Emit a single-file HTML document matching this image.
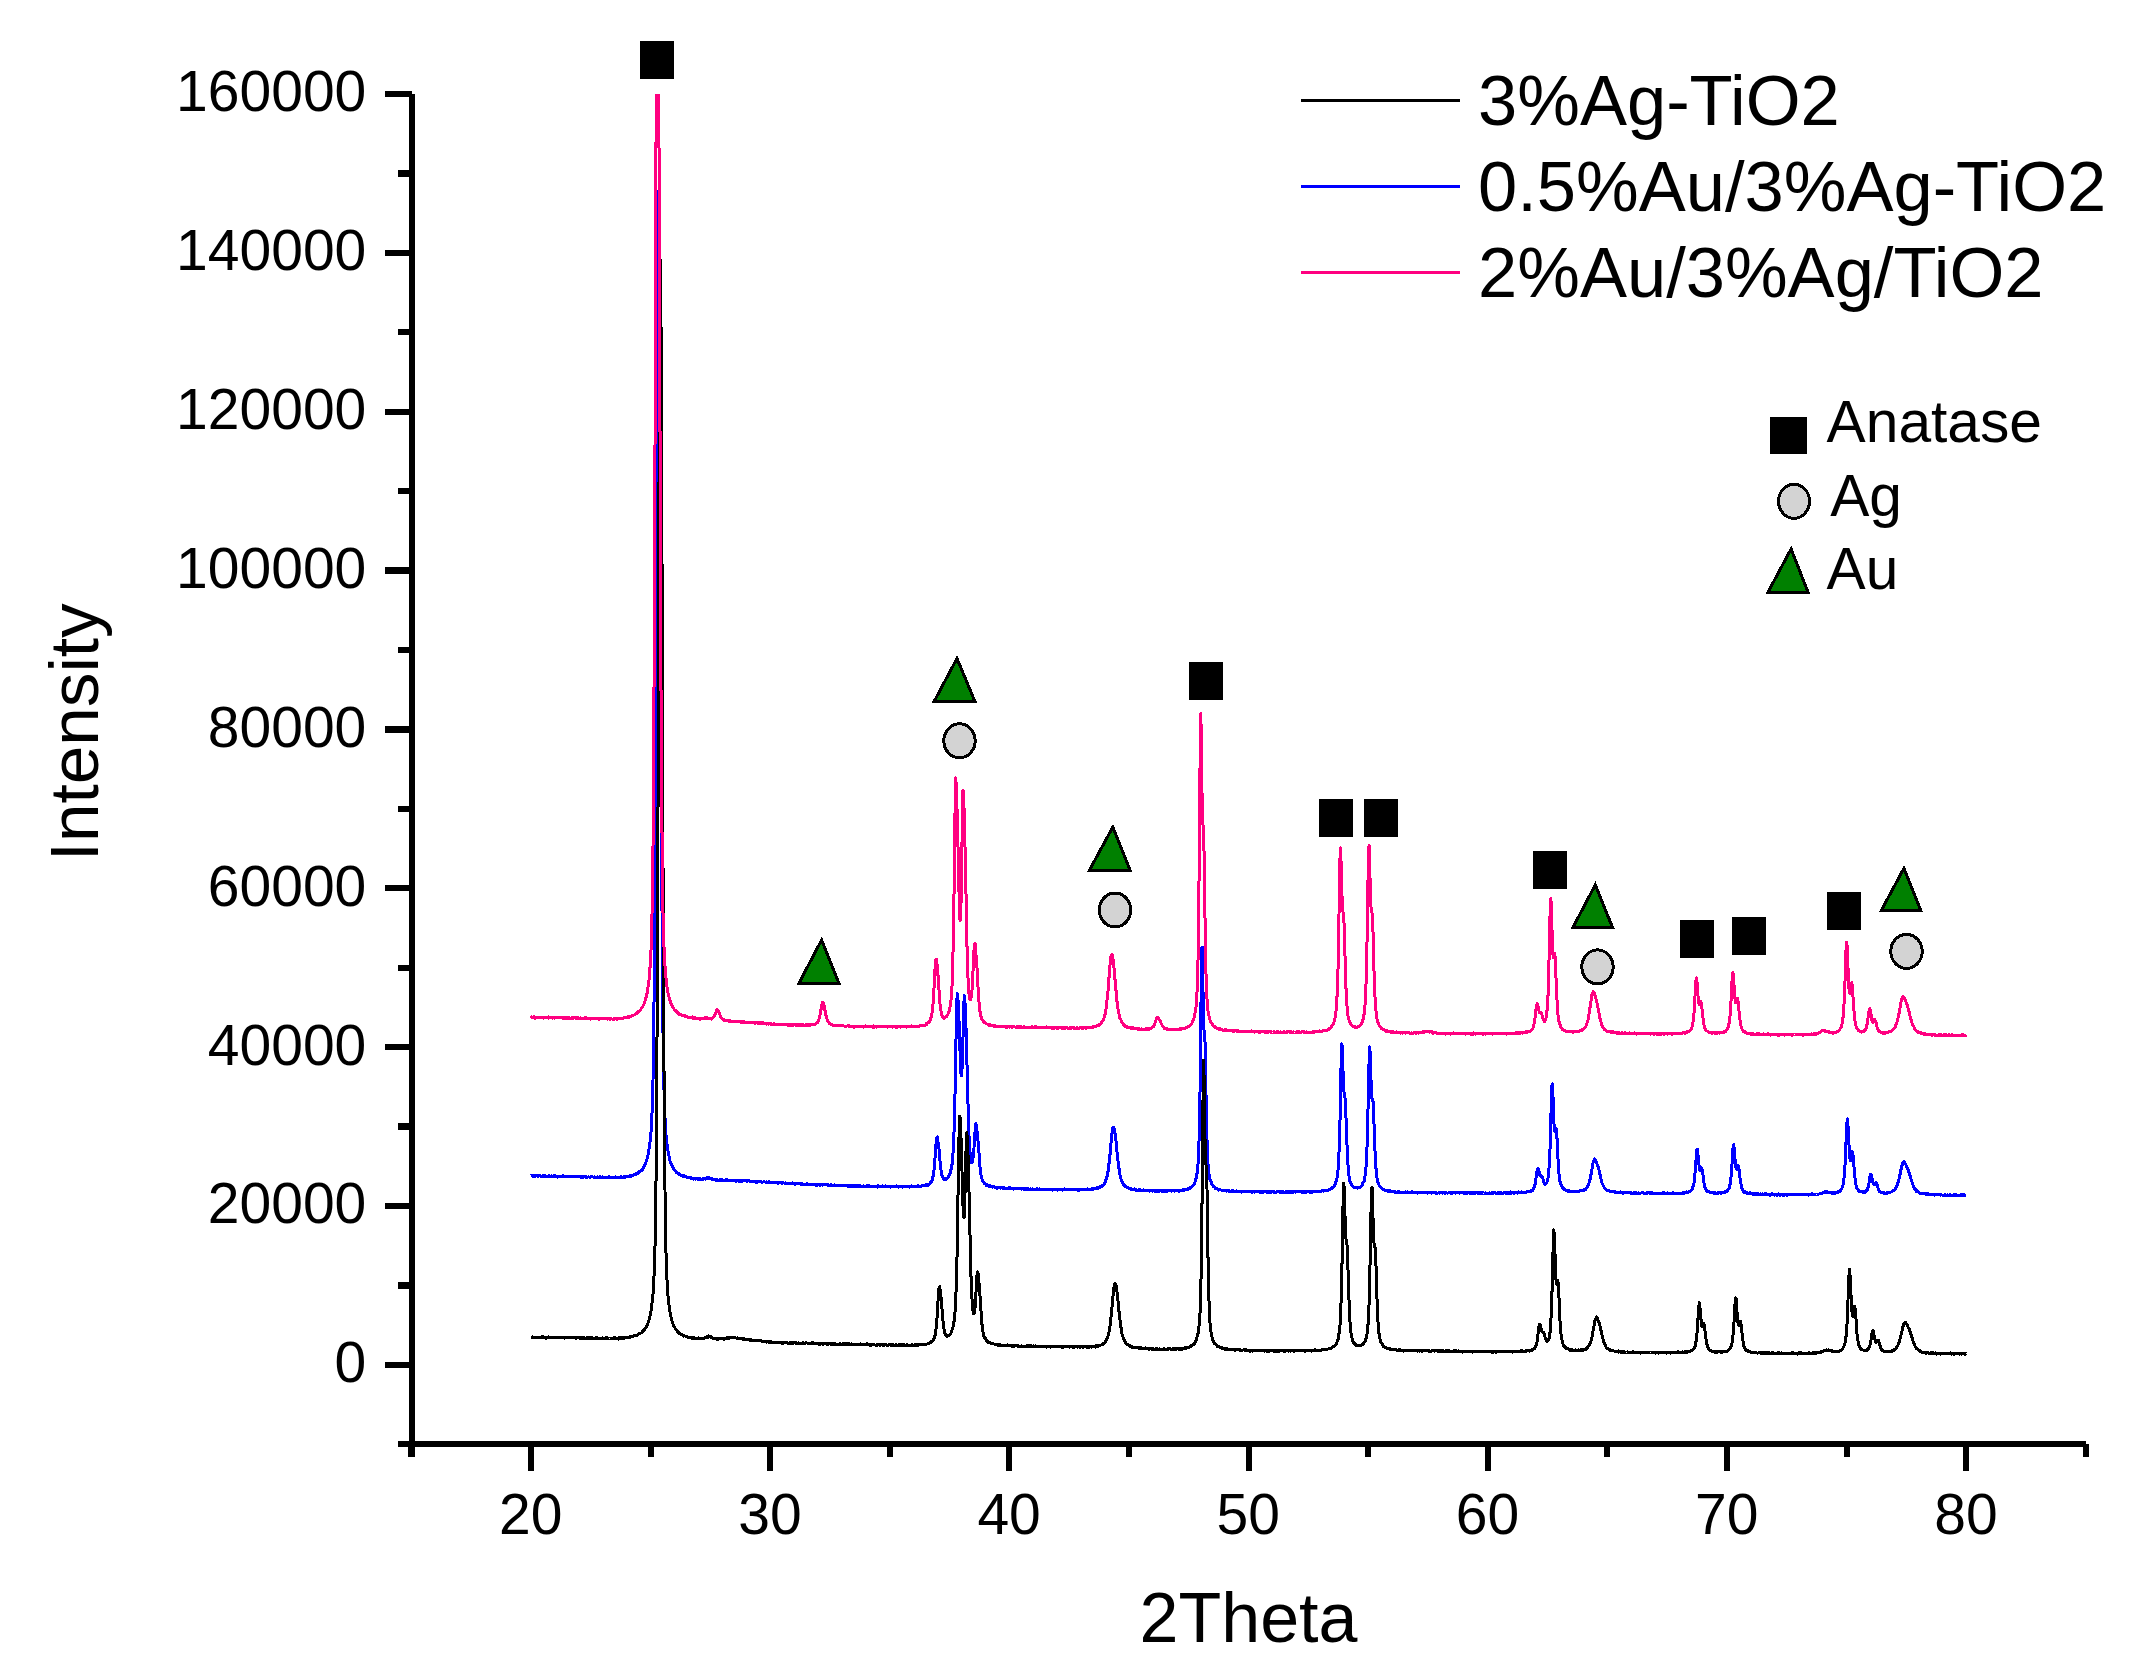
<!DOCTYPE html>
<html lang="en">
<head>
<meta charset="utf-8">
<title>XRD patterns</title>
<style>
html,body{margin:0;padding:0;background:#fff;}
body{width:2138px;height:1669px;overflow:hidden;}
svg{display:block;}
</style>
</head>
<body>
<svg width="2138" height="1669" viewBox="0 0 2138 1669">
<rect width="2138" height="1669" fill="#fff"/>
<defs><clipPath id="plotclip"><rect x="400" y="94" width="1700" height="1360"/></clipPath></defs>
<g fill="none" stroke-width="3" stroke-linejoin="round" stroke-linecap="butt" shape-rendering="crispEdges" clip-path="url(#plotclip)">
<path stroke="#0000ff" d="M531.0,1175.9 L531.5,1175.7 L532.0,1175.7 L532.4,1175.1 L532.9,1176.3 L533.4,1176.2 L533.9,1175.8 L534.3,1176.1 L534.8,1176.0 L535.3,1175.7 L535.8,1176.2 L536.3,1175.8 L536.7,1175.8 L537.2,1175.7 L537.7,1176.1 L538.2,1175.9 L538.7,1176.1 L539.1,1175.8 L539.6,1176.0 L540.1,1175.7 L540.6,1176.2 L541.0,1176.0 L541.5,1176.1 L542.0,1176.1 L542.5,1175.7 L543.0,1176.2 L543.4,1176.6 L543.9,1175.6 L544.4,1175.6 L544.9,1175.6 L545.4,1176.3 L545.8,1176.1 L546.3,1176.4 L546.8,1176.3 L547.3,1176.2 L547.7,1176.2 L548.2,1176.1 L548.7,1176.4 L549.2,1175.8 L549.7,1176.0 L550.1,1176.2 L550.6,1176.7 L551.1,1176.0 L551.6,1175.9 L552.0,1176.0 L552.5,1176.5 L553.0,1176.1 L553.5,1176.6 L554.0,1175.7 L554.4,1176.6 L554.9,1176.5 L555.4,1175.9 L555.9,1176.3 L556.4,1176.6 L556.8,1176.3 L557.3,1176.6 L557.8,1177.0 L558.3,1176.4 L558.7,1176.2 L559.2,1176.1 L559.7,1176.5 L560.2,1176.3 L560.7,1176.3 L561.1,1176.3 L561.6,1176.5 L562.1,1176.1 L562.6,1175.9 L563.1,1175.7 L563.5,1176.7 L564.0,1176.4 L564.5,1176.8 L565.0,1176.4 L565.4,1176.2 L565.9,1176.6 L566.4,1176.4 L566.9,1176.1 L567.4,1176.2 L567.8,1176.9 L568.3,1176.6 L568.8,1176.6 L569.3,1176.4 L569.8,1176.3 L570.2,1176.7 L570.7,1176.5 L571.2,1176.3 L571.7,1176.5 L572.1,1176.3 L572.6,1176.6 L573.1,1176.8 L573.6,1176.3 L574.1,1176.9 L574.5,1176.4 L575.0,1176.6 L575.5,1176.3 L576.0,1176.5 L576.4,1176.6 L576.9,1176.5 L577.4,1176.4 L577.9,1176.4 L578.4,1176.4 L578.8,1176.2 L579.3,1176.5 L579.8,1176.8 L580.3,1176.9 L580.8,1176.9 L581.2,1177.4 L581.7,1176.8 L582.2,1176.6 L582.7,1177.3 L583.1,1176.5 L583.6,1177.1 L584.1,1176.6 L584.6,1176.9 L585.1,1176.3 L585.5,1177.1 L586.0,1176.8 L586.5,1176.6 L587.0,1177.4 L587.5,1177.2 L587.9,1177.0 L588.4,1176.8 L588.9,1177.0 L589.4,1177.0 L589.8,1177.2 L590.3,1177.3 L590.8,1176.9 L591.3,1176.9 L591.8,1177.0 L592.2,1176.7 L592.7,1177.0 L593.2,1177.1 L593.7,1177.4 L594.1,1177.6 L594.6,1177.0 L595.1,1177.4 L595.6,1177.1 L596.1,1177.8 L596.5,1177.2 L597.0,1177.4 L597.5,1177.0 L598.0,1177.1 L598.5,1177.4 L598.9,1177.2 L599.4,1177.4 L599.9,1176.9 L600.4,1177.6 L600.8,1177.1 L601.3,1177.9 L601.8,1177.3 L602.3,1177.7 L602.8,1177.0 L603.2,1177.6 L603.7,1177.2 L604.2,1177.3 L604.7,1177.5 L605.2,1177.4 L605.6,1177.6 L606.1,1177.7 L606.6,1177.7 L607.1,1177.5 L607.5,1177.1 L608.0,1177.3 L608.5,1177.5 L609.0,1176.9 L609.5,1177.7 L609.9,1177.5 L610.4,1177.5 L610.9,1177.8 L611.4,1177.7 L611.8,1177.6 L612.3,1177.2 L612.8,1177.6 L613.3,1177.6 L613.8,1177.3 L614.2,1177.8 L614.7,1177.7 L615.2,1177.0 L615.7,1177.5 L616.2,1177.1 L616.6,1177.8 L617.1,1177.7 L617.6,1177.1 L618.1,1177.2 L618.5,1177.5 L619.0,1177.3 L619.5,1177.8 L620.0,1177.6 L620.5,1177.3 L620.9,1177.5 L621.4,1176.7 L621.9,1177.3 L622.4,1177.5 L622.9,1177.1 L623.3,1176.9 L623.8,1177.2 L624.3,1177.6 L624.8,1177.0 L625.2,1176.6 L625.7,1177.2 L626.2,1176.2 L626.7,1176.8 L627.2,1176.4 L627.6,1176.8 L628.1,1176.2 L628.6,1176.7 L629.1,1176.3 L629.6,1175.7 L630.0,1175.5 L630.5,1175.9 L631.0,1176.2 L631.5,1175.8 L631.9,1175.6 L632.4,1175.4 L632.9,1175.5 L633.4,1175.3 L633.9,1175.1 L634.3,1174.5 L634.8,1175.0 L635.3,1174.8 L635.8,1173.9 L636.2,1174.7 L636.7,1174.0 L637.2,1173.4 L637.7,1172.7 L638.2,1173.1 L638.6,1172.8 L639.1,1172.1 L639.6,1171.4 L640.1,1171.8 L640.6,1170.9 L641.0,1170.5 L641.5,1170.9 L642.0,1170.2 L642.5,1169.2 L642.9,1168.2 L643.4,1167.8 L643.9,1166.2 L644.4,1166.0 L644.9,1164.8 L645.3,1163.5 L645.8,1162.3 L646.3,1161.5 L646.8,1159.9 L647.3,1158.2 L647.7,1156.5 L648.2,1153.8 L648.7,1151.2 L649.2,1148.2 L649.6,1145.3 L650.1,1141.6 L650.6,1136.6 L651.1,1131.0 L651.6,1123.1 L652.0,1113.4 L652.5,1099.8 L653.0,1080.6 L653.5,1054.2 L653.9,1015.3 L654.4,961.3 L654.9,889.6 L655.4,797.8 L655.9,685.7 L656.3,559.2 L656.8,426.7 L657.3,307.9 L657.8,223.7 L658.3,191.5 L658.7,213.0 L659.2,280.6 L659.7,382.5 L660.2,503.9 L660.6,629.1 L661.1,745.1 L661.6,844.9 L662.1,925.0 L662.6,986.5 L663.0,1032.8 L663.5,1065.5 L664.0,1089.7 L664.5,1106.2 L665.0,1117.7 L665.4,1127.2 L665.9,1134.0 L666.4,1138.4 L666.9,1143.4 L667.3,1147.2 L667.8,1149.9 L668.3,1152.9 L668.8,1155.3 L669.3,1157.8 L669.7,1159.5 L670.2,1161.8 L670.7,1162.4 L671.2,1164.1 L671.6,1165.0 L672.1,1166.1 L672.6,1166.6 L673.1,1167.2 L673.6,1168.3 L674.0,1169.5 L674.5,1170.3 L675.0,1170.7 L675.5,1171.2 L676.0,1171.3 L676.4,1172.4 L676.9,1172.8 L677.4,1172.7 L677.9,1173.2 L678.3,1173.3 L678.8,1174.3 L679.3,1174.3 L679.8,1174.4 L680.3,1174.9 L680.7,1175.1 L681.2,1175.1 L681.7,1175.1 L682.2,1175.3 L682.7,1175.4 L683.1,1176.2 L683.6,1176.8 L684.1,1175.9 L684.6,1176.6 L685.0,1176.8 L685.5,1176.6 L686.0,1177.0 L686.5,1176.8 L687.0,1177.6 L687.4,1177.2 L687.9,1177.5 L688.4,1177.7 L688.9,1177.5 L689.4,1177.2 L689.8,1177.7 L690.3,1178.1 L690.8,1178.0 L691.3,1178.1 L691.7,1177.8 L692.2,1178.3 L692.7,1178.5 L693.2,1178.4 L693.7,1179.0 L694.1,1178.4 L694.6,1178.2 L695.1,1178.1 L695.6,1179.0 L696.0,1178.7 L696.5,1179.0 L697.0,1178.9 L697.5,1179.3 L698.0,1179.2 L698.4,1178.8 L698.9,1179.0 L699.4,1179.3 L699.9,1178.7 L700.4,1179.5 L700.8,1179.4 L701.3,1179.4 L701.8,1179.0 L702.3,1179.2 L702.7,1178.8 L703.2,1179.1 L703.7,1178.9 L704.2,1179.0 L704.7,1178.8 L705.1,1178.9 L705.6,1179.1 L706.1,1178.3 L706.6,1178.7 L707.1,1177.8 L707.5,1177.6 L708.0,1178.1 L708.5,1178.1 L709.0,1178.2 L709.4,1177.7 L709.9,1178.3 L710.4,1178.5 L710.9,1179.0 L711.4,1178.8 L711.8,1179.2 L712.3,1178.9 L712.8,1179.3 L713.3,1179.3 L713.7,1179.7 L714.2,1179.4 L714.7,1179.5 L715.2,1180.0 L715.7,1180.3 L716.1,1180.0 L716.6,1180.0 L717.1,1179.9 L717.6,1180.3 L718.1,1180.2 L718.5,1180.6 L719.0,1180.2 L719.5,1179.9 L720.0,1180.0 L720.4,1179.9 L720.9,1179.8 L721.4,1180.6 L721.9,1180.5 L722.4,1179.9 L722.8,1180.8 L723.3,1180.4 L723.8,1180.0 L724.3,1180.4 L724.8,1180.3 L725.2,1180.1 L725.7,1179.8 L726.2,1180.4 L726.7,1180.5 L727.1,1179.7 L727.6,1180.6 L728.1,1180.6 L728.6,1180.3 L729.1,1180.5 L729.5,1180.4 L730.0,1180.3 L730.5,1180.4 L731.0,1180.9 L731.4,1180.1 L731.9,1180.6 L732.4,1180.6 L732.9,1180.4 L733.4,1180.5 L733.8,1180.2 L734.3,1180.4 L734.8,1180.6 L735.3,1180.7 L735.8,1180.4 L736.2,1181.5 L736.7,1180.5 L737.2,1180.7 L737.7,1180.6 L738.1,1180.6 L738.6,1181.1 L739.1,1180.6 L739.6,1181.1 L740.1,1181.1 L740.5,1180.5 L741.0,1181.1 L741.5,1180.6 L742.0,1181.5 L742.5,1180.7 L742.9,1180.5 L743.4,1180.3 L743.9,1180.5 L744.4,1180.7 L744.8,1180.6 L745.3,1180.6 L745.8,1180.8 L746.3,1180.9 L746.8,1181.4 L747.2,1180.6 L747.7,1180.9 L748.2,1180.8 L748.7,1180.7 L749.2,1180.8 L749.6,1180.9 L750.1,1181.4 L750.6,1181.2 L751.1,1181.1 L751.5,1181.5 L752.0,1181.4 L752.5,1181.3 L753.0,1181.5 L753.5,1181.2 L753.9,1181.6 L754.4,1181.6 L754.9,1181.4 L755.4,1181.2 L755.8,1182.0 L756.3,1181.6 L756.8,1182.5 L757.3,1181.4 L757.8,1181.9 L758.2,1181.6 L758.7,1181.8 L759.2,1182.0 L759.7,1181.5 L760.2,1181.8 L760.6,1181.9 L761.1,1181.9 L761.6,1182.0 L762.1,1182.2 L762.5,1182.2 L763.0,1182.0 L763.5,1181.9 L764.0,1181.7 L764.5,1181.8 L764.9,1181.9 L765.4,1182.3 L765.9,1182.0 L766.4,1181.8 L766.9,1182.3 L767.3,1182.0 L767.8,1182.0 L768.3,1182.2 L768.8,1182.4 L769.2,1181.6 L769.7,1182.0 L770.2,1182.4 L770.7,1182.3 L771.2,1182.1 L771.6,1182.3 L772.1,1182.8 L772.6,1182.3 L773.1,1182.7 L773.5,1182.7 L774.0,1182.4 L774.5,1182.7 L775.0,1182.5 L775.5,1182.4 L775.9,1182.3 L776.4,1182.9 L776.9,1182.6 L777.4,1182.6 L777.9,1182.4 L778.3,1183.3 L778.8,1183.0 L779.3,1182.8 L779.8,1182.7 L780.2,1182.4 L780.7,1183.0 L781.2,1183.0 L781.7,1182.6 L782.2,1183.3 L782.6,1183.2 L783.1,1182.8 L783.6,1182.9 L784.1,1183.0 L784.6,1183.1 L785.0,1183.1 L785.5,1182.7 L786.0,1183.6 L786.5,1183.3 L786.9,1183.6 L787.4,1183.6 L787.9,1183.2 L788.4,1183.4 L788.9,1183.5 L789.3,1183.6 L789.8,1183.3 L790.3,1183.2 L790.8,1183.4 L791.2,1183.2 L791.7,1183.3 L792.2,1182.9 L792.7,1183.5 L793.2,1183.3 L793.6,1183.4 L794.1,1183.6 L794.6,1183.7 L795.1,1184.2 L795.6,1183.7 L796.0,1183.3 L796.5,1183.7 L797.0,1183.6 L797.5,1183.9 L797.9,1183.6 L798.4,1183.6 L798.9,1183.7 L799.4,1183.7 L799.9,1183.4 L800.3,1183.7 L800.8,1183.9 L801.3,1184.3 L801.8,1183.9 L802.3,1183.9 L802.7,1184.2 L803.2,1184.2 L803.7,1184.5 L804.2,1184.2 L804.6,1184.1 L805.1,1184.5 L805.6,1184.6 L806.1,1184.0 L806.6,1184.2 L807.0,1183.7 L807.5,1184.1 L808.0,1184.0 L808.5,1184.2 L809.0,1184.1 L809.4,1184.3 L809.9,1184.3 L810.4,1184.5 L810.9,1184.4 L811.3,1184.2 L811.8,1184.0 L812.3,1184.8 L812.8,1184.8 L813.3,1184.3 L813.7,1184.6 L814.2,1184.1 L814.7,1184.1 L815.2,1184.5 L815.6,1185.0 L816.1,1184.3 L816.6,1184.4 L817.1,1185.1 L817.6,1184.1 L818.0,1184.8 L818.5,1184.8 L819.0,1184.6 L819.5,1184.7 L820.0,1185.4 L820.4,1184.3 L820.9,1184.5 L821.4,1184.5 L821.9,1184.4 L822.3,1184.2 L822.8,1185.0 L823.3,1184.6 L823.8,1184.1 L824.3,1184.4 L824.7,1184.7 L825.2,1184.8 L825.7,1184.3 L826.2,1184.7 L826.7,1184.9 L827.1,1185.0 L827.6,1185.1 L828.1,1184.5 L828.6,1185.6 L829.0,1185.1 L829.5,1185.6 L830.0,1186.0 L830.5,1185.2 L831.0,1184.9 L831.4,1185.5 L831.9,1185.2 L832.4,1185.2 L832.9,1185.0 L833.3,1185.8 L833.8,1185.3 L834.3,1185.0 L834.8,1185.3 L835.3,1185.1 L835.7,1185.5 L836.2,1185.4 L836.7,1185.2 L837.2,1185.7 L837.7,1185.4 L838.1,1185.8 L838.6,1185.9 L839.1,1185.5 L839.6,1185.4 L840.0,1185.6 L840.5,1185.9 L841.0,1185.6 L841.5,1185.7 L842.0,1185.6 L842.4,1185.7 L842.9,1185.8 L843.4,1185.5 L843.9,1185.5 L844.4,1185.7 L844.8,1185.5 L845.3,1185.8 L845.8,1185.9 L846.3,1185.7 L846.7,1185.6 L847.2,1185.5 L847.7,1186.3 L848.2,1186.0 L848.7,1185.5 L849.1,1185.6 L849.6,1186.3 L850.1,1186.2 L850.6,1185.9 L851.0,1186.2 L851.5,1185.4 L852.0,1185.9 L852.5,1186.1 L853.0,1185.4 L853.4,1185.7 L853.9,1186.1 L854.4,1186.2 L854.9,1185.8 L855.4,1186.0 L855.8,1186.4 L856.3,1185.9 L856.8,1185.6 L857.3,1186.0 L857.7,1185.9 L858.2,1186.4 L858.7,1186.1 L859.2,1185.8 L859.7,1186.7 L860.1,1185.9 L860.6,1186.2 L861.1,1186.2 L861.6,1186.3 L862.1,1186.1 L862.5,1186.3 L863.0,1186.1 L863.5,1185.7 L864.0,1186.1 L864.4,1186.1 L864.9,1186.1 L865.4,1186.2 L865.9,1186.0 L866.4,1186.5 L866.8,1186.6 L867.3,1185.6 L867.8,1186.2 L868.3,1186.0 L868.8,1185.5 L869.2,1186.3 L869.7,1186.1 L870.2,1186.1 L870.7,1186.1 L871.1,1186.6 L871.6,1186.6 L872.1,1186.4 L872.6,1186.5 L873.1,1186.3 L873.5,1186.3 L874.0,1186.1 L874.5,1186.3 L875.0,1186.1 L875.4,1186.4 L875.9,1186.6 L876.4,1186.4 L876.9,1186.7 L877.4,1187.1 L877.8,1185.8 L878.3,1186.4 L878.8,1186.2 L879.3,1186.3 L879.8,1186.0 L880.2,1186.4 L880.7,1186.4 L881.2,1186.3 L881.7,1186.4 L882.1,1186.3 L882.6,1185.8 L883.1,1186.8 L883.6,1186.4 L884.1,1186.2 L884.5,1186.6 L885.0,1186.3 L885.5,1185.9 L886.0,1186.8 L886.5,1186.1 L886.9,1186.5 L887.4,1186.6 L887.9,1186.9 L888.4,1186.9 L888.8,1186.6 L889.3,1186.3 L889.8,1186.5 L890.3,1186.9 L890.8,1187.1 L891.2,1186.7 L891.7,1186.4 L892.2,1186.9 L892.7,1186.5 L893.1,1186.5 L893.6,1186.5 L894.1,1186.8 L894.6,1186.7 L895.1,1186.9 L895.5,1187.0 L896.0,1186.8 L896.5,1186.0 L897.0,1186.2 L897.5,1186.7 L897.9,1186.6 L898.4,1187.2 L898.9,1186.6 L899.4,1186.6 L899.8,1186.9 L900.3,1186.9 L900.8,1186.6 L901.3,1186.8 L901.8,1186.3 L902.2,1186.4 L902.7,1187.0 L903.2,1186.2 L903.7,1186.9 L904.2,1186.8 L904.6,1186.9 L905.1,1186.9 L905.6,1186.8 L906.1,1186.0 L906.5,1186.3 L907.0,1186.5 L907.5,1186.9 L908.0,1186.3 L908.5,1186.4 L908.9,1186.5 L909.4,1187.0 L909.9,1186.2 L910.4,1186.2 L910.8,1186.7 L911.3,1186.0 L911.8,1186.6 L912.3,1186.4 L912.8,1186.1 L913.2,1186.4 L913.7,1186.2 L914.2,1186.5 L914.7,1186.6 L915.2,1186.9 L915.6,1186.4 L916.1,1186.4 L916.6,1186.2 L917.1,1186.4 L917.5,1186.6 L918.0,1185.8 L918.5,1186.5 L919.0,1186.1 L919.5,1186.2 L919.9,1186.3 L920.4,1186.4 L920.9,1186.1 L921.4,1185.9 L921.9,1186.1 L922.3,1185.9 L922.8,1185.8 L923.3,1185.8 L923.8,1185.9 L924.2,1185.7 L924.7,1185.6 L925.2,1185.1 L925.7,1185.3 L926.2,1184.7 L926.6,1185.2 L927.1,1184.6 L927.6,1185.1 L928.1,1185.3 L928.6,1184.1 L929.0,1184.4 L929.5,1183.8 L930.0,1183.1 L930.5,1182.6 L930.9,1182.4 L931.4,1181.9 L931.9,1180.7 L932.4,1178.9 L932.9,1177.2 L933.3,1175.0 L933.8,1172.0 L934.3,1167.3 L934.8,1161.7 L935.2,1155.3 L935.7,1147.8 L936.2,1141.6 L936.7,1137.9 L937.2,1136.9 L937.6,1139.4 L938.1,1142.3 L938.6,1146.0 L939.1,1149.8 L939.6,1155.0 L940.0,1160.9 L940.5,1165.6 L941.0,1169.9 L941.5,1172.4 L941.9,1175.0 L942.4,1176.4 L942.9,1177.8 L943.4,1178.4 L943.9,1179.1 L944.3,1179.6 L944.8,1179.6 L945.3,1178.9 L945.8,1179.5 L946.3,1179.2 L946.7,1178.5 L947.2,1178.1 L947.7,1177.8 L948.2,1177.4 L948.6,1176.4 L949.1,1175.1 L949.6,1174.6 L950.1,1173.3 L950.6,1172.4 L951.0,1169.4 L951.5,1168.0 L952.0,1164.7 L952.5,1160.0 L952.9,1154.6 L953.4,1146.2 L953.9,1135.4 L954.4,1120.2 L954.9,1101.2 L955.3,1077.3 L955.8,1050.2 L956.3,1023.6 L956.8,1002.5 L957.3,993.3 L957.7,995.2 L958.2,1003.0 L958.7,1013.3 L959.2,1025.0 L959.6,1038.4 L960.1,1054.1 L960.6,1067.1 L961.1,1075.0 L961.6,1075.8 L962.0,1069.3 L962.5,1056.4 L963.0,1037.7 L963.5,1017.6 L964.0,1001.5 L964.4,995.7 L964.9,1000.2 L965.4,1011.3 L965.9,1023.9 L966.3,1038.8 L966.8,1056.3 L967.3,1076.8 L967.8,1096.2 L968.3,1113.6 L968.7,1129.0 L969.2,1139.7 L969.7,1148.4 L970.2,1154.4 L970.6,1158.4 L971.1,1161.6 L971.6,1162.7 L972.1,1162.5 L972.6,1161.4 L973.0,1158.4 L973.5,1154.2 L974.0,1147.7 L974.5,1139.9 L975.0,1131.9 L975.4,1125.7 L975.9,1123.6 L976.4,1125.1 L976.9,1129.3 L977.3,1133.8 L977.8,1139.0 L978.3,1144.2 L978.8,1149.9 L979.3,1157.4 L979.7,1163.5 L980.2,1168.7 L980.7,1173.0 L981.2,1175.7 L981.7,1177.0 L982.1,1179.3 L982.6,1180.5 L983.1,1181.5 L983.6,1182.5 L984.0,1182.4 L984.5,1183.5 L985.0,1183.2 L985.5,1184.0 L986.0,1184.5 L986.4,1185.3 L986.9,1184.7 L987.4,1184.7 L987.9,1185.5 L988.4,1185.4 L988.8,1186.2 L989.3,1185.7 L989.8,1185.8 L990.3,1186.5 L990.7,1186.3 L991.2,1186.7 L991.7,1186.1 L992.2,1187.1 L992.7,1186.6 L993.1,1187.0 L993.6,1186.6 L994.1,1186.6 L994.6,1187.0 L995.0,1187.2 L995.5,1187.6 L996.0,1187.4 L996.5,1187.5 L997.0,1187.6 L997.4,1188.3 L997.9,1187.3 L998.4,1187.9 L998.9,1187.6 L999.4,1187.7 L999.8,1187.5 L1000.3,1188.1 L1000.8,1187.4 L1001.3,1187.5 L1001.7,1187.8 L1002.2,1187.6 L1002.7,1188.1 L1003.2,1188.2 L1003.7,1187.8 L1004.1,1188.3 L1004.6,1187.9 L1005.1,1188.1 L1005.6,1188.1 L1006.1,1188.7 L1006.5,1188.2 L1007.0,1188.0 L1007.5,1188.0 L1008.0,1188.6 L1008.4,1187.8 L1008.9,1188.2 L1009.4,1188.3 L1009.9,1187.7 L1010.4,1188.3 L1010.8,1188.7 L1011.3,1188.5 L1011.8,1188.2 L1012.3,1188.7 L1012.7,1188.7 L1013.2,1189.1 L1013.7,1188.4 L1014.2,1188.5 L1014.7,1188.6 L1015.1,1188.6 L1015.6,1188.7 L1016.1,1188.6 L1016.6,1188.5 L1017.1,1188.3 L1017.5,1188.6 L1018.0,1188.3 L1018.5,1188.5 L1019.0,1188.6 L1019.4,1188.9 L1019.9,1189.0 L1020.4,1188.5 L1020.9,1188.9 L1021.4,1189.1 L1021.8,1188.9 L1022.3,1188.4 L1022.8,1188.3 L1023.3,1189.1 L1023.8,1189.2 L1024.2,1189.0 L1024.7,1188.7 L1025.2,1189.4 L1025.7,1189.3 L1026.1,1189.0 L1026.6,1188.9 L1027.1,1188.5 L1027.6,1189.2 L1028.1,1188.6 L1028.5,1189.3 L1029.0,1189.3 L1029.5,1189.1 L1030.0,1189.5 L1030.4,1189.0 L1030.9,1189.3 L1031.4,1189.4 L1031.9,1189.2 L1032.4,1189.0 L1032.8,1189.5 L1033.3,1189.3 L1033.8,1189.1 L1034.3,1189.2 L1034.8,1189.3 L1035.2,1189.9 L1035.7,1189.3 L1036.2,1189.2 L1036.7,1189.0 L1037.1,1188.9 L1037.6,1188.8 L1038.1,1189.4 L1038.6,1189.3 L1039.1,1189.0 L1039.5,1188.9 L1040.0,1189.3 L1040.5,1189.2 L1041.0,1189.0 L1041.5,1189.5 L1041.9,1189.4 L1042.4,1189.4 L1042.9,1189.6 L1043.4,1189.2 L1043.8,1189.8 L1044.3,1189.1 L1044.8,1189.6 L1045.3,1189.6 L1045.8,1189.4 L1046.2,1189.6 L1046.7,1189.1 L1047.2,1189.1 L1047.7,1189.4 L1048.2,1189.3 L1048.6,1189.7 L1049.1,1189.5 L1049.6,1189.7 L1050.1,1189.6 L1050.5,1189.6 L1051.0,1189.6 L1051.5,1189.5 L1052.0,1189.4 L1052.5,1190.2 L1052.9,1189.1 L1053.4,1189.5 L1053.9,1189.9 L1054.4,1189.7 L1054.8,1190.0 L1055.3,1189.8 L1055.8,1189.3 L1056.3,1189.6 L1056.8,1189.3 L1057.2,1189.9 L1057.7,1190.1 L1058.2,1189.5 L1058.7,1189.8 L1059.2,1189.6 L1059.6,1189.3 L1060.1,1189.6 L1060.6,1189.3 L1061.1,1189.5 L1061.5,1189.8 L1062.0,1189.9 L1062.5,1190.1 L1063.0,1189.6 L1063.5,1189.8 L1063.9,1189.8 L1064.4,1189.9 L1064.9,1188.9 L1065.4,1189.5 L1065.9,1190.0 L1066.3,1189.4 L1066.8,1189.8 L1067.3,1190.0 L1067.8,1189.2 L1068.2,1189.7 L1068.7,1189.8 L1069.2,1189.8 L1069.7,1189.3 L1070.2,1189.9 L1070.6,1189.6 L1071.1,1190.0 L1071.6,1189.9 L1072.1,1189.6 L1072.5,1189.8 L1073.0,1189.6 L1073.5,1189.6 L1074.0,1189.3 L1074.5,1189.7 L1074.9,1190.0 L1075.4,1189.8 L1075.9,1189.7 L1076.4,1189.6 L1076.9,1189.6 L1077.3,1189.9 L1077.8,1189.3 L1078.3,1190.3 L1078.8,1189.7 L1079.2,1190.3 L1079.7,1190.0 L1080.2,1189.6 L1080.7,1189.9 L1081.2,1189.7 L1081.6,1189.8 L1082.1,1189.9 L1082.6,1189.5 L1083.1,1189.4 L1083.6,1189.5 L1084.0,1189.2 L1084.5,1189.5 L1085.0,1189.6 L1085.5,1189.6 L1085.9,1189.6 L1086.4,1189.4 L1086.9,1189.7 L1087.4,1188.9 L1087.9,1189.3 L1088.3,1189.3 L1088.8,1189.6 L1089.3,1189.5 L1089.8,1189.5 L1090.2,1189.3 L1090.7,1189.5 L1091.2,1188.9 L1091.7,1189.1 L1092.2,1188.5 L1092.6,1189.5 L1093.1,1189.4 L1093.6,1188.7 L1094.1,1188.6 L1094.6,1188.2 L1095.0,1188.2 L1095.5,1188.6 L1096.0,1188.5 L1096.5,1188.0 L1096.9,1188.1 L1097.4,1188.0 L1097.9,1188.2 L1098.4,1188.1 L1098.9,1187.7 L1099.3,1187.6 L1099.8,1187.4 L1100.3,1186.6 L1100.8,1187.0 L1101.3,1186.6 L1101.7,1186.6 L1102.2,1185.5 L1102.7,1185.8 L1103.2,1185.0 L1103.6,1184.7 L1104.1,1184.3 L1104.6,1182.8 L1105.1,1182.0 L1105.6,1181.5 L1106.0,1179.6 L1106.5,1178.1 L1107.0,1176.6 L1107.5,1174.0 L1108.0,1171.6 L1108.4,1168.3 L1108.9,1164.5 L1109.4,1160.5 L1109.9,1156.2 L1110.3,1150.5 L1110.8,1145.7 L1111.3,1140.4 L1111.8,1135.3 L1112.3,1131.4 L1112.7,1128.3 L1113.2,1127.1 L1113.7,1127.4 L1114.2,1128.6 L1114.6,1131.3 L1115.1,1133.7 L1115.6,1137.8 L1116.1,1142.0 L1116.6,1146.9 L1117.0,1152.0 L1117.5,1156.1 L1118.0,1161.0 L1118.5,1164.7 L1119.0,1168.3 L1119.4,1171.8 L1119.9,1174.1 L1120.4,1176.7 L1120.9,1178.4 L1121.3,1180.0 L1121.8,1181.3 L1122.3,1182.0 L1122.8,1183.2 L1123.3,1184.3 L1123.7,1184.9 L1124.2,1185.0 L1124.7,1186.2 L1125.2,1186.5 L1125.7,1186.3 L1126.1,1186.7 L1126.6,1187.4 L1127.1,1187.1 L1127.6,1187.6 L1128.0,1188.0 L1128.5,1188.1 L1129.0,1188.3 L1129.5,1188.6 L1130.0,1188.4 L1130.4,1188.6 L1130.9,1189.5 L1131.4,1188.6 L1131.9,1189.0 L1132.3,1189.3 L1132.8,1189.1 L1133.3,1189.7 L1133.8,1189.5 L1134.3,1189.8 L1134.7,1188.9 L1135.2,1190.0 L1135.7,1190.1 L1136.2,1189.6 L1136.7,1190.2 L1137.1,1190.0 L1137.6,1190.2 L1138.1,1190.5 L1138.6,1190.1 L1139.0,1189.8 L1139.5,1190.2 L1140.0,1189.8 L1140.5,1190.0 L1141.0,1190.1 L1141.4,1190.1 L1141.9,1190.7 L1142.4,1190.6 L1142.9,1190.2 L1143.4,1190.7 L1143.8,1190.0 L1144.3,1190.3 L1144.8,1190.5 L1145.3,1190.9 L1145.7,1190.8 L1146.2,1190.7 L1146.7,1191.0 L1147.2,1190.8 L1147.7,1191.0 L1148.1,1190.4 L1148.6,1190.2 L1149.1,1190.6 L1149.6,1191.0 L1150.0,1190.8 L1150.5,1191.0 L1151.0,1191.0 L1151.5,1190.9 L1152.0,1191.0 L1152.4,1190.6 L1152.9,1191.1 L1153.4,1190.6 L1153.9,1190.8 L1154.4,1190.5 L1154.8,1191.0 L1155.3,1190.4 L1155.8,1191.3 L1156.3,1190.5 L1156.7,1191.0 L1157.2,1190.9 L1157.7,1190.7 L1158.2,1191.3 L1158.7,1190.8 L1159.1,1191.3 L1159.6,1190.6 L1160.1,1190.7 L1160.6,1190.4 L1161.1,1191.1 L1161.5,1191.2 L1162.0,1191.0 L1162.5,1190.9 L1163.0,1190.7 L1163.4,1191.6 L1163.9,1191.1 L1164.4,1190.4 L1164.9,1190.8 L1165.4,1190.2 L1165.8,1191.4 L1166.3,1191.5 L1166.8,1191.3 L1167.3,1190.9 L1167.8,1190.7 L1168.2,1190.5 L1168.7,1191.0 L1169.2,1190.7 L1169.7,1190.8 L1170.1,1190.7 L1170.6,1190.8 L1171.1,1191.1 L1171.6,1191.3 L1172.1,1190.8 L1172.5,1190.8 L1173.0,1190.5 L1173.5,1190.4 L1174.0,1190.4 L1174.4,1191.0 L1174.9,1190.8 L1175.4,1191.0 L1175.9,1190.8 L1176.4,1190.5 L1176.8,1190.3 L1177.3,1190.5 L1177.8,1190.2 L1178.3,1191.1 L1178.8,1190.6 L1179.2,1190.4 L1179.7,1191.0 L1180.2,1190.3 L1180.7,1190.5 L1181.1,1190.2 L1181.6,1190.3 L1182.1,1190.1 L1182.6,1190.3 L1183.1,1190.5 L1183.5,1189.6 L1184.0,1189.3 L1184.5,1190.2 L1185.0,1189.8 L1185.5,1189.9 L1185.9,1189.4 L1186.4,1189.8 L1186.9,1189.8 L1187.4,1188.8 L1187.8,1189.2 L1188.3,1188.6 L1188.8,1188.2 L1189.3,1188.3 L1189.8,1188.3 L1190.2,1187.5 L1190.7,1187.2 L1191.2,1187.6 L1191.7,1186.9 L1192.1,1186.6 L1192.6,1185.6 L1193.1,1185.2 L1193.6,1184.7 L1194.1,1184.0 L1194.5,1183.0 L1195.0,1182.3 L1195.5,1180.6 L1196.0,1178.4 L1196.5,1176.6 L1196.9,1174.2 L1197.4,1171.2 L1197.9,1165.9 L1198.4,1159.0 L1198.8,1148.4 L1199.3,1131.8 L1199.8,1107.1 L1200.3,1072.4 L1200.8,1028.3 L1201.2,980.8 L1201.7,947.6 L1202.2,947.1 L1202.7,972.5 L1203.2,1003.4 L1203.6,1023.5 L1204.1,1030.9 L1204.6,1032.9 L1205.1,1044.2 L1205.5,1065.5 L1206.0,1093.9 L1206.5,1119.1 L1207.0,1139.2 L1207.5,1152.6 L1207.9,1162.6 L1208.4,1168.9 L1208.9,1173.1 L1209.4,1176.5 L1209.8,1179.0 L1210.3,1180.5 L1210.8,1181.7 L1211.3,1182.3 L1211.8,1184.4 L1212.2,1184.7 L1212.7,1184.9 L1213.2,1186.1 L1213.7,1187.0 L1214.2,1187.0 L1214.6,1187.1 L1215.1,1188.4 L1215.6,1188.2 L1216.1,1188.4 L1216.5,1188.9 L1217.0,1188.2 L1217.5,1189.0 L1218.0,1189.1 L1218.5,1190.0 L1218.9,1189.3 L1219.4,1189.5 L1219.9,1189.4 L1220.4,1189.6 L1220.9,1189.9 L1221.3,1190.2 L1221.8,1190.1 L1222.3,1190.8 L1222.8,1190.5 L1223.2,1190.6 L1223.7,1190.9 L1224.2,1190.7 L1224.7,1190.4 L1225.2,1190.2 L1225.6,1190.8 L1226.1,1190.5 L1226.6,1191.2 L1227.1,1190.6 L1227.6,1190.3 L1228.0,1190.9 L1228.5,1191.3 L1229.0,1190.9 L1229.5,1191.1 L1229.9,1191.1 L1230.4,1191.6 L1230.9,1191.2 L1231.4,1191.1 L1231.9,1191.0 L1232.3,1190.7 L1232.8,1191.6 L1233.3,1191.6 L1233.8,1191.0 L1234.2,1191.5 L1234.7,1191.4 L1235.2,1191.2 L1235.7,1191.3 L1236.2,1191.6 L1236.6,1191.0 L1237.1,1191.3 L1237.6,1191.4 L1238.1,1191.4 L1238.6,1191.4 L1239.0,1191.5 L1239.5,1191.6 L1240.0,1191.2 L1240.5,1191.5 L1240.9,1191.4 L1241.4,1192.0 L1241.9,1191.1 L1242.4,1191.5 L1242.9,1191.8 L1243.3,1191.5 L1243.8,1191.5 L1244.3,1191.4 L1244.8,1191.7 L1245.3,1191.3 L1245.7,1191.6 L1246.2,1191.6 L1246.7,1191.2 L1247.2,1191.7 L1247.6,1191.5 L1248.1,1191.8 L1248.6,1191.9 L1249.1,1191.8 L1249.6,1191.4 L1250.0,1191.8 L1250.5,1191.3 L1251.0,1191.5 L1251.5,1192.2 L1251.9,1191.7 L1252.4,1192.2 L1252.9,1191.7 L1253.4,1191.8 L1253.9,1191.4 L1254.3,1192.0 L1254.8,1191.7 L1255.3,1192.0 L1255.8,1191.9 L1256.3,1192.0 L1256.7,1191.9 L1257.2,1191.8 L1257.7,1191.8 L1258.2,1191.6 L1258.6,1191.2 L1259.1,1192.0 L1259.6,1192.4 L1260.1,1192.2 L1260.6,1192.5 L1261.0,1192.0 L1261.5,1191.6 L1262.0,1191.6 L1262.5,1192.1 L1263.0,1192.0 L1263.4,1191.8 L1263.9,1192.1 L1264.4,1191.6 L1264.9,1192.0 L1265.3,1191.8 L1265.8,1192.0 L1266.3,1192.2 L1266.8,1191.9 L1267.3,1192.3 L1267.7,1192.3 L1268.2,1191.7 L1268.7,1192.6 L1269.2,1191.6 L1269.6,1191.9 L1270.1,1192.2 L1270.6,1191.3 L1271.1,1192.2 L1271.6,1192.3 L1272.0,1191.9 L1272.5,1192.0 L1273.0,1192.0 L1273.5,1191.9 L1274.0,1192.3 L1274.4,1191.9 L1274.9,1192.0 L1275.4,1192.1 L1275.9,1192.2 L1276.3,1192.3 L1276.8,1191.6 L1277.3,1191.4 L1277.8,1191.9 L1278.3,1192.0 L1278.7,1191.7 L1279.2,1192.1 L1279.7,1192.2 L1280.2,1192.1 L1280.7,1192.5 L1281.1,1191.7 L1281.6,1192.0 L1282.1,1192.6 L1282.6,1192.2 L1283.0,1191.7 L1283.5,1192.1 L1284.0,1192.3 L1284.5,1192.6 L1285.0,1192.2 L1285.4,1192.3 L1285.9,1191.7 L1286.4,1191.9 L1286.9,1192.3 L1287.4,1191.7 L1287.8,1192.0 L1288.3,1191.5 L1288.8,1192.4 L1289.3,1192.0 L1289.7,1192.2 L1290.2,1191.6 L1290.7,1191.6 L1291.2,1192.5 L1291.7,1191.9 L1292.1,1191.8 L1292.6,1192.1 L1293.1,1192.2 L1293.6,1191.4 L1294.0,1191.7 L1294.5,1192.0 L1295.0,1192.0 L1295.5,1192.1 L1296.0,1191.9 L1296.4,1191.9 L1296.9,1192.0 L1297.4,1191.8 L1297.9,1191.7 L1298.4,1191.8 L1298.8,1192.0 L1299.3,1191.9 L1299.8,1191.8 L1300.3,1191.9 L1300.7,1191.9 L1301.2,1192.0 L1301.7,1192.0 L1302.2,1191.6 L1302.7,1192.2 L1303.1,1191.5 L1303.6,1192.1 L1304.1,1191.7 L1304.6,1192.1 L1305.1,1192.2 L1305.5,1191.4 L1306.0,1192.1 L1306.5,1192.0 L1307.0,1191.7 L1307.4,1192.0 L1307.9,1191.7 L1308.4,1191.9 L1308.9,1191.5 L1309.4,1192.0 L1309.8,1192.0 L1310.3,1192.0 L1310.8,1191.6 L1311.3,1192.3 L1311.7,1192.3 L1312.2,1191.7 L1312.7,1191.6 L1313.2,1191.6 L1313.7,1191.9 L1314.1,1192.0 L1314.6,1191.5 L1315.1,1191.1 L1315.6,1191.7 L1316.1,1191.6 L1316.5,1191.6 L1317.0,1191.7 L1317.5,1191.2 L1318.0,1191.5 L1318.4,1191.4 L1318.9,1191.5 L1319.4,1191.7 L1319.9,1191.4 L1320.4,1191.1 L1320.8,1191.6 L1321.3,1191.4 L1321.8,1191.1 L1322.3,1190.6 L1322.8,1190.8 L1323.2,1191.1 L1323.7,1191.1 L1324.2,1190.7 L1324.7,1190.9 L1325.1,1190.6 L1325.6,1190.5 L1326.1,1190.7 L1326.6,1190.4 L1327.1,1190.4 L1327.5,1190.5 L1328.0,1190.4 L1328.5,1189.8 L1329.0,1189.7 L1329.4,1189.2 L1329.9,1189.0 L1330.4,1189.3 L1330.9,1188.8 L1331.4,1188.1 L1331.8,1188.5 L1332.3,1187.7 L1332.8,1187.5 L1333.3,1187.2 L1333.8,1186.6 L1334.2,1185.8 L1334.7,1184.5 L1335.2,1184.3 L1335.7,1182.8 L1336.1,1181.2 L1336.6,1179.1 L1337.1,1177.8 L1337.6,1174.2 L1338.1,1169.5 L1338.5,1162.8 L1339.0,1152.7 L1339.5,1138.5 L1340.0,1120.6 L1340.5,1097.8 L1340.9,1072.8 L1341.4,1052.3 L1341.9,1043.9 L1342.4,1049.7 L1342.8,1065.0 L1343.3,1080.4 L1343.8,1090.2 L1344.3,1094.7 L1344.8,1096.4 L1345.2,1100.0 L1345.7,1109.0 L1346.2,1122.8 L1346.7,1136.9 L1347.2,1149.7 L1347.6,1159.5 L1348.1,1166.7 L1348.6,1172.5 L1349.1,1176.3 L1349.5,1179.4 L1350.0,1181.5 L1350.5,1182.5 L1351.0,1183.7 L1351.5,1184.3 L1351.9,1184.9 L1352.4,1185.6 L1352.9,1186.1 L1353.4,1186.7 L1353.8,1186.9 L1354.3,1187.6 L1354.8,1187.3 L1355.3,1187.1 L1355.8,1187.7 L1356.2,1187.5 L1356.7,1187.8 L1357.2,1188.1 L1357.7,1187.5 L1358.2,1187.6 L1358.6,1187.7 L1359.1,1187.1 L1359.6,1187.2 L1360.1,1187.1 L1360.5,1186.8 L1361.0,1186.5 L1361.5,1185.9 L1362.0,1185.3 L1362.5,1184.1 L1362.9,1183.0 L1363.4,1182.4 L1363.9,1181.8 L1364.4,1179.8 L1364.9,1176.9 L1365.3,1174.4 L1365.8,1170.2 L1366.3,1163.2 L1366.8,1154.6 L1367.2,1141.0 L1367.7,1123.9 L1368.2,1101.6 L1368.7,1078.2 L1369.2,1056.0 L1369.6,1046.9 L1370.1,1051.9 L1370.6,1067.5 L1371.1,1082.7 L1371.5,1093.7 L1372.0,1098.5 L1372.5,1099.3 L1373.0,1101.4 L1373.5,1108.3 L1373.9,1120.7 L1374.4,1135.2 L1374.9,1148.4 L1375.4,1158.9 L1375.9,1166.8 L1376.3,1172.3 L1376.8,1176.8 L1377.3,1179.3 L1377.8,1181.7 L1378.2,1183.5 L1378.7,1184.4 L1379.2,1185.3 L1379.7,1186.1 L1380.2,1187.0 L1380.6,1187.3 L1381.1,1187.5 L1381.6,1188.2 L1382.1,1188.4 L1382.6,1189.4 L1383.0,1189.3 L1383.5,1189.1 L1384.0,1189.8 L1384.5,1190.2 L1384.9,1190.3 L1385.4,1190.2 L1385.9,1190.5 L1386.4,1190.7 L1386.9,1191.0 L1387.3,1190.9 L1387.8,1191.6 L1388.3,1191.0 L1388.8,1191.5 L1389.2,1191.2 L1389.7,1190.8 L1390.2,1191.0 L1390.7,1190.9 L1391.2,1191.0 L1391.6,1191.9 L1392.1,1191.4 L1392.6,1191.8 L1393.1,1191.4 L1393.6,1191.7 L1394.0,1191.5 L1394.5,1192.0 L1395.0,1191.8 L1395.5,1191.7 L1395.9,1191.9 L1396.4,1192.5 L1396.9,1192.1 L1397.4,1192.2 L1397.9,1191.7 L1398.3,1191.9 L1398.8,1192.2 L1399.3,1191.6 L1399.8,1192.5 L1400.3,1192.2 L1400.7,1192.2 L1401.2,1192.1 L1401.7,1192.1 L1402.2,1192.1 L1402.6,1192.6 L1403.1,1192.5 L1403.6,1192.6 L1404.1,1192.2 L1404.6,1192.1 L1405.0,1192.7 L1405.5,1192.0 L1406.0,1192.2 L1406.5,1192.6 L1407.0,1192.7 L1407.4,1192.0 L1407.9,1192.3 L1408.4,1192.4 L1408.9,1192.4 L1409.3,1192.2 L1409.8,1192.6 L1410.3,1192.3 L1410.8,1192.4 L1411.3,1191.9 L1411.7,1192.5 L1412.2,1192.0 L1412.7,1192.7 L1413.2,1192.7 L1413.6,1192.4 L1414.1,1192.6 L1414.6,1192.6 L1415.1,1192.5 L1415.6,1192.7 L1416.0,1192.5 L1416.5,1192.4 L1417.0,1192.4 L1417.5,1193.1 L1418.0,1192.7 L1418.4,1192.6 L1418.9,1192.8 L1419.4,1192.5 L1419.9,1192.5 L1420.3,1192.8 L1420.8,1192.9 L1421.3,1192.8 L1421.8,1192.2 L1422.3,1192.7 L1422.7,1192.7 L1423.2,1192.8 L1423.7,1192.4 L1424.2,1192.4 L1424.7,1192.7 L1425.1,1192.5 L1425.6,1192.4 L1426.1,1192.7 L1426.6,1193.0 L1427.0,1192.8 L1427.5,1193.0 L1428.0,1192.5 L1428.5,1192.9 L1429.0,1192.7 L1429.4,1192.5 L1429.9,1192.6 L1430.4,1192.5 L1430.9,1192.7 L1431.3,1192.6 L1431.8,1193.1 L1432.3,1192.7 L1432.8,1192.4 L1433.3,1192.7 L1433.7,1192.9 L1434.2,1192.7 L1434.7,1193.0 L1435.2,1192.5 L1435.7,1192.6 L1436.1,1193.3 L1436.6,1192.8 L1437.1,1193.0 L1437.6,1193.0 L1438.0,1193.0 L1438.5,1192.8 L1439.0,1192.8 L1439.5,1193.1 L1440.0,1192.7 L1440.4,1192.9 L1440.9,1193.0 L1441.4,1192.7 L1441.9,1192.4 L1442.4,1193.0 L1442.8,1193.1 L1443.3,1192.9 L1443.8,1192.4 L1444.3,1193.0 L1444.7,1193.4 L1445.2,1192.4 L1445.7,1192.1 L1446.2,1192.8 L1446.7,1192.9 L1447.1,1193.1 L1447.6,1193.1 L1448.1,1192.9 L1448.6,1193.0 L1449.0,1193.0 L1449.5,1192.9 L1450.0,1192.9 L1450.5,1192.9 L1451.0,1193.1 L1451.4,1193.0 L1451.9,1192.8 L1452.4,1193.2 L1452.9,1192.7 L1453.4,1192.8 L1453.8,1192.9 L1454.3,1192.4 L1454.8,1192.8 L1455.3,1193.2 L1455.7,1193.1 L1456.2,1192.6 L1456.7,1192.7 L1457.2,1192.6 L1457.7,1192.9 L1458.1,1192.9 L1458.6,1192.5 L1459.1,1193.0 L1459.6,1193.0 L1460.1,1192.9 L1460.5,1192.8 L1461.0,1192.9 L1461.5,1192.5 L1462.0,1193.0 L1462.4,1193.0 L1462.9,1192.9 L1463.4,1192.6 L1463.9,1193.3 L1464.4,1193.3 L1464.8,1192.4 L1465.3,1193.1 L1465.8,1193.0 L1466.3,1192.3 L1466.8,1193.1 L1467.2,1193.1 L1467.7,1193.2 L1468.2,1193.0 L1468.7,1192.8 L1469.1,1192.8 L1469.6,1193.1 L1470.1,1193.3 L1470.6,1192.8 L1471.1,1192.9 L1471.5,1193.2 L1472.0,1192.4 L1472.5,1193.1 L1473.0,1192.9 L1473.4,1192.4 L1473.9,1193.2 L1474.4,1192.7 L1474.9,1193.2 L1475.4,1193.4 L1475.8,1192.6 L1476.3,1192.7 L1476.8,1193.0 L1477.3,1192.5 L1477.8,1193.2 L1478.2,1193.0 L1478.7,1193.3 L1479.2,1192.5 L1479.7,1193.1 L1480.1,1193.1 L1480.6,1192.5 L1481.1,1193.2 L1481.6,1192.6 L1482.1,1193.0 L1482.5,1192.6 L1483.0,1193.2 L1483.5,1193.5 L1484.0,1193.0 L1484.5,1193.0 L1484.9,1193.4 L1485.4,1192.9 L1485.9,1193.0 L1486.4,1193.2 L1486.8,1193.1 L1487.3,1193.4 L1487.8,1193.3 L1488.3,1193.5 L1488.8,1193.0 L1489.2,1193.3 L1489.7,1192.8 L1490.2,1193.3 L1490.7,1193.5 L1491.1,1193.7 L1491.6,1192.7 L1492.1,1193.0 L1492.6,1193.2 L1493.1,1192.8 L1493.5,1193.2 L1494.0,1193.1 L1494.5,1192.9 L1495.0,1192.9 L1495.5,1192.7 L1495.9,1193.1 L1496.4,1193.3 L1496.9,1193.1 L1497.4,1193.7 L1497.8,1192.6 L1498.3,1192.8 L1498.8,1193.2 L1499.3,1192.7 L1499.8,1193.1 L1500.2,1193.2 L1500.7,1193.0 L1501.2,1192.9 L1501.7,1193.2 L1502.2,1193.1 L1502.6,1193.1 L1503.1,1193.1 L1503.6,1192.8 L1504.1,1192.6 L1504.5,1192.8 L1505.0,1193.0 L1505.5,1192.9 L1506.0,1193.2 L1506.5,1193.0 L1506.9,1193.2 L1507.4,1192.9 L1507.9,1192.7 L1508.4,1193.1 L1508.8,1193.0 L1509.3,1192.6 L1509.8,1192.7 L1510.3,1193.6 L1510.8,1191.9 L1511.2,1193.1 L1511.7,1192.8 L1512.2,1192.8 L1512.7,1192.7 L1513.2,1192.7 L1513.6,1193.4 L1514.1,1192.6 L1514.6,1192.7 L1515.1,1193.0 L1515.5,1192.8 L1516.0,1192.7 L1516.5,1192.6 L1517.0,1192.3 L1517.5,1193.0 L1517.9,1192.4 L1518.4,1192.0 L1518.9,1192.9 L1519.4,1192.8 L1519.9,1192.7 L1520.3,1192.4 L1520.8,1192.9 L1521.3,1192.2 L1521.8,1191.9 L1522.2,1192.5 L1522.7,1192.6 L1523.2,1192.5 L1523.7,1192.9 L1524.2,1192.5 L1524.6,1192.2 L1525.1,1192.2 L1525.6,1192.4 L1526.1,1192.1 L1526.6,1192.0 L1527.0,1191.5 L1527.5,1191.8 L1528.0,1191.4 L1528.5,1191.8 L1528.9,1191.6 L1529.4,1191.7 L1529.9,1191.8 L1530.4,1191.1 L1530.9,1191.4 L1531.3,1190.4 L1531.8,1190.5 L1532.3,1190.4 L1532.8,1190.3 L1533.2,1188.8 L1533.7,1188.3 L1534.2,1187.3 L1534.7,1185.7 L1535.2,1183.5 L1535.6,1180.7 L1536.1,1177.6 L1536.6,1174.4 L1537.1,1170.7 L1537.6,1169.2 L1538.0,1168.5 L1538.5,1168.9 L1539.0,1171.5 L1539.5,1174.1 L1539.9,1175.6 L1540.4,1176.3 L1540.9,1175.6 L1541.4,1175.8 L1541.9,1176.5 L1542.3,1177.0 L1542.8,1178.4 L1543.3,1180.3 L1543.8,1182.0 L1544.3,1182.9 L1544.7,1183.7 L1545.2,1184.3 L1545.7,1183.9 L1546.2,1183.4 L1546.6,1183.2 L1547.1,1181.5 L1547.6,1180.3 L1548.1,1177.5 L1548.6,1174.3 L1549.0,1168.2 L1549.5,1160.9 L1550.0,1149.6 L1550.5,1134.8 L1550.9,1117.2 L1551.4,1099.4 L1551.9,1086.2 L1552.4,1084.0 L1552.9,1093.5 L1553.3,1107.3 L1553.8,1120.4 L1554.3,1128.4 L1554.8,1131.8 L1555.3,1131.3 L1555.7,1129.5 L1556.2,1128.9 L1556.7,1132.5 L1557.2,1142.1 L1557.6,1151.8 L1558.1,1160.9 L1558.6,1168.8 L1559.1,1174.7 L1559.6,1178.6 L1560.0,1181.5 L1560.5,1183.4 L1561.0,1184.7 L1561.5,1186.1 L1562.0,1186.6 L1562.4,1187.9 L1562.9,1188.0 L1563.4,1189.1 L1563.9,1188.7 L1564.3,1189.8 L1564.8,1189.5 L1565.3,1189.7 L1565.8,1190.3 L1566.3,1190.6 L1566.7,1190.5 L1567.2,1190.6 L1567.7,1191.4 L1568.2,1191.1 L1568.6,1190.7 L1569.1,1191.0 L1569.6,1191.7 L1570.1,1191.3 L1570.6,1191.5 L1571.0,1191.9 L1571.5,1191.2 L1572.0,1191.5 L1572.5,1191.3 L1573.0,1191.5 L1573.4,1191.6 L1573.9,1191.1 L1574.4,1191.5 L1574.9,1191.5 L1575.3,1191.8 L1575.8,1191.3 L1576.3,1191.1 L1576.8,1191.6 L1577.3,1191.1 L1577.7,1191.4 L1578.2,1191.5 L1578.7,1191.1 L1579.2,1191.2 L1579.7,1190.9 L1580.1,1190.3 L1580.6,1190.6 L1581.1,1190.4 L1581.6,1190.8 L1582.0,1190.4 L1582.5,1190.5 L1583.0,1190.4 L1583.5,1190.5 L1584.0,1189.9 L1584.4,1189.7 L1584.9,1189.7 L1585.4,1189.6 L1585.9,1188.8 L1586.4,1188.4 L1586.8,1187.7 L1587.3,1186.8 L1587.8,1185.7 L1588.3,1185.1 L1588.7,1183.8 L1589.2,1182.4 L1589.7,1181.3 L1590.2,1178.7 L1590.7,1176.6 L1591.1,1173.9 L1591.6,1171.7 L1592.1,1168.4 L1592.6,1166.3 L1593.0,1163.1 L1593.5,1161.4 L1594.0,1160.0 L1594.5,1159.0 L1595.0,1159.4 L1595.4,1159.9 L1595.9,1160.6 L1596.4,1161.8 L1596.9,1163.4 L1597.4,1165.1 L1597.8,1165.9 L1598.3,1167.8 L1598.8,1169.2 L1599.3,1171.5 L1599.7,1173.2 L1600.2,1175.5 L1600.7,1177.8 L1601.2,1179.5 L1601.7,1181.3 L1602.1,1183.2 L1602.6,1184.2 L1603.1,1185.2 L1603.6,1186.1 L1604.1,1187.1 L1604.5,1188.3 L1605.0,1188.5 L1605.5,1189.0 L1606.0,1189.7 L1606.4,1190.1 L1606.9,1190.4 L1607.4,1190.3 L1607.9,1190.4 L1608.4,1190.3 L1608.8,1190.8 L1609.3,1191.0 L1609.8,1191.5 L1610.3,1191.5 L1610.7,1191.3 L1611.2,1191.8 L1611.7,1191.3 L1612.2,1191.5 L1612.7,1191.5 L1613.1,1191.6 L1613.6,1191.9 L1614.1,1191.8 L1614.6,1191.9 L1615.1,1192.5 L1615.5,1191.8 L1616.0,1192.0 L1616.5,1192.2 L1617.0,1192.5 L1617.4,1192.5 L1617.9,1192.3 L1618.4,1192.3 L1618.9,1192.4 L1619.4,1192.7 L1619.8,1192.3 L1620.3,1191.9 L1620.8,1192.6 L1621.3,1192.3 L1621.8,1192.6 L1622.2,1193.0 L1622.7,1192.7 L1623.2,1193.2 L1623.7,1192.2 L1624.1,1192.8 L1624.6,1192.8 L1625.1,1193.0 L1625.6,1192.5 L1626.1,1192.8 L1626.5,1192.8 L1627.0,1192.8 L1627.5,1192.4 L1628.0,1192.3 L1628.4,1193.0 L1628.9,1192.9 L1629.4,1192.9 L1629.9,1193.0 L1630.4,1193.2 L1630.8,1192.6 L1631.3,1193.1 L1631.8,1193.3 L1632.3,1193.2 L1632.8,1193.1 L1633.2,1193.1 L1633.7,1192.5 L1634.2,1192.8 L1634.7,1193.2 L1635.1,1193.4 L1635.6,1193.1 L1636.1,1192.8 L1636.6,1192.9 L1637.1,1193.2 L1637.5,1193.5 L1638.0,1193.2 L1638.5,1192.8 L1639.0,1193.2 L1639.5,1193.1 L1639.9,1193.7 L1640.4,1193.2 L1640.9,1193.0 L1641.4,1193.0 L1641.8,1192.7 L1642.3,1192.7 L1642.8,1192.9 L1643.3,1192.8 L1643.8,1193.1 L1644.2,1193.1 L1644.7,1193.3 L1645.2,1193.5 L1645.7,1193.1 L1646.2,1193.0 L1646.6,1192.6 L1647.1,1193.2 L1647.6,1193.3 L1648.1,1192.9 L1648.5,1193.0 L1649.0,1192.9 L1649.5,1193.4 L1650.0,1193.3 L1650.5,1193.5 L1650.9,1192.8 L1651.4,1193.9 L1651.9,1192.9 L1652.4,1192.9 L1652.8,1193.2 L1653.3,1193.0 L1653.8,1193.7 L1654.3,1193.1 L1654.8,1193.0 L1655.2,1193.5 L1655.7,1193.6 L1656.2,1193.0 L1656.7,1193.1 L1657.2,1193.1 L1657.6,1193.2 L1658.1,1193.7 L1658.6,1193.6 L1659.1,1193.6 L1659.5,1193.6 L1660.0,1193.3 L1660.5,1193.5 L1661.0,1193.2 L1661.5,1193.1 L1661.9,1193.7 L1662.4,1192.8 L1662.9,1193.3 L1663.4,1193.1 L1663.9,1192.8 L1664.3,1193.2 L1664.8,1193.3 L1665.3,1193.4 L1665.8,1193.1 L1666.2,1193.5 L1666.7,1193.4 L1667.2,1193.5 L1667.7,1192.8 L1668.2,1193.2 L1668.6,1193.1 L1669.1,1193.5 L1669.6,1193.1 L1670.1,1193.2 L1670.5,1193.0 L1671.0,1193.0 L1671.5,1193.0 L1672.0,1193.6 L1672.5,1193.0 L1672.9,1192.6 L1673.4,1193.4 L1673.9,1193.1 L1674.4,1193.4 L1674.9,1193.4 L1675.3,1193.2 L1675.8,1193.1 L1676.3,1193.1 L1676.8,1193.2 L1677.2,1193.0 L1677.7,1193.3 L1678.2,1193.6 L1678.7,1193.0 L1679.2,1193.0 L1679.6,1193.0 L1680.1,1193.3 L1680.6,1193.3 L1681.1,1193.5 L1681.6,1193.2 L1682.0,1193.1 L1682.5,1193.1 L1683.0,1192.6 L1683.5,1193.1 L1683.9,1192.9 L1684.4,1193.4 L1684.9,1193.1 L1685.4,1192.5 L1685.9,1192.5 L1686.3,1192.8 L1686.8,1191.9 L1687.3,1192.1 L1687.8,1192.3 L1688.2,1192.3 L1688.7,1192.0 L1689.2,1192.0 L1689.7,1191.4 L1690.2,1191.2 L1690.6,1190.8 L1691.1,1190.2 L1691.6,1190.0 L1692.1,1189.2 L1692.6,1188.4 L1693.0,1186.4 L1693.5,1185.4 L1694.0,1182.7 L1694.5,1179.1 L1694.9,1174.5 L1695.4,1168.3 L1695.9,1161.8 L1696.4,1155.0 L1696.9,1150.0 L1697.3,1149.3 L1697.8,1152.5 L1698.3,1157.9 L1698.8,1163.0 L1699.3,1167.4 L1699.7,1170.2 L1700.2,1170.6 L1700.7,1169.4 L1701.2,1168.2 L1701.6,1168.0 L1702.1,1169.0 L1702.6,1172.6 L1703.1,1175.8 L1703.6,1180.0 L1704.0,1183.1 L1704.5,1185.5 L1705.0,1187.4 L1705.5,1188.8 L1706.0,1189.0 L1706.4,1190.4 L1706.9,1191.1 L1707.4,1191.3 L1707.9,1191.8 L1708.3,1191.4 L1708.8,1191.9 L1709.3,1192.2 L1709.8,1192.2 L1710.3,1192.7 L1710.7,1192.6 L1711.2,1192.5 L1711.7,1192.9 L1712.2,1193.0 L1712.6,1192.7 L1713.1,1193.0 L1713.6,1193.0 L1714.1,1193.0 L1714.6,1192.6 L1715.0,1193.4 L1715.5,1193.2 L1716.0,1193.0 L1716.5,1193.1 L1717.0,1193.1 L1717.4,1193.0 L1717.9,1192.9 L1718.4,1193.1 L1718.9,1192.9 L1719.3,1192.9 L1719.8,1192.7 L1720.3,1192.9 L1720.8,1193.2 L1721.3,1192.9 L1721.7,1192.8 L1722.2,1192.7 L1722.7,1192.5 L1723.2,1192.2 L1723.7,1192.9 L1724.1,1192.1 L1724.6,1191.8 L1725.1,1192.2 L1725.6,1191.9 L1726.0,1191.5 L1726.5,1190.9 L1727.0,1190.6 L1727.5,1191.0 L1728.0,1190.0 L1728.4,1189.2 L1728.9,1188.9 L1729.4,1186.9 L1729.9,1185.0 L1730.3,1182.7 L1730.8,1178.9 L1731.3,1174.2 L1731.8,1166.9 L1732.3,1159.8 L1732.7,1151.6 L1733.2,1146.5 L1733.7,1144.7 L1734.2,1148.1 L1734.7,1154.0 L1735.1,1160.8 L1735.6,1165.9 L1736.1,1168.5 L1736.6,1169.4 L1737.0,1168.7 L1737.5,1167.3 L1738.0,1165.6 L1738.5,1167.4 L1739.0,1169.0 L1739.4,1173.6 L1739.9,1177.4 L1740.4,1180.7 L1740.9,1183.7 L1741.4,1186.3 L1741.8,1187.9 L1742.3,1189.3 L1742.8,1189.9 L1743.3,1191.5 L1743.7,1192.0 L1744.2,1191.2 L1744.7,1192.2 L1745.2,1192.6 L1745.7,1192.4 L1746.1,1192.6 L1746.6,1193.2 L1747.1,1193.1 L1747.6,1192.8 L1748.0,1193.6 L1748.5,1193.2 L1749.0,1193.9 L1749.5,1193.2 L1750.0,1192.9 L1750.4,1193.6 L1750.9,1194.0 L1751.4,1193.9 L1751.9,1193.8 L1752.4,1193.6 L1752.8,1194.1 L1753.3,1193.4 L1753.8,1194.2 L1754.3,1193.6 L1754.7,1193.8 L1755.2,1193.7 L1755.7,1193.8 L1756.2,1194.5 L1756.7,1193.8 L1757.1,1194.2 L1757.6,1193.9 L1758.1,1194.5 L1758.6,1193.8 L1759.1,1194.2 L1759.5,1194.5 L1760.0,1194.9 L1760.5,1193.9 L1761.0,1194.0 L1761.4,1194.3 L1761.9,1194.7 L1762.4,1194.0 L1762.9,1194.6 L1763.4,1194.2 L1763.8,1194.1 L1764.3,1193.9 L1764.8,1194.4 L1765.3,1194.7 L1765.8,1194.4 L1766.2,1193.8 L1766.7,1194.3 L1767.2,1194.7 L1767.7,1194.7 L1768.1,1194.5 L1768.6,1194.9 L1769.1,1194.1 L1769.6,1194.1 L1770.1,1195.2 L1770.5,1194.7 L1771.0,1194.5 L1771.5,1194.4 L1772.0,1193.8 L1772.4,1194.8 L1772.9,1194.0 L1773.4,1194.0 L1773.9,1194.5 L1774.4,1195.0 L1774.8,1194.5 L1775.3,1194.7 L1775.8,1194.5 L1776.3,1194.7 L1776.8,1194.1 L1777.2,1195.2 L1777.7,1194.3 L1778.2,1194.8 L1778.7,1194.0 L1779.1,1195.1 L1779.6,1194.7 L1780.1,1195.2 L1780.6,1194.4 L1781.1,1194.9 L1781.5,1194.6 L1782.0,1194.6 L1782.5,1195.0 L1783.0,1194.4 L1783.5,1194.8 L1783.9,1195.2 L1784.4,1195.1 L1784.9,1194.9 L1785.4,1194.7 L1785.8,1194.4 L1786.3,1195.1 L1786.8,1194.5 L1787.3,1195.0 L1787.8,1194.6 L1788.2,1194.7 L1788.7,1194.7 L1789.2,1194.8 L1789.7,1194.5 L1790.1,1194.7 L1790.6,1194.5 L1791.1,1194.8 L1791.6,1194.7 L1792.1,1194.8 L1792.5,1194.4 L1793.0,1194.7 L1793.5,1194.7 L1794.0,1194.8 L1794.5,1194.7 L1794.9,1194.4 L1795.4,1194.9 L1795.9,1194.5 L1796.4,1194.7 L1796.8,1194.1 L1797.3,1194.8 L1797.8,1194.8 L1798.3,1194.4 L1798.8,1194.8 L1799.2,1194.5 L1799.7,1195.0 L1800.2,1194.8 L1800.7,1194.3 L1801.2,1194.6 L1801.6,1194.1 L1802.1,1194.5 L1802.6,1194.8 L1803.1,1194.9 L1803.5,1194.6 L1804.0,1194.6 L1804.5,1194.7 L1805.0,1194.4 L1805.5,1194.7 L1805.9,1194.9 L1806.4,1194.7 L1806.9,1194.8 L1807.4,1194.4 L1807.8,1194.4 L1808.3,1194.7 L1808.8,1195.1 L1809.3,1194.9 L1809.8,1195.0 L1810.2,1194.6 L1810.7,1194.9 L1811.2,1194.0 L1811.7,1194.7 L1812.2,1193.9 L1812.6,1194.8 L1813.1,1194.6 L1813.6,1194.8 L1814.1,1194.6 L1814.5,1194.3 L1815.0,1194.2 L1815.5,1194.4 L1816.0,1194.8 L1816.5,1194.5 L1816.9,1194.1 L1817.4,1194.1 L1817.9,1194.0 L1818.4,1194.0 L1818.9,1194.0 L1819.3,1193.8 L1819.8,1193.8 L1820.3,1193.2 L1820.8,1193.9 L1821.2,1193.4 L1821.7,1193.6 L1822.2,1193.0 L1822.7,1192.7 L1823.2,1192.5 L1823.6,1192.4 L1824.1,1191.9 L1824.6,1191.9 L1825.1,1192.5 L1825.6,1192.2 L1826.0,1191.8 L1826.5,1192.1 L1827.0,1191.8 L1827.5,1192.5 L1827.9,1191.9 L1828.4,1192.5 L1828.9,1192.3 L1829.4,1192.3 L1829.9,1192.1 L1830.3,1192.4 L1830.8,1192.3 L1831.3,1192.4 L1831.8,1192.8 L1832.2,1193.5 L1832.7,1192.7 L1833.2,1193.2 L1833.7,1192.9 L1834.2,1192.7 L1834.6,1193.3 L1835.1,1193.0 L1835.6,1193.1 L1836.1,1192.8 L1836.6,1192.7 L1837.0,1192.3 L1837.5,1192.3 L1838.0,1192.6 L1838.5,1191.3 L1838.9,1191.8 L1839.4,1191.7 L1839.9,1191.2 L1840.4,1190.8 L1840.9,1189.9 L1841.3,1189.6 L1841.8,1188.7 L1842.3,1187.3 L1842.8,1186.3 L1843.3,1183.5 L1843.7,1179.9 L1844.2,1176.3 L1844.7,1170.3 L1845.2,1162.0 L1845.6,1151.9 L1846.1,1140.0 L1846.6,1127.9 L1847.1,1120.5 L1847.6,1118.8 L1848.0,1125.6 L1848.5,1134.8 L1849.0,1145.2 L1849.5,1152.9 L1849.9,1158.9 L1850.4,1160.5 L1850.9,1160.3 L1851.4,1157.7 L1851.9,1154.2 L1852.3,1151.5 L1852.8,1152.6 L1853.3,1157.5 L1853.8,1163.9 L1854.3,1170.3 L1854.7,1175.4 L1855.2,1179.8 L1855.7,1183.7 L1856.2,1185.4 L1856.6,1187.5 L1857.1,1188.4 L1857.6,1189.0 L1858.1,1189.7 L1858.6,1190.7 L1859.0,1191.0 L1859.5,1191.4 L1860.0,1191.4 L1860.5,1191.6 L1861.0,1192.0 L1861.4,1192.0 L1861.9,1191.7 L1862.4,1192.1 L1862.9,1192.7 L1863.3,1192.0 L1863.8,1192.3 L1864.3,1192.1 L1864.8,1192.2 L1865.3,1191.6 L1865.7,1191.2 L1866.2,1191.3 L1866.7,1190.4 L1867.2,1189.8 L1867.6,1188.5 L1868.1,1187.3 L1868.6,1185.0 L1869.1,1182.4 L1869.6,1179.1 L1870.0,1176.1 L1870.5,1174.2 L1871.0,1174.2 L1871.5,1175.5 L1872.0,1177.8 L1872.4,1180.1 L1872.9,1182.0 L1873.4,1184.1 L1873.9,1184.6 L1874.3,1184.8 L1874.8,1183.8 L1875.3,1183.2 L1875.8,1182.9 L1876.3,1183.0 L1876.7,1183.4 L1877.2,1185.3 L1877.7,1186.5 L1878.2,1188.6 L1878.7,1189.7 L1879.1,1191.1 L1879.6,1191.7 L1880.1,1191.6 L1880.6,1192.2 L1881.0,1192.3 L1881.5,1192.7 L1882.0,1193.0 L1882.5,1192.9 L1883.0,1193.0 L1883.4,1192.6 L1883.9,1193.2 L1884.4,1193.0 L1884.9,1193.2 L1885.4,1193.3 L1885.8,1193.0 L1886.3,1193.2 L1886.8,1192.8 L1887.3,1193.2 L1887.7,1192.9 L1888.2,1192.6 L1888.7,1192.6 L1889.2,1192.2 L1889.7,1192.3 L1890.1,1192.3 L1890.6,1192.2 L1891.1,1192.0 L1891.6,1191.7 L1892.0,1191.6 L1892.5,1190.8 L1893.0,1191.1 L1893.5,1190.9 L1894.0,1190.6 L1894.4,1190.2 L1894.9,1189.3 L1895.4,1188.6 L1895.9,1187.7 L1896.4,1186.8 L1896.8,1186.0 L1897.3,1185.1 L1897.8,1182.9 L1898.3,1181.6 L1898.7,1180.1 L1899.2,1177.9 L1899.7,1176.2 L1900.2,1173.5 L1900.7,1171.5 L1901.1,1168.8 L1901.6,1167.2 L1902.1,1165.0 L1902.6,1163.8 L1903.1,1162.5 L1903.5,1161.8 L1904.0,1161.9 L1904.5,1162.4 L1905.0,1163.1 L1905.4,1163.9 L1905.9,1164.9 L1906.4,1166.0 L1906.9,1167.2 L1907.4,1167.9 L1907.8,1169.2 L1908.3,1169.9 L1908.8,1171.9 L1909.3,1173.2 L1909.7,1174.6 L1910.2,1176.2 L1910.7,1177.5 L1911.2,1179.7 L1911.7,1181.2 L1912.1,1182.3 L1912.6,1183.9 L1913.1,1185.4 L1913.6,1186.4 L1914.1,1187.4 L1914.5,1188.1 L1915.0,1189.2 L1915.5,1189.6 L1916.0,1190.4 L1916.4,1191.3 L1916.9,1190.6 L1917.4,1191.4 L1917.9,1191.8 L1918.4,1191.9 L1918.8,1192.6 L1919.3,1192.5 L1919.8,1193.2 L1920.3,1193.1 L1920.8,1193.2 L1921.2,1193.2 L1921.7,1193.6 L1922.2,1193.6 L1922.7,1193.9 L1923.1,1193.8 L1923.6,1194.0 L1924.1,1193.9 L1924.6,1194.0 L1925.1,1193.5 L1925.5,1194.0 L1926.0,1194.2 L1926.5,1193.8 L1927.0,1193.8 L1927.4,1194.2 L1927.9,1194.4 L1928.4,1193.9 L1928.9,1194.5 L1929.4,1194.7 L1929.8,1194.4 L1930.3,1194.6 L1930.8,1194.6 L1931.3,1194.4 L1931.8,1194.8 L1932.2,1194.7 L1932.7,1194.3 L1933.2,1194.8 L1933.7,1194.9 L1934.1,1194.4 L1934.6,1195.0 L1935.1,1194.7 L1935.6,1194.4 L1936.1,1194.5 L1936.5,1194.6 L1937.0,1195.0 L1937.5,1194.7 L1938.0,1194.8 L1938.5,1194.5 L1938.9,1194.9 L1939.4,1194.6 L1939.9,1194.7 L1940.4,1195.1 L1940.8,1195.1 L1941.3,1194.8 L1941.8,1195.0 L1942.3,1195.1 L1942.8,1195.0 L1943.2,1195.3 L1943.7,1195.4 L1944.2,1195.0 L1944.7,1194.7 L1945.2,1195.0 L1945.6,1195.4 L1946.1,1195.4 L1946.6,1195.4 L1947.1,1195.4 L1947.5,1194.9 L1948.0,1195.1 L1948.5,1195.4 L1949.0,1195.1 L1949.5,1195.3 L1949.9,1194.8 L1950.4,1194.7 L1950.9,1195.6 L1951.4,1195.3 L1951.8,1195.3 L1952.3,1195.5 L1952.8,1195.7 L1953.3,1195.9 L1953.8,1194.4 L1954.2,1195.2 L1954.7,1195.4 L1955.2,1194.6 L1955.7,1194.6 L1956.2,1195.1 L1956.6,1195.6 L1957.1,1195.4 L1957.6,1195.7 L1958.1,1195.2 L1958.5,1195.4 L1959.0,1195.5 L1959.5,1195.2 L1960.0,1195.1 L1960.5,1195.1 L1960.9,1194.1 L1961.4,1195.2 L1961.9,1194.6 L1962.4,1194.9 L1962.9,1195.3 L1963.3,1195.2 L1963.8,1194.5 L1964.3,1195.3 L1964.8,1195.3 L1965.2,1195.2 L1965.7,1195.3 L1966.2,1195.3"/>
<path stroke="#000000" d="M531.0,1337.3 L531.5,1337.4 L532.0,1337.3 L532.4,1336.9 L532.9,1337.5 L533.4,1337.4 L533.9,1337.1 L534.3,1337.4 L534.8,1337.4 L535.3,1337.3 L535.8,1337.3 L536.3,1337.4 L536.7,1337.1 L537.2,1337.2 L537.7,1337.2 L538.2,1337.5 L538.7,1337.3 L539.1,1337.2 L539.6,1337.1 L540.1,1337.3 L540.6,1337.3 L541.0,1337.3 L541.5,1337.7 L542.0,1337.6 L542.5,1336.6 L543.0,1336.8 L543.4,1337.3 L543.9,1337.3 L544.4,1337.5 L544.9,1337.5 L545.4,1338.0 L545.8,1337.1 L546.3,1337.3 L546.8,1338.0 L547.3,1337.6 L547.7,1337.6 L548.2,1337.3 L548.7,1337.0 L549.2,1337.5 L549.7,1337.5 L550.1,1337.1 L550.6,1337.3 L551.1,1337.5 L551.6,1337.2 L552.0,1337.5 L552.5,1337.5 L553.0,1337.5 L553.5,1337.4 L554.0,1337.7 L554.4,1337.8 L554.9,1337.6 L555.4,1337.3 L555.9,1337.8 L556.4,1337.4 L556.8,1337.8 L557.3,1337.3 L557.8,1337.8 L558.3,1337.6 L558.7,1337.2 L559.2,1337.5 L559.7,1337.6 L560.2,1337.7 L560.7,1337.3 L561.1,1337.3 L561.6,1337.7 L562.1,1337.5 L562.6,1337.7 L563.1,1337.9 L563.5,1337.2 L564.0,1337.7 L564.5,1338.0 L565.0,1337.6 L565.4,1337.4 L565.9,1337.9 L566.4,1337.8 L566.9,1337.9 L567.4,1337.6 L567.8,1337.3 L568.3,1337.7 L568.8,1337.6 L569.3,1337.9 L569.8,1337.8 L570.2,1337.3 L570.7,1337.4 L571.2,1338.0 L571.7,1337.9 L572.1,1337.6 L572.6,1337.7 L573.1,1337.9 L573.6,1337.9 L574.1,1338.0 L574.5,1337.8 L575.0,1337.7 L575.5,1337.7 L576.0,1338.1 L576.4,1337.2 L576.9,1337.7 L577.4,1337.8 L577.9,1337.4 L578.4,1337.9 L578.8,1337.6 L579.3,1338.1 L579.8,1337.8 L580.3,1338.0 L580.8,1338.2 L581.2,1338.0 L581.7,1337.6 L582.2,1337.5 L582.7,1338.4 L583.1,1337.9 L583.6,1337.7 L584.1,1338.0 L584.6,1337.9 L585.1,1338.2 L585.5,1338.0 L586.0,1338.0 L586.5,1337.8 L587.0,1338.1 L587.5,1337.7 L587.9,1338.2 L588.4,1338.5 L588.9,1337.6 L589.4,1337.4 L589.8,1338.2 L590.3,1338.8 L590.8,1337.8 L591.3,1337.8 L591.8,1338.3 L592.2,1337.9 L592.7,1338.0 L593.2,1338.0 L593.7,1338.3 L594.1,1338.0 L594.6,1338.2 L595.1,1338.1 L595.6,1338.0 L596.1,1338.1 L596.5,1337.9 L597.0,1338.2 L597.5,1337.9 L598.0,1337.9 L598.5,1338.6 L598.9,1338.2 L599.4,1338.2 L599.9,1338.4 L600.4,1338.1 L600.8,1338.2 L601.3,1338.4 L601.8,1338.4 L602.3,1338.0 L602.8,1338.5 L603.2,1338.1 L603.7,1338.0 L604.2,1338.0 L604.7,1338.2 L605.2,1338.8 L605.6,1338.0 L606.1,1338.4 L606.6,1337.7 L607.1,1338.3 L607.5,1338.6 L608.0,1338.2 L608.5,1338.1 L609.0,1338.4 L609.5,1338.5 L609.9,1338.5 L610.4,1338.9 L610.9,1338.4 L611.4,1338.1 L611.8,1338.3 L612.3,1338.3 L612.8,1338.3 L613.3,1338.3 L613.8,1338.3 L614.2,1337.8 L614.7,1338.5 L615.2,1338.1 L615.7,1337.9 L616.2,1338.4 L616.6,1338.6 L617.1,1338.3 L617.6,1338.2 L618.1,1337.9 L618.5,1339.0 L619.0,1338.4 L619.5,1337.8 L620.0,1337.9 L620.5,1338.1 L620.9,1337.6 L621.4,1338.1 L621.9,1337.9 L622.4,1338.3 L622.9,1338.2 L623.3,1337.1 L623.8,1337.8 L624.3,1337.3 L624.8,1338.0 L625.2,1337.7 L625.7,1337.8 L626.2,1337.3 L626.7,1338.0 L627.2,1338.0 L627.6,1337.1 L628.1,1337.4 L628.6,1337.1 L629.1,1337.2 L629.6,1336.7 L630.0,1337.5 L630.5,1336.7 L631.0,1336.8 L631.5,1336.9 L631.9,1336.5 L632.4,1336.5 L632.9,1336.3 L633.4,1336.3 L633.9,1335.8 L634.3,1335.9 L634.8,1335.8 L635.3,1335.7 L635.8,1335.6 L636.2,1335.3 L636.7,1335.5 L637.2,1335.0 L637.7,1334.8 L638.2,1334.4 L638.6,1334.3 L639.1,1333.8 L639.6,1334.0 L640.1,1333.3 L640.6,1333.1 L641.0,1333.1 L641.5,1332.7 L642.0,1332.1 L642.5,1331.3 L642.9,1331.5 L643.4,1331.0 L643.9,1330.0 L644.4,1330.0 L644.9,1329.0 L645.3,1328.1 L645.8,1327.7 L646.3,1326.8 L646.8,1326.0 L647.3,1324.5 L647.7,1324.3 L648.2,1322.3 L648.7,1320.6 L649.2,1319.6 L649.6,1317.5 L650.1,1315.7 L650.6,1313.1 L651.1,1310.4 L651.6,1307.4 L652.0,1303.4 L652.5,1299.4 L653.0,1293.8 L653.5,1287.1 L653.9,1278.9 L654.4,1267.7 L654.9,1251.6 L655.4,1228.4 L655.9,1195.3 L656.3,1146.1 L656.8,1078.1 L657.3,986.7 L657.8,869.2 L658.3,729.7 L658.7,576.4 L659.2,428.9 L659.7,314.3 L660.2,259.4 L660.6,271.3 L661.1,339.1 L661.6,452.1 L662.1,588.9 L662.6,733.4 L663.0,868.0 L663.5,981.6 L664.0,1071.5 L664.5,1140.4 L665.0,1190.0 L665.4,1224.5 L665.9,1248.8 L666.4,1265.9 L666.9,1277.6 L667.3,1286.9 L667.8,1293.6 L668.3,1298.9 L668.8,1303.2 L669.3,1307.3 L669.7,1310.3 L670.2,1313.6 L670.7,1315.8 L671.2,1318.0 L671.6,1319.7 L672.1,1321.4 L672.6,1322.5 L673.1,1324.2 L673.6,1325.7 L674.0,1326.2 L674.5,1327.0 L675.0,1328.0 L675.5,1328.7 L676.0,1329.3 L676.4,1330.2 L676.9,1330.7 L677.4,1331.7 L677.9,1331.8 L678.3,1332.4 L678.8,1333.0 L679.3,1333.0 L679.8,1333.9 L680.3,1333.6 L680.7,1333.9 L681.2,1334.3 L681.7,1334.7 L682.2,1334.6 L682.7,1335.2 L683.1,1335.0 L683.6,1336.0 L684.1,1335.8 L684.6,1335.9 L685.0,1336.0 L685.5,1336.3 L686.0,1336.5 L686.5,1336.4 L687.0,1336.6 L687.4,1336.9 L687.9,1336.9 L688.4,1337.4 L688.9,1337.6 L689.4,1337.4 L689.8,1337.6 L690.3,1337.2 L690.8,1337.8 L691.3,1337.7 L691.7,1337.9 L692.2,1338.3 L692.7,1337.3 L693.2,1338.1 L693.7,1337.7 L694.1,1338.3 L694.6,1337.8 L695.1,1338.0 L695.6,1338.3 L696.0,1338.4 L696.5,1338.3 L697.0,1338.1 L697.5,1338.2 L698.0,1338.7 L698.4,1338.4 L698.9,1338.0 L699.4,1338.7 L699.9,1338.6 L700.4,1338.7 L700.8,1338.4 L701.3,1338.7 L701.8,1338.2 L702.3,1338.6 L702.7,1338.3 L703.2,1338.5 L703.7,1338.5 L704.2,1337.9 L704.7,1338.0 L705.1,1337.9 L705.6,1338.0 L706.1,1337.6 L706.6,1336.8 L707.1,1337.0 L707.5,1336.9 L708.0,1337.1 L708.5,1335.9 L709.0,1336.2 L709.4,1336.9 L709.9,1336.3 L710.4,1336.5 L710.9,1337.3 L711.4,1337.7 L711.8,1337.5 L712.3,1338.0 L712.8,1338.1 L713.3,1338.7 L713.7,1338.4 L714.2,1338.8 L714.7,1338.4 L715.2,1338.6 L715.7,1338.7 L716.1,1339.1 L716.6,1339.0 L717.1,1338.6 L717.6,1339.1 L718.1,1339.1 L718.5,1338.8 L719.0,1338.8 L719.5,1338.8 L720.0,1338.4 L720.4,1338.9 L720.9,1338.9 L721.4,1338.6 L721.9,1339.0 L722.4,1338.4 L722.8,1338.6 L723.3,1338.5 L723.8,1339.2 L724.3,1338.1 L724.8,1338.7 L725.2,1338.7 L725.7,1338.5 L726.2,1338.7 L726.7,1338.0 L727.1,1337.6 L727.6,1338.4 L728.1,1337.7 L728.6,1337.9 L729.1,1337.6 L729.5,1338.2 L730.0,1338.0 L730.5,1337.5 L731.0,1337.9 L731.4,1337.7 L731.9,1337.6 L732.4,1337.6 L732.9,1337.5 L733.4,1337.8 L733.8,1337.7 L734.3,1337.6 L734.8,1338.0 L735.3,1337.6 L735.8,1337.9 L736.2,1338.0 L736.7,1338.4 L737.2,1337.9 L737.7,1338.6 L738.1,1338.2 L738.6,1338.2 L739.1,1338.1 L739.6,1338.5 L740.1,1338.4 L740.5,1338.2 L741.0,1338.2 L741.5,1338.4 L742.0,1338.5 L742.5,1339.0 L742.9,1339.1 L743.4,1339.0 L743.9,1338.9 L744.4,1338.8 L744.8,1339.0 L745.3,1339.3 L745.8,1339.8 L746.3,1339.5 L746.8,1339.2 L747.2,1339.4 L747.7,1339.3 L748.2,1339.3 L748.7,1339.6 L749.2,1339.7 L749.6,1340.3 L750.1,1339.8 L750.6,1340.3 L751.1,1340.4 L751.5,1340.0 L752.0,1340.5 L752.5,1340.3 L753.0,1340.1 L753.5,1340.3 L753.9,1340.3 L754.4,1340.3 L754.9,1340.4 L755.4,1340.5 L755.8,1340.6 L756.3,1340.3 L756.8,1340.6 L757.3,1340.2 L757.8,1340.7 L758.2,1340.9 L758.7,1340.8 L759.2,1340.8 L759.7,1340.9 L760.2,1340.6 L760.6,1340.7 L761.1,1341.0 L761.6,1341.2 L762.1,1341.1 L762.5,1341.7 L763.0,1341.1 L763.5,1341.5 L764.0,1341.7 L764.5,1341.4 L764.9,1341.3 L765.4,1341.3 L765.9,1341.7 L766.4,1342.1 L766.9,1341.9 L767.3,1342.0 L767.8,1341.9 L768.3,1342.2 L768.8,1341.5 L769.2,1342.2 L769.7,1342.2 L770.2,1341.9 L770.7,1342.9 L771.2,1341.9 L771.6,1342.1 L772.1,1342.0 L772.6,1342.7 L773.1,1342.2 L773.5,1342.6 L774.0,1342.6 L774.5,1342.5 L775.0,1342.1 L775.5,1342.3 L775.9,1343.0 L776.4,1342.1 L776.9,1342.3 L777.4,1342.5 L777.9,1342.8 L778.3,1342.6 L778.8,1342.8 L779.3,1342.3 L779.8,1342.9 L780.2,1342.8 L780.7,1342.2 L781.2,1343.1 L781.7,1343.3 L782.2,1342.5 L782.6,1342.7 L783.1,1343.1 L783.6,1342.3 L784.1,1342.2 L784.6,1342.4 L785.0,1342.6 L785.5,1342.6 L786.0,1342.9 L786.5,1342.9 L786.9,1342.5 L787.4,1343.0 L787.9,1343.4 L788.4,1343.2 L788.9,1343.1 L789.3,1342.9 L789.8,1343.2 L790.3,1342.6 L790.8,1343.1 L791.2,1342.9 L791.7,1343.2 L792.2,1343.1 L792.7,1342.7 L793.2,1343.0 L793.6,1343.3 L794.1,1342.7 L794.6,1342.9 L795.1,1342.8 L795.6,1342.6 L796.0,1343.3 L796.5,1343.4 L797.0,1343.3 L797.5,1343.2 L797.9,1343.1 L798.4,1343.2 L798.9,1342.9 L799.4,1343.4 L799.9,1343.4 L800.3,1343.4 L800.8,1343.0 L801.3,1343.2 L801.8,1343.1 L802.3,1343.7 L802.7,1343.3 L803.2,1342.7 L803.7,1343.4 L804.2,1343.8 L804.6,1343.5 L805.1,1343.5 L805.6,1343.3 L806.1,1342.8 L806.6,1342.8 L807.0,1343.0 L807.5,1343.3 L808.0,1343.4 L808.5,1343.6 L809.0,1343.3 L809.4,1343.7 L809.9,1343.3 L810.4,1343.2 L810.9,1343.7 L811.3,1343.2 L811.8,1342.7 L812.3,1343.2 L812.8,1343.5 L813.3,1342.6 L813.7,1343.4 L814.2,1343.4 L814.7,1343.1 L815.2,1343.1 L815.6,1343.4 L816.1,1343.4 L816.6,1343.9 L817.1,1343.7 L817.6,1343.1 L818.0,1343.4 L818.5,1343.8 L819.0,1344.2 L819.5,1343.7 L820.0,1343.7 L820.4,1344.2 L820.9,1343.7 L821.4,1343.6 L821.9,1343.3 L822.3,1343.6 L822.8,1344.3 L823.3,1343.3 L823.8,1343.7 L824.3,1343.4 L824.7,1343.8 L825.2,1344.0 L825.7,1343.7 L826.2,1344.0 L826.7,1344.0 L827.1,1343.9 L827.6,1344.3 L828.1,1344.1 L828.6,1343.8 L829.0,1343.7 L829.5,1343.6 L830.0,1344.0 L830.5,1343.8 L831.0,1344.7 L831.4,1344.4 L831.9,1343.9 L832.4,1343.8 L832.9,1344.4 L833.3,1343.4 L833.8,1343.8 L834.3,1344.2 L834.8,1343.7 L835.3,1343.9 L835.7,1343.9 L836.2,1344.2 L836.7,1344.1 L837.2,1344.2 L837.7,1344.2 L838.1,1344.1 L838.6,1344.4 L839.1,1343.9 L839.6,1343.7 L840.0,1343.6 L840.5,1343.7 L841.0,1344.0 L841.5,1344.4 L842.0,1344.2 L842.4,1344.0 L842.9,1343.9 L843.4,1344.0 L843.9,1344.1 L844.4,1344.1 L844.8,1343.8 L845.3,1344.1 L845.8,1344.5 L846.3,1343.6 L846.7,1344.2 L847.2,1343.7 L847.7,1344.3 L848.2,1344.1 L848.7,1343.7 L849.1,1344.3 L849.6,1344.8 L850.1,1344.4 L850.6,1344.7 L851.0,1344.3 L851.5,1343.8 L852.0,1344.5 L852.5,1344.3 L853.0,1344.0 L853.4,1344.6 L853.9,1344.5 L854.4,1344.3 L854.9,1344.7 L855.4,1344.2 L855.8,1344.6 L856.3,1344.2 L856.8,1344.6 L857.3,1344.2 L857.7,1344.9 L858.2,1344.6 L858.7,1344.9 L859.2,1344.3 L859.7,1344.4 L860.1,1344.8 L860.6,1343.8 L861.1,1344.3 L861.6,1344.9 L862.1,1344.7 L862.5,1344.9 L863.0,1344.5 L863.5,1344.8 L864.0,1344.4 L864.4,1344.3 L864.9,1344.2 L865.4,1344.5 L865.9,1344.5 L866.4,1344.5 L866.8,1343.7 L867.3,1344.1 L867.8,1344.6 L868.3,1344.8 L868.8,1344.6 L869.2,1344.5 L869.7,1344.1 L870.2,1345.3 L870.7,1344.4 L871.1,1345.2 L871.6,1345.2 L872.1,1344.9 L872.6,1344.6 L873.1,1344.8 L873.5,1344.5 L874.0,1344.9 L874.5,1344.8 L875.0,1345.0 L875.4,1345.1 L875.9,1345.3 L876.4,1344.8 L876.9,1345.2 L877.4,1344.7 L877.8,1344.6 L878.3,1344.7 L878.8,1344.6 L879.3,1345.2 L879.8,1345.2 L880.2,1345.3 L880.7,1344.9 L881.2,1345.0 L881.7,1344.8 L882.1,1344.6 L882.6,1345.1 L883.1,1345.0 L883.6,1344.7 L884.1,1345.2 L884.5,1344.5 L885.0,1345.0 L885.5,1344.8 L886.0,1344.9 L886.5,1344.7 L886.9,1345.3 L887.4,1345.2 L887.9,1345.4 L888.4,1345.1 L888.8,1344.7 L889.3,1345.0 L889.8,1344.7 L890.3,1345.2 L890.8,1345.4 L891.2,1345.2 L891.7,1344.9 L892.2,1345.0 L892.7,1345.2 L893.1,1344.7 L893.6,1345.2 L894.1,1345.2 L894.6,1345.0 L895.1,1345.0 L895.5,1345.2 L896.0,1344.9 L896.5,1345.0 L897.0,1345.4 L897.5,1345.3 L897.9,1345.7 L898.4,1344.9 L898.9,1344.7 L899.4,1345.5 L899.8,1345.5 L900.3,1345.0 L900.8,1344.8 L901.3,1345.2 L901.8,1344.8 L902.2,1345.2 L902.7,1344.7 L903.2,1345.2 L903.7,1344.7 L904.2,1345.2 L904.6,1345.7 L905.1,1345.2 L905.6,1345.5 L906.1,1345.1 L906.5,1345.1 L907.0,1344.9 L907.5,1345.6 L908.0,1345.3 L908.5,1345.8 L908.9,1345.0 L909.4,1345.3 L909.9,1345.3 L910.4,1345.7 L910.8,1345.8 L911.3,1345.1 L911.8,1345.0 L912.3,1344.8 L912.8,1345.7 L913.2,1345.3 L913.7,1345.1 L914.2,1345.3 L914.7,1344.5 L915.2,1344.7 L915.6,1345.5 L916.1,1345.3 L916.6,1345.2 L917.1,1344.8 L917.5,1345.2 L918.0,1345.6 L918.5,1344.7 L919.0,1345.0 L919.5,1344.8 L919.9,1345.0 L920.4,1344.9 L920.9,1344.8 L921.4,1344.5 L921.9,1344.7 L922.3,1344.5 L922.8,1344.6 L923.3,1344.5 L923.8,1344.7 L924.2,1344.3 L924.7,1344.3 L925.2,1344.6 L925.7,1344.1 L926.2,1344.0 L926.6,1344.2 L927.1,1343.9 L927.6,1343.7 L928.1,1343.6 L928.6,1343.1 L929.0,1343.4 L929.5,1343.4 L930.0,1343.0 L930.5,1342.1 L930.9,1342.4 L931.4,1341.7 L931.9,1341.5 L932.4,1341.1 L932.9,1340.2 L933.3,1340.3 L933.8,1339.0 L934.3,1338.1 L934.8,1336.5 L935.2,1334.6 L935.7,1331.6 L936.2,1326.9 L936.7,1322.1 L937.2,1314.8 L937.6,1307.4 L938.1,1299.3 L938.6,1292.0 L939.1,1287.6 L939.6,1286.5 L940.0,1288.9 L940.5,1292.3 L941.0,1296.8 L941.5,1302.0 L941.9,1307.5 L942.4,1315.0 L942.9,1319.7 L943.4,1324.4 L943.9,1328.4 L944.3,1331.3 L944.8,1333.2 L945.3,1334.2 L945.8,1335.7 L946.3,1335.9 L946.7,1336.6 L947.2,1336.7 L947.7,1336.0 L948.2,1335.9 L948.6,1335.7 L949.1,1335.6 L949.6,1335.1 L950.1,1334.6 L950.6,1333.6 L951.0,1333.0 L951.5,1332.3 L952.0,1330.2 L952.5,1329.0 L952.9,1327.3 L953.4,1325.0 L953.9,1322.1 L954.4,1318.9 L954.9,1313.8 L955.3,1306.9 L955.8,1297.0 L956.3,1284.8 L956.8,1266.9 L957.3,1244.0 L957.7,1216.2 L958.2,1184.3 L958.7,1153.2 L959.2,1127.8 L959.6,1116.3 L960.1,1117.8 L960.6,1128.4 L961.1,1140.1 L961.6,1154.0 L962.0,1171.2 L962.5,1189.1 L963.0,1205.6 L963.5,1216.0 L964.0,1217.7 L964.4,1212.2 L964.9,1197.8 L965.4,1178.1 L965.9,1156.2 L966.3,1138.1 L966.8,1132.6 L967.3,1137.4 L967.8,1149.2 L968.3,1163.9 L968.7,1180.2 L969.2,1198.7 L969.7,1221.1 L970.2,1242.8 L970.6,1263.2 L971.1,1279.0 L971.6,1291.2 L972.1,1300.8 L972.6,1306.5 L973.0,1310.9 L973.5,1313.6 L974.0,1313.3 L974.5,1312.0 L975.0,1308.0 L975.4,1302.0 L975.9,1294.3 L976.4,1285.4 L976.9,1276.9 L977.3,1271.8 L977.8,1271.8 L978.3,1275.3 L978.8,1280.7 L979.3,1286.0 L979.7,1291.9 L980.2,1298.3 L980.7,1306.9 L981.2,1314.2 L981.7,1320.2 L982.1,1325.8 L982.6,1329.9 L983.1,1332.7 L983.6,1334.9 L984.0,1336.6 L984.5,1337.8 L985.0,1338.4 L985.5,1338.6 L986.0,1339.6 L986.4,1340.5 L986.9,1340.7 L987.4,1341.5 L987.9,1341.9 L988.4,1342.0 L988.8,1342.8 L989.3,1342.2 L989.8,1343.0 L990.3,1342.8 L990.7,1342.9 L991.2,1343.5 L991.7,1343.3 L992.2,1343.8 L992.7,1343.4 L993.1,1343.9 L993.6,1343.8 L994.1,1344.0 L994.6,1344.1 L995.0,1344.0 L995.5,1344.6 L996.0,1344.1 L996.5,1344.3 L997.0,1344.9 L997.4,1345.0 L997.9,1345.0 L998.4,1344.9 L998.9,1345.5 L999.4,1344.6 L999.8,1344.8 L1000.3,1344.8 L1000.8,1345.4 L1001.3,1345.2 L1001.7,1345.5 L1002.2,1345.5 L1002.7,1345.2 L1003.2,1345.1 L1003.7,1345.1 L1004.1,1346.0 L1004.6,1345.7 L1005.1,1345.6 L1005.6,1345.4 L1006.1,1345.5 L1006.5,1345.5 L1007.0,1345.5 L1007.5,1345.0 L1008.0,1345.6 L1008.4,1345.6 L1008.9,1345.8 L1009.4,1345.8 L1009.9,1346.0 L1010.4,1345.8 L1010.8,1346.0 L1011.3,1345.1 L1011.8,1345.5 L1012.3,1346.4 L1012.7,1345.5 L1013.2,1345.8 L1013.7,1346.1 L1014.2,1345.7 L1014.7,1346.2 L1015.1,1345.6 L1015.6,1345.5 L1016.1,1345.6 L1016.6,1345.6 L1017.1,1346.0 L1017.5,1346.0 L1018.0,1346.2 L1018.5,1345.8 L1019.0,1346.8 L1019.4,1346.1 L1019.9,1346.1 L1020.4,1346.3 L1020.9,1346.1 L1021.4,1346.0 L1021.8,1346.2 L1022.3,1346.4 L1022.8,1346.4 L1023.3,1346.5 L1023.8,1346.1 L1024.2,1346.0 L1024.7,1346.8 L1025.2,1346.2 L1025.7,1346.4 L1026.1,1346.5 L1026.6,1346.7 L1027.1,1345.9 L1027.6,1346.2 L1028.1,1346.2 L1028.5,1346.2 L1029.0,1345.6 L1029.5,1346.3 L1030.0,1345.5 L1030.4,1346.4 L1030.9,1346.5 L1031.4,1346.5 L1031.9,1346.0 L1032.4,1346.6 L1032.8,1346.1 L1033.3,1346.0 L1033.8,1346.1 L1034.3,1346.2 L1034.8,1346.5 L1035.2,1346.6 L1035.7,1345.8 L1036.2,1346.3 L1036.7,1346.7 L1037.1,1346.5 L1037.6,1346.6 L1038.1,1346.0 L1038.6,1346.7 L1039.1,1346.0 L1039.5,1346.5 L1040.0,1346.9 L1040.5,1347.0 L1041.0,1346.6 L1041.5,1346.7 L1041.9,1346.3 L1042.4,1346.4 L1042.9,1346.8 L1043.4,1346.5 L1043.8,1346.5 L1044.3,1346.1 L1044.8,1346.6 L1045.3,1346.7 L1045.8,1346.3 L1046.2,1346.4 L1046.7,1347.0 L1047.2,1346.6 L1047.7,1346.5 L1048.2,1346.2 L1048.6,1346.4 L1049.1,1346.5 L1049.6,1346.9 L1050.1,1346.4 L1050.5,1347.1 L1051.0,1346.3 L1051.5,1346.5 L1052.0,1346.8 L1052.5,1346.5 L1052.9,1346.3 L1053.4,1346.5 L1053.9,1346.7 L1054.4,1346.1 L1054.8,1346.5 L1055.3,1346.6 L1055.8,1346.5 L1056.3,1346.8 L1056.8,1346.4 L1057.2,1346.5 L1057.7,1346.6 L1058.2,1346.8 L1058.7,1346.5 L1059.2,1347.0 L1059.6,1346.3 L1060.1,1347.0 L1060.6,1346.4 L1061.1,1346.6 L1061.5,1346.7 L1062.0,1347.2 L1062.5,1346.9 L1063.0,1346.6 L1063.5,1347.1 L1063.9,1346.6 L1064.4,1346.5 L1064.9,1346.8 L1065.4,1346.8 L1065.9,1347.0 L1066.3,1346.6 L1066.8,1346.9 L1067.3,1346.9 L1067.8,1346.9 L1068.2,1346.8 L1068.7,1346.6 L1069.2,1347.1 L1069.7,1346.9 L1070.2,1347.0 L1070.6,1346.7 L1071.1,1346.8 L1071.6,1346.6 L1072.1,1346.9 L1072.5,1347.1 L1073.0,1346.9 L1073.5,1347.1 L1074.0,1347.0 L1074.5,1347.3 L1074.9,1346.8 L1075.4,1346.4 L1075.9,1347.0 L1076.4,1346.9 L1076.9,1346.6 L1077.3,1347.1 L1077.8,1347.0 L1078.3,1347.0 L1078.8,1346.8 L1079.2,1347.0 L1079.7,1347.0 L1080.2,1347.4 L1080.7,1346.7 L1081.2,1346.9 L1081.6,1347.0 L1082.1,1346.4 L1082.6,1346.5 L1083.1,1347.5 L1083.6,1346.4 L1084.0,1347.1 L1084.5,1346.7 L1085.0,1346.7 L1085.5,1346.3 L1085.9,1346.6 L1086.4,1347.1 L1086.9,1346.5 L1087.4,1347.0 L1087.9,1346.9 L1088.3,1347.4 L1088.8,1346.6 L1089.3,1347.1 L1089.8,1347.0 L1090.2,1346.6 L1090.7,1346.2 L1091.2,1347.1 L1091.7,1346.2 L1092.2,1346.5 L1092.6,1346.8 L1093.1,1346.8 L1093.6,1346.2 L1094.1,1346.4 L1094.6,1346.3 L1095.0,1346.7 L1095.5,1347.0 L1096.0,1345.7 L1096.5,1346.4 L1096.9,1345.2 L1097.4,1346.0 L1097.9,1345.6 L1098.4,1346.3 L1098.9,1345.7 L1099.3,1345.3 L1099.8,1345.2 L1100.3,1345.1 L1100.8,1345.1 L1101.3,1344.8 L1101.7,1344.9 L1102.2,1344.9 L1102.7,1344.4 L1103.2,1343.6 L1103.6,1343.1 L1104.1,1343.0 L1104.6,1343.1 L1105.1,1342.2 L1105.6,1341.5 L1106.0,1341.0 L1106.5,1339.8 L1107.0,1338.8 L1107.5,1338.1 L1108.0,1336.4 L1108.4,1334.5 L1108.9,1332.6 L1109.4,1329.8 L1109.9,1326.7 L1110.3,1323.2 L1110.8,1319.4 L1111.3,1314.7 L1111.8,1309.4 L1112.3,1304.3 L1112.7,1299.1 L1113.2,1294.3 L1113.7,1288.9 L1114.2,1285.8 L1114.6,1283.6 L1115.1,1283.2 L1115.6,1283.8 L1116.1,1286.0 L1116.6,1288.5 L1117.0,1291.8 L1117.5,1296.0 L1118.0,1301.0 L1118.5,1305.9 L1119.0,1311.4 L1119.4,1315.9 L1119.9,1319.4 L1120.4,1323.8 L1120.9,1326.8 L1121.3,1329.7 L1121.8,1332.9 L1122.3,1335.0 L1122.8,1336.4 L1123.3,1338.7 L1123.7,1339.2 L1124.2,1340.2 L1124.7,1341.6 L1125.2,1342.2 L1125.7,1342.8 L1126.1,1343.3 L1126.6,1343.9 L1127.1,1344.2 L1127.6,1344.5 L1128.0,1344.4 L1128.5,1344.8 L1129.0,1345.6 L1129.5,1345.5 L1130.0,1346.0 L1130.4,1346.4 L1130.9,1346.1 L1131.4,1346.5 L1131.9,1347.1 L1132.3,1346.9 L1132.8,1347.3 L1133.3,1347.4 L1133.8,1347.3 L1134.3,1347.1 L1134.7,1347.0 L1135.2,1347.0 L1135.7,1347.6 L1136.2,1347.6 L1136.7,1347.5 L1137.1,1347.9 L1137.6,1347.6 L1138.1,1348.1 L1138.6,1347.9 L1139.0,1347.9 L1139.5,1348.0 L1140.0,1348.0 L1140.5,1348.8 L1141.0,1347.7 L1141.4,1348.2 L1141.9,1348.6 L1142.4,1348.5 L1142.9,1348.2 L1143.4,1348.8 L1143.8,1348.1 L1144.3,1348.0 L1144.8,1348.6 L1145.3,1348.1 L1145.7,1347.8 L1146.2,1348.8 L1146.7,1348.8 L1147.2,1348.8 L1147.7,1348.5 L1148.1,1348.7 L1148.6,1348.4 L1149.1,1349.2 L1149.6,1349.0 L1150.0,1349.0 L1150.5,1348.2 L1151.0,1349.0 L1151.5,1349.3 L1152.0,1349.2 L1152.4,1349.1 L1152.9,1348.9 L1153.4,1348.8 L1153.9,1349.1 L1154.4,1349.1 L1154.8,1349.0 L1155.3,1348.9 L1155.8,1349.5 L1156.3,1348.7 L1156.7,1349.0 L1157.2,1348.9 L1157.7,1349.3 L1158.2,1349.5 L1158.7,1349.4 L1159.1,1349.3 L1159.6,1348.7 L1160.1,1349.7 L1160.6,1349.2 L1161.1,1349.1 L1161.5,1349.1 L1162.0,1349.0 L1162.5,1349.2 L1163.0,1349.2 L1163.4,1349.0 L1163.9,1348.4 L1164.4,1349.1 L1164.9,1349.2 L1165.4,1349.3 L1165.8,1349.1 L1166.3,1349.2 L1166.8,1349.4 L1167.3,1349.0 L1167.8,1349.5 L1168.2,1348.5 L1168.7,1348.7 L1169.2,1348.8 L1169.7,1348.4 L1170.1,1348.8 L1170.6,1349.4 L1171.1,1349.4 L1171.6,1349.1 L1172.1,1349.5 L1172.5,1349.1 L1173.0,1348.9 L1173.5,1349.1 L1174.0,1349.0 L1174.4,1349.2 L1174.9,1348.5 L1175.4,1349.2 L1175.9,1348.8 L1176.4,1349.1 L1176.8,1348.5 L1177.3,1348.7 L1177.8,1348.9 L1178.3,1349.1 L1178.8,1348.4 L1179.2,1349.2 L1179.7,1348.9 L1180.2,1348.5 L1180.7,1349.0 L1181.1,1348.6 L1181.6,1348.9 L1182.1,1349.2 L1182.6,1348.7 L1183.1,1348.3 L1183.5,1348.2 L1184.0,1348.4 L1184.5,1348.3 L1185.0,1347.9 L1185.5,1347.9 L1185.9,1348.1 L1186.4,1348.5 L1186.9,1347.0 L1187.4,1347.8 L1187.8,1347.4 L1188.3,1347.6 L1188.8,1347.4 L1189.3,1347.1 L1189.8,1346.6 L1190.2,1346.2 L1190.7,1345.9 L1191.2,1346.5 L1191.7,1345.8 L1192.1,1345.4 L1192.6,1345.1 L1193.1,1344.4 L1193.6,1344.4 L1194.1,1344.1 L1194.5,1343.4 L1195.0,1342.0 L1195.5,1341.9 L1196.0,1340.4 L1196.5,1338.9 L1196.9,1337.6 L1197.4,1336.0 L1197.9,1334.1 L1198.4,1331.2 L1198.8,1327.6 L1199.3,1323.3 L1199.8,1317.3 L1200.3,1306.6 L1200.8,1291.5 L1201.2,1267.9 L1201.7,1234.2 L1202.2,1186.5 L1202.7,1132.3 L1203.2,1081.6 L1203.6,1060.5 L1204.1,1078.0 L1204.6,1114.7 L1205.1,1144.2 L1205.5,1159.7 L1206.0,1164.8 L1206.5,1169.7 L1207.0,1189.2 L1207.5,1220.0 L1207.9,1251.7 L1208.4,1277.9 L1208.9,1297.6 L1209.4,1311.2 L1209.8,1320.5 L1210.3,1326.3 L1210.8,1330.4 L1211.3,1333.4 L1211.8,1336.2 L1212.2,1337.9 L1212.7,1339.6 L1213.2,1340.8 L1213.7,1342.2 L1214.2,1342.6 L1214.6,1343.6 L1215.1,1343.7 L1215.6,1344.3 L1216.1,1345.0 L1216.5,1345.1 L1217.0,1346.1 L1217.5,1345.8 L1218.0,1346.5 L1218.5,1346.1 L1218.9,1346.7 L1219.4,1347.1 L1219.9,1347.4 L1220.4,1347.1 L1220.9,1347.8 L1221.3,1348.2 L1221.8,1348.3 L1222.3,1348.0 L1222.8,1348.2 L1223.2,1348.1 L1223.7,1348.7 L1224.2,1349.1 L1224.7,1348.6 L1225.2,1348.4 L1225.6,1349.0 L1226.1,1349.2 L1226.6,1348.3 L1227.1,1349.2 L1227.6,1349.8 L1228.0,1349.5 L1228.5,1349.4 L1229.0,1349.5 L1229.5,1349.7 L1229.9,1349.2 L1230.4,1349.2 L1230.9,1349.6 L1231.4,1349.4 L1231.9,1349.7 L1232.3,1349.1 L1232.8,1349.9 L1233.3,1350.0 L1233.8,1349.8 L1234.2,1349.8 L1234.7,1350.3 L1235.2,1349.5 L1235.7,1349.6 L1236.2,1349.6 L1236.6,1349.8 L1237.1,1349.7 L1237.6,1350.0 L1238.1,1349.8 L1238.6,1349.6 L1239.0,1349.6 L1239.5,1350.4 L1240.0,1350.1 L1240.5,1350.0 L1240.9,1350.1 L1241.4,1350.1 L1241.9,1350.4 L1242.4,1350.3 L1242.9,1350.0 L1243.3,1350.0 L1243.8,1349.9 L1244.3,1349.9 L1244.8,1350.6 L1245.3,1350.0 L1245.7,1349.7 L1246.2,1350.1 L1246.7,1350.1 L1247.2,1350.4 L1247.6,1350.1 L1248.1,1350.5 L1248.6,1350.5 L1249.1,1350.7 L1249.6,1351.0 L1250.0,1351.2 L1250.5,1350.8 L1251.0,1350.1 L1251.5,1350.3 L1251.9,1350.5 L1252.4,1351.0 L1252.9,1350.7 L1253.4,1350.8 L1253.9,1350.4 L1254.3,1350.7 L1254.8,1350.7 L1255.3,1350.4 L1255.8,1350.7 L1256.3,1350.8 L1256.7,1350.5 L1257.2,1350.8 L1257.7,1351.0 L1258.2,1350.6 L1258.6,1350.6 L1259.1,1350.5 L1259.6,1350.4 L1260.1,1350.7 L1260.6,1350.5 L1261.0,1350.5 L1261.5,1350.4 L1262.0,1350.2 L1262.5,1350.4 L1263.0,1350.7 L1263.4,1350.3 L1263.9,1350.5 L1264.4,1351.1 L1264.9,1351.0 L1265.3,1350.5 L1265.8,1350.9 L1266.3,1350.5 L1266.8,1351.2 L1267.3,1350.6 L1267.7,1350.8 L1268.2,1351.1 L1268.7,1350.5 L1269.2,1351.1 L1269.6,1350.5 L1270.1,1350.8 L1270.6,1350.7 L1271.1,1350.8 L1271.6,1350.8 L1272.0,1350.8 L1272.5,1350.5 L1273.0,1351.0 L1273.5,1351.0 L1274.0,1351.2 L1274.4,1351.2 L1274.9,1350.4 L1275.4,1351.2 L1275.9,1351.2 L1276.3,1350.7 L1276.8,1351.1 L1277.3,1351.3 L1277.8,1350.7 L1278.3,1350.5 L1278.7,1350.8 L1279.2,1351.7 L1279.7,1350.9 L1280.2,1350.5 L1280.7,1350.8 L1281.1,1350.6 L1281.6,1350.8 L1282.1,1350.9 L1282.6,1350.2 L1283.0,1351.0 L1283.5,1351.3 L1284.0,1350.8 L1284.5,1350.8 L1285.0,1351.2 L1285.4,1350.5 L1285.9,1350.5 L1286.4,1350.5 L1286.9,1350.8 L1287.4,1351.0 L1287.8,1350.9 L1288.3,1351.0 L1288.8,1351.1 L1289.3,1351.0 L1289.7,1350.6 L1290.2,1350.8 L1290.7,1351.2 L1291.2,1350.6 L1291.7,1350.8 L1292.1,1350.7 L1292.6,1350.8 L1293.1,1350.5 L1293.6,1350.5 L1294.0,1351.6 L1294.5,1351.1 L1295.0,1350.6 L1295.5,1350.8 L1296.0,1351.0 L1296.4,1350.7 L1296.9,1351.0 L1297.4,1350.6 L1297.9,1350.7 L1298.4,1350.8 L1298.8,1350.7 L1299.3,1350.1 L1299.8,1350.8 L1300.3,1350.8 L1300.7,1350.9 L1301.2,1350.5 L1301.7,1350.8 L1302.2,1350.8 L1302.7,1350.2 L1303.1,1350.1 L1303.6,1350.9 L1304.1,1350.4 L1304.6,1351.0 L1305.1,1351.3 L1305.5,1350.5 L1306.0,1350.5 L1306.5,1350.7 L1307.0,1350.8 L1307.4,1350.3 L1307.9,1351.0 L1308.4,1350.9 L1308.9,1350.8 L1309.4,1350.4 L1309.8,1350.8 L1310.3,1350.8 L1310.8,1350.2 L1311.3,1351.1 L1311.7,1350.4 L1312.2,1350.6 L1312.7,1350.3 L1313.2,1350.6 L1313.7,1350.8 L1314.1,1350.2 L1314.6,1350.0 L1315.1,1350.3 L1315.6,1350.0 L1316.1,1350.1 L1316.5,1350.3 L1317.0,1350.3 L1317.5,1350.6 L1318.0,1350.0 L1318.4,1350.3 L1318.9,1350.0 L1319.4,1350.5 L1319.9,1350.8 L1320.4,1350.2 L1320.8,1350.5 L1321.3,1349.9 L1321.8,1349.5 L1322.3,1349.6 L1322.8,1349.4 L1323.2,1349.5 L1323.7,1349.7 L1324.2,1350.0 L1324.7,1349.8 L1325.1,1349.7 L1325.6,1349.4 L1326.1,1349.2 L1326.6,1349.3 L1327.1,1349.3 L1327.5,1349.2 L1328.0,1349.1 L1328.5,1348.9 L1329.0,1348.3 L1329.4,1348.3 L1329.9,1348.3 L1330.4,1348.8 L1330.9,1348.0 L1331.4,1348.1 L1331.8,1348.1 L1332.3,1347.5 L1332.8,1347.1 L1333.3,1346.8 L1333.8,1346.2 L1334.2,1346.2 L1334.7,1345.9 L1335.2,1345.2 L1335.7,1344.6 L1336.1,1343.9 L1336.6,1343.3 L1337.1,1341.5 L1337.6,1340.5 L1338.1,1339.0 L1338.5,1337.2 L1339.0,1333.5 L1339.5,1330.3 L1340.0,1325.1 L1340.5,1317.2 L1340.9,1306.6 L1341.4,1290.8 L1341.9,1269.8 L1342.4,1243.7 L1342.8,1215.8 L1343.3,1192.3 L1343.8,1183.0 L1344.3,1189.9 L1344.8,1206.7 L1345.2,1223.9 L1345.7,1235.6 L1346.2,1241.3 L1346.7,1243.2 L1347.2,1246.3 L1347.6,1257.0 L1348.1,1272.5 L1348.6,1288.7 L1349.1,1302.6 L1349.5,1313.6 L1350.0,1322.4 L1350.5,1328.1 L1351.0,1333.0 L1351.5,1336.2 L1351.9,1337.6 L1352.4,1339.7 L1352.9,1341.1 L1353.4,1342.3 L1353.8,1343.2 L1354.3,1343.7 L1354.8,1343.8 L1355.3,1344.3 L1355.8,1345.1 L1356.2,1344.9 L1356.7,1345.3 L1357.2,1345.9 L1357.7,1345.6 L1358.2,1345.3 L1358.6,1345.7 L1359.1,1345.9 L1359.6,1345.7 L1360.1,1346.0 L1360.5,1345.9 L1361.0,1345.2 L1361.5,1345.0 L1362.0,1344.9 L1362.5,1344.3 L1362.9,1344.3 L1363.4,1343.7 L1363.9,1343.4 L1364.4,1342.3 L1364.9,1341.3 L1365.3,1341.0 L1365.8,1339.0 L1366.3,1337.4 L1366.8,1335.2 L1367.2,1332.4 L1367.7,1328.1 L1368.2,1322.4 L1368.7,1313.5 L1369.2,1301.0 L1369.6,1283.8 L1370.1,1261.4 L1370.6,1234.6 L1371.1,1207.6 L1371.5,1189.4 L1372.0,1187.0 L1372.5,1199.7 L1373.0,1217.6 L1373.5,1233.7 L1373.9,1242.4 L1374.4,1246.0 L1374.9,1246.6 L1375.4,1250.6 L1375.9,1261.8 L1376.3,1277.9 L1376.8,1293.0 L1377.3,1306.9 L1377.8,1317.2 L1378.2,1325.7 L1378.7,1330.7 L1379.2,1335.1 L1379.7,1337.9 L1380.2,1339.4 L1380.6,1341.0 L1381.1,1342.7 L1381.6,1343.3 L1382.1,1343.9 L1382.6,1345.2 L1383.0,1346.1 L1383.5,1345.9 L1384.0,1346.8 L1384.5,1346.7 L1384.9,1347.5 L1385.4,1347.3 L1385.9,1348.0 L1386.4,1348.1 L1386.9,1348.1 L1387.3,1348.4 L1387.8,1348.3 L1388.3,1348.3 L1388.8,1348.5 L1389.2,1348.9 L1389.7,1348.7 L1390.2,1349.3 L1390.7,1349.4 L1391.2,1349.5 L1391.6,1349.3 L1392.1,1349.5 L1392.6,1349.6 L1393.1,1350.0 L1393.6,1349.5 L1394.0,1349.7 L1394.5,1349.8 L1395.0,1349.8 L1395.5,1349.7 L1395.9,1349.8 L1396.4,1350.3 L1396.9,1349.9 L1397.4,1350.3 L1397.9,1350.7 L1398.3,1350.5 L1398.8,1349.7 L1399.3,1350.4 L1399.8,1350.4 L1400.3,1350.4 L1400.7,1349.9 L1401.2,1350.5 L1401.7,1350.1 L1402.2,1350.7 L1402.6,1350.7 L1403.1,1351.1 L1403.6,1350.3 L1404.1,1350.0 L1404.6,1350.8 L1405.0,1350.7 L1405.5,1350.4 L1406.0,1350.9 L1406.5,1350.7 L1407.0,1350.2 L1407.4,1350.5 L1407.9,1350.5 L1408.4,1350.6 L1408.9,1350.7 L1409.3,1350.4 L1409.8,1350.6 L1410.3,1350.8 L1410.8,1350.6 L1411.3,1350.6 L1411.7,1350.6 L1412.2,1350.7 L1412.7,1350.2 L1413.2,1350.8 L1413.6,1350.4 L1414.1,1350.8 L1414.6,1350.3 L1415.1,1351.0 L1415.6,1350.8 L1416.0,1350.4 L1416.5,1350.8 L1417.0,1350.6 L1417.5,1351.3 L1418.0,1350.9 L1418.4,1350.6 L1418.9,1350.9 L1419.4,1350.8 L1419.9,1351.1 L1420.3,1350.9 L1420.8,1351.0 L1421.3,1350.5 L1421.8,1351.0 L1422.3,1351.4 L1422.7,1351.0 L1423.2,1350.8 L1423.7,1350.9 L1424.2,1350.6 L1424.7,1350.9 L1425.1,1350.5 L1425.6,1350.9 L1426.1,1350.8 L1426.6,1350.6 L1427.0,1351.0 L1427.5,1350.5 L1428.0,1350.9 L1428.5,1350.5 L1429.0,1351.4 L1429.4,1351.4 L1429.9,1351.1 L1430.4,1351.4 L1430.9,1351.1 L1431.3,1351.1 L1431.8,1350.8 L1432.3,1350.7 L1432.8,1350.9 L1433.3,1350.8 L1433.7,1350.8 L1434.2,1351.1 L1434.7,1350.9 L1435.2,1350.5 L1435.7,1350.9 L1436.1,1350.7 L1436.6,1350.9 L1437.1,1350.6 L1437.6,1351.3 L1438.0,1351.5 L1438.5,1350.7 L1439.0,1351.2 L1439.5,1351.2 L1440.0,1350.7 L1440.4,1351.0 L1440.9,1351.4 L1441.4,1351.3 L1441.9,1351.5 L1442.4,1350.7 L1442.8,1350.8 L1443.3,1351.1 L1443.8,1351.2 L1444.3,1351.1 L1444.7,1351.0 L1445.2,1351.0 L1445.7,1350.9 L1446.2,1351.2 L1446.7,1350.3 L1447.1,1351.6 L1447.6,1351.0 L1448.1,1350.7 L1448.6,1351.3 L1449.0,1350.7 L1449.5,1351.3 L1450.0,1351.0 L1450.5,1351.3 L1451.0,1351.4 L1451.4,1351.5 L1451.9,1351.0 L1452.4,1351.1 L1452.9,1351.2 L1453.4,1350.8 L1453.8,1351.4 L1454.3,1351.2 L1454.8,1350.8 L1455.3,1351.6 L1455.7,1351.6 L1456.2,1350.9 L1456.7,1351.4 L1457.2,1351.6 L1457.7,1351.5 L1458.1,1351.0 L1458.6,1350.9 L1459.1,1351.2 L1459.6,1351.1 L1460.1,1351.3 L1460.5,1351.3 L1461.0,1351.4 L1461.5,1351.2 L1462.0,1351.3 L1462.4,1352.2 L1462.9,1351.3 L1463.4,1351.5 L1463.9,1351.4 L1464.4,1351.4 L1464.8,1351.1 L1465.3,1351.5 L1465.8,1351.3 L1466.3,1351.6 L1466.8,1351.9 L1467.2,1351.4 L1467.7,1351.6 L1468.2,1351.1 L1468.7,1351.4 L1469.1,1351.8 L1469.6,1351.4 L1470.1,1351.2 L1470.6,1351.5 L1471.1,1351.4 L1471.5,1351.4 L1472.0,1351.3 L1472.5,1352.0 L1473.0,1351.2 L1473.4,1351.3 L1473.9,1351.3 L1474.4,1351.8 L1474.9,1351.4 L1475.4,1351.8 L1475.8,1351.5 L1476.3,1351.5 L1476.8,1351.1 L1477.3,1351.8 L1477.8,1351.7 L1478.2,1351.6 L1478.7,1351.5 L1479.2,1351.4 L1479.7,1351.2 L1480.1,1351.8 L1480.6,1351.6 L1481.1,1351.4 L1481.6,1351.4 L1482.1,1351.6 L1482.5,1351.5 L1483.0,1352.0 L1483.5,1351.8 L1484.0,1351.4 L1484.5,1351.3 L1484.9,1351.5 L1485.4,1351.3 L1485.9,1351.6 L1486.4,1351.7 L1486.8,1351.8 L1487.3,1351.7 L1487.8,1351.6 L1488.3,1351.8 L1488.8,1351.4 L1489.2,1351.6 L1489.7,1351.8 L1490.2,1351.7 L1490.7,1351.3 L1491.1,1351.3 L1491.6,1351.2 L1492.1,1352.1 L1492.6,1351.2 L1493.1,1351.6 L1493.5,1352.1 L1494.0,1351.9 L1494.5,1352.0 L1495.0,1351.5 L1495.5,1351.8 L1495.9,1352.5 L1496.4,1351.6 L1496.9,1351.7 L1497.4,1351.5 L1497.8,1351.6 L1498.3,1351.7 L1498.8,1352.0 L1499.3,1351.4 L1499.8,1351.2 L1500.2,1351.6 L1500.7,1351.7 L1501.2,1352.0 L1501.7,1351.8 L1502.2,1351.4 L1502.6,1351.8 L1503.1,1351.9 L1503.6,1351.7 L1504.1,1351.5 L1504.5,1351.8 L1505.0,1351.5 L1505.5,1351.1 L1506.0,1352.0 L1506.5,1351.2 L1506.9,1351.5 L1507.4,1351.5 L1507.9,1351.5 L1508.4,1351.5 L1508.8,1351.2 L1509.3,1351.7 L1509.8,1351.6 L1510.3,1351.6 L1510.8,1351.9 L1511.2,1351.9 L1511.7,1351.9 L1512.2,1352.1 L1512.7,1351.7 L1513.2,1351.1 L1513.6,1351.6 L1514.1,1351.5 L1514.6,1351.5 L1515.1,1351.3 L1515.5,1351.2 L1516.0,1351.7 L1516.5,1351.7 L1517.0,1351.1 L1517.5,1351.6 L1517.9,1351.4 L1518.4,1351.3 L1518.9,1351.6 L1519.4,1351.4 L1519.9,1351.2 L1520.3,1351.4 L1520.8,1350.8 L1521.3,1351.2 L1521.8,1351.2 L1522.2,1350.9 L1522.7,1351.3 L1523.2,1351.3 L1523.7,1351.0 L1524.2,1351.1 L1524.6,1351.3 L1525.1,1351.4 L1525.6,1350.8 L1526.1,1351.1 L1526.6,1351.3 L1527.0,1350.9 L1527.5,1350.6 L1528.0,1350.6 L1528.5,1350.6 L1528.9,1350.4 L1529.4,1351.1 L1529.9,1350.3 L1530.4,1350.5 L1530.9,1350.3 L1531.3,1350.3 L1531.8,1349.8 L1532.3,1349.4 L1532.8,1350.0 L1533.2,1349.3 L1533.7,1349.0 L1534.2,1348.7 L1534.7,1348.5 L1535.2,1347.7 L1535.6,1346.9 L1536.1,1345.5 L1536.6,1343.6 L1537.1,1341.4 L1537.6,1338.1 L1538.0,1334.2 L1538.5,1330.7 L1539.0,1326.6 L1539.5,1324.9 L1539.9,1324.0 L1540.4,1325.4 L1540.9,1327.3 L1541.4,1330.5 L1541.9,1331.2 L1542.3,1332.1 L1542.8,1332.3 L1543.3,1332.1 L1543.8,1332.6 L1544.3,1333.6 L1544.7,1335.8 L1545.2,1337.5 L1545.7,1339.2 L1546.2,1340.3 L1546.6,1341.0 L1547.1,1341.2 L1547.6,1341.0 L1548.1,1340.7 L1548.6,1339.9 L1549.0,1338.7 L1549.5,1335.8 L1550.0,1332.6 L1550.5,1328.0 L1550.9,1320.3 L1551.4,1310.2 L1551.9,1295.7 L1552.4,1277.5 L1552.9,1257.1 L1553.3,1239.2 L1553.8,1229.9 L1554.3,1234.1 L1554.8,1247.9 L1555.3,1263.8 L1555.7,1276.1 L1556.2,1282.5 L1556.7,1284.5 L1557.2,1282.5 L1557.6,1280.3 L1558.1,1282.1 L1558.6,1289.4 L1559.1,1300.0 L1559.6,1311.1 L1560.0,1321.1 L1560.5,1328.1 L1561.0,1334.1 L1561.5,1338.1 L1562.0,1340.2 L1562.4,1342.6 L1562.9,1343.8 L1563.4,1345.5 L1563.9,1346.0 L1564.3,1346.3 L1564.8,1347.2 L1565.3,1347.3 L1565.8,1347.9 L1566.3,1348.3 L1566.7,1348.6 L1567.2,1348.9 L1567.7,1348.8 L1568.2,1348.7 L1568.6,1349.3 L1569.1,1349.3 L1569.6,1349.5 L1570.1,1350.4 L1570.6,1350.3 L1571.0,1350.0 L1571.5,1349.7 L1572.0,1349.8 L1572.5,1350.4 L1573.0,1350.6 L1573.4,1350.3 L1573.9,1350.4 L1574.4,1350.5 L1574.9,1350.8 L1575.3,1349.9 L1575.8,1350.5 L1576.3,1350.6 L1576.8,1350.8 L1577.3,1350.6 L1577.7,1350.2 L1578.2,1350.3 L1578.7,1350.0 L1579.2,1350.5 L1579.7,1350.5 L1580.1,1350.5 L1580.6,1350.0 L1581.1,1349.9 L1581.6,1350.6 L1582.0,1350.2 L1582.5,1350.5 L1583.0,1350.1 L1583.5,1349.4 L1584.0,1349.9 L1584.4,1349.9 L1584.9,1349.3 L1585.4,1348.7 L1585.9,1349.2 L1586.4,1348.7 L1586.8,1348.5 L1587.3,1347.3 L1587.8,1347.7 L1588.3,1346.3 L1588.7,1346.1 L1589.2,1345.8 L1589.7,1344.1 L1590.2,1342.9 L1590.7,1342.0 L1591.1,1340.9 L1591.6,1339.0 L1592.1,1336.2 L1592.6,1334.3 L1593.0,1331.5 L1593.5,1328.6 L1594.0,1325.7 L1594.5,1322.6 L1595.0,1320.7 L1595.4,1318.9 L1595.9,1318.3 L1596.4,1317.6 L1596.9,1317.0 L1597.4,1318.2 L1597.8,1319.8 L1598.3,1321.0 L1598.8,1321.8 L1599.3,1323.7 L1599.7,1325.2 L1600.2,1327.0 L1600.7,1329.0 L1601.2,1331.4 L1601.7,1333.8 L1602.1,1335.7 L1602.6,1337.2 L1603.1,1339.2 L1603.6,1340.9 L1604.1,1342.6 L1604.5,1343.8 L1605.0,1344.9 L1605.5,1345.7 L1606.0,1347.0 L1606.4,1347.6 L1606.9,1348.2 L1607.4,1348.4 L1607.9,1349.0 L1608.4,1348.9 L1608.8,1349.2 L1609.3,1349.6 L1609.8,1350.1 L1610.3,1350.1 L1610.7,1350.0 L1611.2,1350.5 L1611.7,1350.7 L1612.2,1350.8 L1612.7,1350.6 L1613.1,1350.9 L1613.6,1350.9 L1614.1,1351.0 L1614.6,1351.2 L1615.1,1351.5 L1615.5,1351.8 L1616.0,1351.8 L1616.5,1351.6 L1617.0,1351.4 L1617.4,1351.5 L1617.9,1351.5 L1618.4,1352.0 L1618.9,1350.9 L1619.4,1351.8 L1619.8,1351.2 L1620.3,1351.8 L1620.8,1352.2 L1621.3,1351.6 L1621.8,1351.2 L1622.2,1352.3 L1622.7,1352.4 L1623.2,1352.1 L1623.7,1352.3 L1624.1,1351.8 L1624.6,1352.4 L1625.1,1352.5 L1625.6,1352.3 L1626.1,1352.2 L1626.5,1352.5 L1627.0,1352.5 L1627.5,1351.9 L1628.0,1352.6 L1628.4,1352.4 L1628.9,1352.2 L1629.4,1352.6 L1629.9,1352.5 L1630.4,1352.5 L1630.8,1352.1 L1631.3,1352.5 L1631.8,1352.0 L1632.3,1352.3 L1632.8,1351.8 L1633.2,1351.8 L1633.7,1352.5 L1634.2,1352.3 L1634.7,1352.4 L1635.1,1352.5 L1635.6,1352.5 L1636.1,1352.1 L1636.6,1352.4 L1637.1,1352.4 L1637.5,1352.3 L1638.0,1352.4 L1638.5,1352.3 L1639.0,1352.3 L1639.5,1352.3 L1639.9,1352.5 L1640.4,1353.0 L1640.9,1352.2 L1641.4,1352.6 L1641.8,1352.1 L1642.3,1352.9 L1642.8,1352.4 L1643.3,1352.5 L1643.8,1352.9 L1644.2,1352.8 L1644.7,1352.1 L1645.2,1352.7 L1645.7,1352.5 L1646.2,1352.7 L1646.6,1352.6 L1647.1,1352.7 L1647.6,1352.6 L1648.1,1352.5 L1648.5,1352.9 L1649.0,1352.1 L1649.5,1352.4 L1650.0,1352.3 L1650.5,1352.5 L1650.9,1352.5 L1651.4,1352.5 L1651.9,1352.5 L1652.4,1352.5 L1652.8,1352.1 L1653.3,1352.6 L1653.8,1352.7 L1654.3,1352.4 L1654.8,1352.4 L1655.2,1352.4 L1655.7,1353.1 L1656.2,1352.7 L1656.7,1352.7 L1657.2,1352.5 L1657.6,1352.5 L1658.1,1352.4 L1658.6,1353.1 L1659.1,1352.2 L1659.5,1352.7 L1660.0,1352.6 L1660.5,1352.6 L1661.0,1352.2 L1661.5,1352.3 L1661.9,1352.9 L1662.4,1352.5 L1662.9,1352.9 L1663.4,1352.8 L1663.9,1352.8 L1664.3,1352.9 L1664.8,1352.3 L1665.3,1352.5 L1665.8,1352.8 L1666.2,1352.3 L1666.7,1353.1 L1667.2,1352.5 L1667.7,1352.6 L1668.2,1352.4 L1668.6,1352.7 L1669.1,1352.4 L1669.6,1352.6 L1670.1,1352.3 L1670.5,1353.0 L1671.0,1352.2 L1671.5,1352.8 L1672.0,1352.7 L1672.5,1352.7 L1672.9,1352.3 L1673.4,1352.9 L1673.9,1352.9 L1674.4,1352.6 L1674.9,1352.7 L1675.3,1352.5 L1675.8,1352.8 L1676.3,1352.3 L1676.8,1352.7 L1677.2,1352.7 L1677.7,1352.1 L1678.2,1351.8 L1678.7,1352.5 L1679.2,1352.5 L1679.6,1352.8 L1680.1,1352.5 L1680.6,1352.3 L1681.1,1352.0 L1681.6,1352.4 L1682.0,1352.2 L1682.5,1352.0 L1683.0,1352.3 L1683.5,1352.6 L1683.9,1352.3 L1684.4,1351.9 L1684.9,1352.3 L1685.4,1351.8 L1685.9,1351.6 L1686.3,1352.2 L1686.8,1351.8 L1687.3,1352.2 L1687.8,1351.9 L1688.2,1351.5 L1688.7,1351.7 L1689.2,1351.9 L1689.7,1351.3 L1690.2,1350.9 L1690.6,1350.9 L1691.1,1350.6 L1691.6,1350.3 L1692.1,1350.0 L1692.6,1350.1 L1693.0,1349.9 L1693.5,1349.0 L1694.0,1348.6 L1694.5,1347.8 L1694.9,1346.9 L1695.4,1344.7 L1695.9,1342.3 L1696.4,1339.1 L1696.9,1334.4 L1697.3,1328.5 L1697.8,1321.4 L1698.3,1313.0 L1698.8,1306.3 L1699.3,1302.6 L1699.7,1304.4 L1700.2,1309.6 L1700.7,1315.9 L1701.2,1321.6 L1701.6,1325.2 L1702.1,1327.0 L1702.6,1326.8 L1703.1,1324.8 L1703.6,1324.3 L1704.0,1323.7 L1704.5,1326.9 L1705.0,1331.1 L1705.5,1335.0 L1706.0,1339.0 L1706.4,1342.0 L1706.9,1344.9 L1707.4,1345.5 L1707.9,1347.4 L1708.3,1348.1 L1708.8,1349.3 L1709.3,1350.1 L1709.8,1350.5 L1710.3,1350.6 L1710.7,1350.8 L1711.2,1350.7 L1711.7,1351.4 L1712.2,1351.4 L1712.6,1351.1 L1713.1,1351.1 L1713.6,1351.4 L1714.1,1351.9 L1714.6,1352.1 L1715.0,1352.2 L1715.5,1351.6 L1716.0,1351.8 L1716.5,1352.3 L1717.0,1352.0 L1717.4,1352.1 L1717.9,1351.6 L1718.4,1351.9 L1718.9,1352.0 L1719.3,1351.9 L1719.8,1351.8 L1720.3,1351.5 L1720.8,1352.4 L1721.3,1351.9 L1721.7,1351.5 L1722.2,1352.1 L1722.7,1351.8 L1723.2,1351.9 L1723.7,1351.6 L1724.1,1351.4 L1724.6,1351.3 L1725.1,1351.5 L1725.6,1351.5 L1726.0,1351.3 L1726.5,1351.2 L1727.0,1351.2 L1727.5,1350.7 L1728.0,1350.7 L1728.4,1350.4 L1728.9,1349.8 L1729.4,1349.3 L1729.9,1348.7 L1730.3,1347.8 L1730.8,1346.8 L1731.3,1346.3 L1731.8,1344.2 L1732.3,1341.5 L1732.7,1338.5 L1733.2,1333.4 L1733.7,1326.6 L1734.2,1318.9 L1734.7,1309.8 L1735.1,1302.0 L1735.6,1298.0 L1736.1,1299.0 L1736.6,1304.2 L1737.0,1311.8 L1737.5,1318.4 L1738.0,1322.6 L1738.5,1324.8 L1739.0,1325.6 L1739.4,1323.5 L1739.9,1321.4 L1740.4,1321.1 L1740.9,1323.5 L1741.4,1327.0 L1741.8,1331.8 L1742.3,1335.5 L1742.8,1339.8 L1743.3,1343.4 L1743.7,1345.2 L1744.2,1347.3 L1744.7,1348.2 L1745.2,1349.1 L1745.7,1350.1 L1746.1,1349.9 L1746.6,1350.3 L1747.1,1350.8 L1747.6,1351.1 L1748.0,1350.8 L1748.5,1351.8 L1749.0,1351.7 L1749.5,1351.7 L1750.0,1352.0 L1750.4,1351.9 L1750.9,1352.4 L1751.4,1352.2 L1751.9,1352.4 L1752.4,1352.1 L1752.8,1352.3 L1753.3,1352.5 L1753.8,1352.2 L1754.3,1352.4 L1754.7,1352.6 L1755.2,1352.9 L1755.7,1352.9 L1756.2,1353.0 L1756.7,1352.8 L1757.1,1353.0 L1757.6,1353.2 L1758.1,1352.9 L1758.6,1353.0 L1759.1,1353.0 L1759.5,1352.3 L1760.0,1352.9 L1760.5,1353.0 L1761.0,1353.2 L1761.4,1352.9 L1761.9,1353.3 L1762.4,1352.8 L1762.9,1353.0 L1763.4,1353.5 L1763.8,1352.7 L1764.3,1353.0 L1764.8,1353.0 L1765.3,1353.0 L1765.8,1352.9 L1766.2,1353.3 L1766.7,1352.8 L1767.2,1352.7 L1767.7,1353.3 L1768.1,1352.8 L1768.6,1353.2 L1769.1,1353.1 L1769.6,1353.0 L1770.1,1353.1 L1770.5,1353.1 L1771.0,1353.3 L1771.5,1353.0 L1772.0,1353.1 L1772.4,1352.8 L1772.9,1353.1 L1773.4,1352.7 L1773.9,1353.2 L1774.4,1353.1 L1774.8,1353.8 L1775.3,1353.6 L1775.8,1353.2 L1776.3,1353.5 L1776.8,1353.3 L1777.2,1352.9 L1777.7,1352.6 L1778.2,1353.6 L1778.7,1353.4 L1779.1,1352.7 L1779.6,1353.4 L1780.1,1353.5 L1780.6,1353.1 L1781.1,1353.5 L1781.5,1352.8 L1782.0,1353.2 L1782.5,1353.3 L1783.0,1353.5 L1783.5,1353.4 L1783.9,1353.3 L1784.4,1353.4 L1784.9,1353.1 L1785.4,1353.7 L1785.8,1353.2 L1786.3,1353.5 L1786.8,1353.3 L1787.3,1353.2 L1787.8,1353.5 L1788.2,1353.4 L1788.7,1353.7 L1789.2,1353.6 L1789.7,1353.1 L1790.1,1353.4 L1790.6,1353.3 L1791.1,1353.1 L1791.6,1353.0 L1792.1,1353.4 L1792.5,1353.2 L1793.0,1352.9 L1793.5,1353.3 L1794.0,1353.4 L1794.5,1353.3 L1794.9,1353.0 L1795.4,1353.1 L1795.9,1353.7 L1796.4,1353.1 L1796.8,1353.2 L1797.3,1354.0 L1797.8,1353.4 L1798.3,1353.2 L1798.8,1352.8 L1799.2,1353.4 L1799.7,1352.9 L1800.2,1353.3 L1800.7,1353.1 L1801.2,1352.8 L1801.6,1353.8 L1802.1,1353.3 L1802.6,1353.5 L1803.1,1353.5 L1803.5,1353.1 L1804.0,1353.3 L1804.5,1353.2 L1805.0,1353.5 L1805.5,1353.4 L1805.9,1353.2 L1806.4,1353.7 L1806.9,1353.4 L1807.4,1353.4 L1807.8,1353.0 L1808.3,1353.3 L1808.8,1352.8 L1809.3,1353.3 L1809.8,1352.9 L1810.2,1353.2 L1810.7,1353.1 L1811.2,1353.2 L1811.7,1353.3 L1812.2,1353.1 L1812.6,1353.1 L1813.1,1352.7 L1813.6,1352.6 L1814.1,1353.4 L1814.5,1353.2 L1815.0,1352.6 L1815.5,1353.5 L1816.0,1352.8 L1816.5,1353.1 L1816.9,1353.0 L1817.4,1352.9 L1817.9,1353.0 L1818.4,1352.4 L1818.9,1352.7 L1819.3,1352.5 L1819.8,1352.5 L1820.3,1352.3 L1820.8,1352.0 L1821.2,1351.8 L1821.7,1352.1 L1822.2,1351.4 L1822.7,1351.5 L1823.2,1351.2 L1823.6,1350.8 L1824.1,1350.7 L1824.6,1350.5 L1825.1,1350.0 L1825.6,1350.1 L1826.0,1350.5 L1826.5,1349.7 L1827.0,1350.0 L1827.5,1350.0 L1827.9,1350.8 L1828.4,1350.0 L1828.9,1350.4 L1829.4,1350.7 L1829.9,1350.3 L1830.3,1350.6 L1830.8,1350.5 L1831.3,1350.4 L1831.8,1350.9 L1832.2,1351.2 L1832.7,1351.1 L1833.2,1351.3 L1833.7,1351.6 L1834.2,1351.8 L1834.6,1351.2 L1835.1,1351.7 L1835.6,1351.4 L1836.1,1351.0 L1836.6,1351.3 L1837.0,1351.6 L1837.5,1351.5 L1838.0,1351.0 L1838.5,1351.6 L1838.9,1351.1 L1839.4,1350.8 L1839.9,1350.5 L1840.4,1350.5 L1840.9,1350.0 L1841.3,1350.1 L1841.8,1349.5 L1842.3,1349.1 L1842.8,1348.3 L1843.3,1347.3 L1843.7,1347.1 L1844.2,1345.6 L1844.7,1344.4 L1845.2,1342.5 L1845.6,1339.5 L1846.1,1335.9 L1846.6,1329.7 L1847.1,1322.8 L1847.6,1312.1 L1848.0,1300.2 L1848.5,1287.0 L1849.0,1274.7 L1849.5,1269.1 L1849.9,1272.4 L1850.4,1281.6 L1850.9,1293.1 L1851.4,1303.0 L1851.9,1310.6 L1852.3,1315.3 L1852.8,1316.4 L1853.3,1313.9 L1853.8,1310.2 L1854.3,1307.0 L1854.7,1306.2 L1855.2,1309.3 L1855.7,1315.1 L1856.2,1321.8 L1856.6,1329.4 L1857.1,1334.4 L1857.6,1339.2 L1858.1,1341.4 L1858.6,1344.3 L1859.0,1345.7 L1859.5,1346.7 L1860.0,1348.1 L1860.5,1348.8 L1861.0,1348.8 L1861.4,1349.5 L1861.9,1349.4 L1862.4,1349.7 L1862.9,1350.0 L1863.3,1350.2 L1863.8,1350.6 L1864.3,1350.1 L1864.8,1350.8 L1865.3,1350.8 L1865.7,1350.4 L1866.2,1350.1 L1866.7,1349.6 L1867.2,1350.1 L1867.6,1349.6 L1868.1,1349.4 L1868.6,1348.5 L1869.1,1347.8 L1869.6,1346.5 L1870.0,1344.8 L1870.5,1342.5 L1871.0,1339.7 L1871.5,1336.6 L1872.0,1332.9 L1872.4,1331.0 L1872.9,1330.3 L1873.4,1331.6 L1873.9,1334.0 L1874.3,1337.6 L1874.8,1339.6 L1875.3,1341.1 L1875.8,1342.1 L1876.3,1342.1 L1876.7,1341.4 L1877.2,1340.4 L1877.7,1340.1 L1878.2,1340.1 L1878.7,1341.0 L1879.1,1343.0 L1879.6,1344.2 L1880.1,1345.9 L1880.6,1347.6 L1881.0,1348.9 L1881.5,1349.7 L1882.0,1350.3 L1882.5,1349.9 L1883.0,1351.0 L1883.4,1351.2 L1883.9,1351.4 L1884.4,1351.1 L1884.9,1351.6 L1885.4,1351.8 L1885.8,1352.0 L1886.3,1351.6 L1886.8,1351.2 L1887.3,1351.6 L1887.7,1351.7 L1888.2,1351.7 L1888.7,1352.0 L1889.2,1351.4 L1889.7,1351.1 L1890.1,1351.1 L1890.6,1351.4 L1891.1,1350.9 L1891.6,1350.7 L1892.0,1350.6 L1892.5,1351.0 L1893.0,1350.6 L1893.5,1350.2 L1894.0,1350.3 L1894.4,1349.9 L1894.9,1349.1 L1895.4,1349.2 L1895.9,1348.5 L1896.4,1347.3 L1896.8,1346.9 L1897.3,1346.5 L1897.8,1345.6 L1898.3,1344.4 L1898.7,1342.9 L1899.2,1341.9 L1899.7,1339.8 L1900.2,1338.7 L1900.7,1336.6 L1901.1,1334.6 L1901.6,1332.3 L1902.1,1330.6 L1902.6,1327.6 L1903.1,1326.0 L1903.5,1324.8 L1904.0,1323.2 L1904.5,1323.0 L1905.0,1322.4 L1905.4,1322.3 L1905.9,1323.3 L1906.4,1323.8 L1906.9,1324.9 L1907.4,1325.5 L1907.8,1326.5 L1908.3,1327.8 L1908.8,1328.6 L1909.3,1329.4 L1909.7,1330.6 L1910.2,1332.3 L1910.7,1334.1 L1911.2,1334.9 L1911.7,1336.9 L1912.1,1337.5 L1912.6,1339.5 L1913.1,1341.5 L1913.6,1343.1 L1914.1,1343.9 L1914.5,1345.1 L1915.0,1346.0 L1915.5,1347.1 L1916.0,1347.3 L1916.4,1348.4 L1916.9,1348.7 L1917.4,1349.2 L1917.9,1349.8 L1918.4,1350.1 L1918.8,1350.3 L1919.3,1350.7 L1919.8,1350.7 L1920.3,1351.6 L1920.8,1351.6 L1921.2,1351.5 L1921.7,1352.2 L1922.2,1352.2 L1922.7,1352.1 L1923.1,1352.0 L1923.6,1352.3 L1924.1,1352.5 L1924.6,1352.8 L1925.1,1352.4 L1925.5,1352.4 L1926.0,1353.2 L1926.5,1353.1 L1927.0,1352.8 L1927.4,1352.5 L1927.9,1353.0 L1928.4,1353.2 L1928.9,1353.2 L1929.4,1353.2 L1929.8,1353.0 L1930.3,1353.4 L1930.8,1352.9 L1931.3,1353.0 L1931.8,1353.0 L1932.2,1353.0 L1932.7,1353.8 L1933.2,1352.8 L1933.7,1353.4 L1934.1,1353.0 L1934.6,1353.0 L1935.1,1353.4 L1935.6,1352.9 L1936.1,1353.4 L1936.5,1354.1 L1937.0,1353.4 L1937.5,1353.6 L1938.0,1353.2 L1938.5,1353.6 L1938.9,1353.1 L1939.4,1353.6 L1939.9,1353.5 L1940.4,1354.2 L1940.8,1353.5 L1941.3,1353.5 L1941.8,1353.4 L1942.3,1353.3 L1942.8,1353.8 L1943.2,1354.0 L1943.7,1353.5 L1944.2,1353.8 L1944.7,1353.5 L1945.2,1353.7 L1945.6,1353.8 L1946.1,1353.2 L1946.6,1353.4 L1947.1,1353.9 L1947.5,1353.1 L1948.0,1353.6 L1948.5,1353.6 L1949.0,1353.4 L1949.5,1353.7 L1949.9,1353.7 L1950.4,1353.8 L1950.9,1352.9 L1951.4,1354.1 L1951.8,1353.5 L1952.3,1353.9 L1952.8,1353.6 L1953.3,1353.5 L1953.8,1353.6 L1954.2,1354.5 L1954.7,1354.1 L1955.2,1353.6 L1955.7,1353.7 L1956.2,1354.0 L1956.6,1353.8 L1957.1,1353.7 L1957.6,1353.6 L1958.1,1353.3 L1958.5,1353.8 L1959.0,1353.9 L1959.5,1354.3 L1960.0,1353.5 L1960.5,1353.8 L1960.9,1353.6 L1961.4,1354.0 L1961.9,1353.6 L1962.4,1353.4 L1962.9,1353.1 L1963.3,1353.8 L1963.8,1353.7 L1964.3,1353.9 L1964.8,1353.5 L1965.2,1354.3 L1965.7,1353.4 L1966.2,1353.7"/>
<path stroke="#ff0080" d="M531.0,1018.0 L531.5,1016.7 L532.0,1017.5 L532.4,1017.3 L532.9,1017.3 L533.4,1017.4 L533.9,1016.9 L534.3,1017.4 L534.8,1017.2 L535.3,1018.4 L535.8,1017.5 L536.3,1017.4 L536.7,1017.4 L537.2,1017.3 L537.7,1017.2 L538.2,1017.4 L538.7,1017.7 L539.1,1017.5 L539.6,1017.8 L540.1,1017.5 L540.6,1017.6 L541.0,1018.0 L541.5,1017.7 L542.0,1017.4 L542.5,1017.5 L543.0,1017.7 L543.4,1018.1 L543.9,1017.5 L544.4,1017.5 L544.9,1017.9 L545.4,1017.4 L545.8,1017.5 L546.3,1017.9 L546.8,1017.8 L547.3,1017.7 L547.7,1017.8 L548.2,1016.9 L548.7,1018.0 L549.2,1017.4 L549.7,1017.2 L550.1,1017.8 L550.6,1017.9 L551.1,1017.6 L551.6,1017.4 L552.0,1017.7 L552.5,1017.7 L553.0,1018.1 L553.5,1017.9 L554.0,1017.8 L554.4,1018.1 L554.9,1017.7 L555.4,1017.5 L555.9,1017.9 L556.4,1017.9 L556.8,1017.7 L557.3,1017.6 L557.8,1017.9 L558.3,1017.1 L558.7,1018.0 L559.2,1017.9 L559.7,1017.4 L560.2,1017.8 L560.7,1017.6 L561.1,1018.0 L561.6,1017.3 L562.1,1017.6 L562.6,1018.0 L563.1,1018.2 L563.5,1017.3 L564.0,1017.7 L564.5,1018.0 L565.0,1017.7 L565.4,1018.3 L565.9,1017.6 L566.4,1018.0 L566.9,1017.6 L567.4,1018.3 L567.8,1017.9 L568.3,1017.8 L568.8,1017.4 L569.3,1018.4 L569.8,1018.1 L570.2,1018.1 L570.7,1018.3 L571.2,1018.0 L571.7,1017.8 L572.1,1017.7 L572.6,1017.7 L573.1,1018.3 L573.6,1017.6 L574.1,1017.8 L574.5,1017.9 L575.0,1018.0 L575.5,1018.1 L576.0,1017.6 L576.4,1017.5 L576.9,1018.0 L577.4,1018.3 L577.9,1018.2 L578.4,1018.1 L578.8,1017.9 L579.3,1018.1 L579.8,1018.0 L580.3,1018.3 L580.8,1017.9 L581.2,1018.1 L581.7,1018.1 L582.2,1018.3 L582.7,1018.2 L583.1,1018.9 L583.6,1018.6 L584.1,1018.6 L584.6,1017.7 L585.1,1018.2 L585.5,1018.1 L586.0,1018.4 L586.5,1017.7 L587.0,1018.7 L587.5,1018.6 L587.9,1018.0 L588.4,1018.1 L588.9,1018.2 L589.4,1018.4 L589.8,1018.6 L590.3,1019.0 L590.8,1018.4 L591.3,1018.7 L591.8,1018.5 L592.2,1019.0 L592.7,1018.7 L593.2,1018.9 L593.7,1018.3 L594.1,1018.5 L594.6,1018.4 L595.1,1019.0 L595.6,1018.8 L596.1,1018.5 L596.5,1018.5 L597.0,1018.8 L597.5,1018.5 L598.0,1018.4 L598.5,1018.8 L598.9,1019.4 L599.4,1018.7 L599.9,1018.6 L600.4,1018.4 L600.8,1018.4 L601.3,1018.9 L601.8,1019.0 L602.3,1018.8 L602.8,1018.9 L603.2,1018.8 L603.7,1018.8 L604.2,1018.4 L604.7,1018.7 L605.2,1018.9 L605.6,1018.6 L606.1,1018.7 L606.6,1018.6 L607.1,1018.8 L607.5,1019.1 L608.0,1018.7 L608.5,1018.8 L609.0,1019.1 L609.5,1019.0 L609.9,1019.3 L610.4,1018.3 L610.9,1019.1 L611.4,1018.7 L611.8,1018.9 L612.3,1019.1 L612.8,1019.1 L613.3,1019.1 L613.8,1018.9 L614.2,1019.3 L614.7,1018.7 L615.2,1018.7 L615.7,1019.0 L616.2,1018.6 L616.6,1019.3 L617.1,1019.0 L617.6,1019.3 L618.1,1018.7 L618.5,1018.5 L619.0,1018.7 L619.5,1018.8 L620.0,1018.4 L620.5,1018.6 L620.9,1018.4 L621.4,1018.8 L621.9,1018.1 L622.4,1018.5 L622.9,1018.0 L623.3,1017.8 L623.8,1017.8 L624.3,1017.6 L624.8,1017.9 L625.2,1018.0 L625.7,1017.7 L626.2,1017.7 L626.7,1017.9 L627.2,1017.4 L627.6,1017.3 L628.1,1017.0 L628.6,1016.5 L629.1,1017.1 L629.6,1016.2 L630.0,1016.8 L630.5,1016.4 L631.0,1016.6 L631.5,1016.1 L631.9,1015.7 L632.4,1015.9 L632.9,1015.4 L633.4,1015.3 L633.9,1015.1 L634.3,1014.9 L634.8,1014.6 L635.3,1014.2 L635.8,1014.1 L636.2,1013.2 L636.7,1013.4 L637.2,1012.8 L637.7,1013.1 L638.2,1012.7 L638.6,1011.4 L639.1,1011.5 L639.6,1011.0 L640.1,1010.2 L640.6,1010.0 L641.0,1009.1 L641.5,1008.1 L642.0,1007.8 L642.5,1007.0 L642.9,1006.2 L643.4,1004.8 L643.9,1004.2 L644.4,1003.1 L644.9,1001.2 L645.3,999.8 L645.8,998.3 L646.3,996.3 L646.8,994.8 L647.3,991.9 L647.7,988.8 L648.2,985.7 L648.7,982.2 L649.2,978.5 L649.6,972.7 L650.1,966.5 L650.6,958.8 L651.1,948.4 L651.6,935.3 L652.0,915.0 L652.5,887.5 L653.0,847.2 L653.5,790.6 L653.9,712.1 L654.4,610.3 L654.9,481.6 L655.4,331.3 L655.9,169.2 L656.3,80.0 L656.8,80.0 L657.3,80.0 L657.8,80.0 L658.3,80.0 L658.7,80.0 L659.2,187.0 L659.7,340.5 L660.2,484.5 L660.6,608.5 L661.1,709.0 L661.6,786.3 L662.1,842.9 L662.6,883.6 L663.0,912.7 L663.5,933.3 L664.0,947.2 L664.5,957.9 L665.0,965.9 L665.4,972.7 L665.9,977.1 L666.4,982.1 L666.9,986.1 L667.3,988.7 L667.8,992.1 L668.3,994.3 L668.8,996.1 L669.3,998.2 L669.7,999.4 L670.2,1001.2 L670.7,1003.2 L671.2,1003.6 L671.6,1005.5 L672.1,1005.9 L672.6,1007.1 L673.1,1007.7 L673.6,1007.8 L674.0,1008.9 L674.5,1009.8 L675.0,1010.0 L675.5,1010.4 L676.0,1011.4 L676.4,1011.6 L676.9,1011.7 L677.4,1012.4 L677.9,1013.2 L678.3,1013.1 L678.8,1013.8 L679.3,1014.3 L679.8,1014.2 L680.3,1014.1 L680.7,1014.3 L681.2,1014.9 L681.7,1015.3 L682.2,1015.4 L682.7,1015.6 L683.1,1015.5 L683.6,1015.9 L684.1,1015.9 L684.6,1016.1 L685.0,1015.9 L685.5,1016.0 L686.0,1016.4 L686.5,1016.4 L687.0,1016.5 L687.4,1017.1 L687.9,1017.0 L688.4,1017.9 L688.9,1017.5 L689.4,1017.1 L689.8,1017.6 L690.3,1017.5 L690.8,1017.3 L691.3,1017.9 L691.7,1017.5 L692.2,1016.9 L692.7,1018.1 L693.2,1017.8 L693.7,1018.4 L694.1,1017.9 L694.6,1017.8 L695.1,1018.7 L695.6,1018.0 L696.0,1018.4 L696.5,1018.8 L697.0,1018.5 L697.5,1018.5 L698.0,1018.6 L698.4,1018.8 L698.9,1018.4 L699.4,1018.9 L699.9,1018.9 L700.4,1019.4 L700.8,1018.6 L701.3,1018.5 L701.8,1018.9 L702.3,1018.6 L702.7,1018.7 L703.2,1018.6 L703.7,1018.8 L704.2,1018.2 L704.7,1018.3 L705.1,1017.5 L705.6,1017.9 L706.1,1018.5 L706.6,1017.9 L707.1,1018.0 L707.5,1017.9 L708.0,1018.5 L708.5,1018.5 L709.0,1018.2 L709.4,1018.8 L709.9,1018.8 L710.4,1018.9 L710.9,1018.5 L711.4,1019.1 L711.8,1018.6 L712.3,1018.3 L712.8,1017.9 L713.3,1017.5 L713.7,1017.2 L714.2,1016.1 L714.7,1015.5 L715.2,1014.3 L715.7,1013.2 L716.1,1011.8 L716.6,1010.6 L717.1,1009.6 L717.6,1010.2 L718.1,1010.8 L718.5,1011.5 L719.0,1012.7 L719.5,1013.6 L720.0,1014.9 L720.4,1015.8 L720.9,1017.4 L721.4,1017.9 L721.9,1018.3 L722.4,1018.6 L722.8,1019.3 L723.3,1020.0 L723.8,1020.0 L724.3,1019.8 L724.8,1020.6 L725.2,1020.7 L725.7,1020.7 L726.2,1020.7 L726.7,1020.9 L727.1,1020.8 L727.6,1021.0 L728.1,1020.6 L728.6,1021.3 L729.1,1021.0 L729.5,1021.6 L730.0,1020.5 L730.5,1021.3 L731.0,1021.4 L731.4,1021.1 L731.9,1021.3 L732.4,1021.5 L732.9,1021.4 L733.4,1021.2 L733.8,1021.3 L734.3,1021.7 L734.8,1021.8 L735.3,1021.5 L735.8,1021.5 L736.2,1021.6 L736.7,1021.8 L737.2,1021.3 L737.7,1021.2 L738.1,1021.7 L738.6,1021.4 L739.1,1021.5 L739.6,1021.8 L740.1,1021.9 L740.5,1021.5 L741.0,1022.1 L741.5,1021.4 L742.0,1022.1 L742.5,1021.5 L742.9,1021.6 L743.4,1022.2 L743.9,1021.9 L744.4,1021.9 L744.8,1022.0 L745.3,1022.3 L745.8,1022.2 L746.3,1022.2 L746.8,1022.6 L747.2,1022.1 L747.7,1022.2 L748.2,1022.2 L748.7,1022.7 L749.2,1022.7 L749.6,1022.8 L750.1,1022.5 L750.6,1022.5 L751.1,1022.8 L751.5,1022.5 L752.0,1022.9 L752.5,1022.9 L753.0,1022.5 L753.5,1022.7 L753.9,1022.7 L754.4,1023.3 L754.9,1023.5 L755.4,1022.8 L755.8,1022.9 L756.3,1022.3 L756.8,1023.0 L757.3,1023.0 L757.8,1022.7 L758.2,1023.3 L758.7,1022.6 L759.2,1023.0 L759.7,1023.2 L760.2,1022.8 L760.6,1023.4 L761.1,1023.5 L761.6,1022.9 L762.1,1022.9 L762.5,1023.5 L763.0,1023.3 L763.5,1023.0 L764.0,1023.3 L764.5,1023.4 L764.9,1023.4 L765.4,1023.7 L765.9,1023.6 L766.4,1024.1 L766.9,1024.0 L767.3,1023.8 L767.8,1024.0 L768.3,1024.1 L768.8,1023.9 L769.2,1023.4 L769.7,1024.0 L770.2,1023.8 L770.7,1024.3 L771.2,1023.9 L771.6,1024.0 L772.1,1024.0 L772.6,1024.4 L773.1,1024.0 L773.5,1023.9 L774.0,1024.1 L774.5,1023.9 L775.0,1024.1 L775.5,1024.1 L775.9,1024.2 L776.4,1024.7 L776.9,1024.1 L777.4,1024.3 L777.9,1024.2 L778.3,1024.5 L778.8,1024.0 L779.3,1024.2 L779.8,1024.4 L780.2,1024.6 L780.7,1024.4 L781.2,1024.3 L781.7,1024.3 L782.2,1024.7 L782.6,1025.0 L783.1,1024.7 L783.6,1024.7 L784.1,1024.8 L784.6,1024.4 L785.0,1024.6 L785.5,1024.6 L786.0,1024.8 L786.5,1024.8 L786.9,1024.5 L787.4,1025.1 L787.9,1025.3 L788.4,1024.8 L788.9,1025.0 L789.3,1024.9 L789.8,1025.1 L790.3,1024.5 L790.8,1025.3 L791.2,1024.8 L791.7,1025.3 L792.2,1024.9 L792.7,1024.8 L793.2,1024.9 L793.6,1025.2 L794.1,1024.7 L794.6,1024.8 L795.1,1024.8 L795.6,1024.5 L796.0,1025.3 L796.5,1025.1 L797.0,1025.0 L797.5,1025.3 L797.9,1024.7 L798.4,1025.0 L798.9,1025.5 L799.4,1025.3 L799.9,1024.4 L800.3,1024.1 L800.8,1024.7 L801.3,1025.3 L801.8,1024.9 L802.3,1025.0 L802.7,1025.2 L803.2,1024.8 L803.7,1025.1 L804.2,1025.2 L804.6,1025.2 L805.1,1025.1 L805.6,1024.8 L806.1,1025.1 L806.6,1024.9 L807.0,1025.4 L807.5,1025.7 L808.0,1024.7 L808.5,1024.3 L809.0,1024.8 L809.4,1025.0 L809.9,1025.2 L810.4,1025.1 L810.9,1024.6 L811.3,1024.5 L811.8,1025.0 L812.3,1024.3 L812.8,1024.9 L813.3,1024.4 L813.7,1024.6 L814.2,1024.5 L814.7,1024.3 L815.2,1024.2 L815.6,1023.5 L816.1,1023.6 L816.6,1023.2 L817.1,1022.8 L817.6,1022.5 L818.0,1021.3 L818.5,1020.2 L819.0,1018.9 L819.5,1017.3 L820.0,1015.5 L820.4,1012.6 L820.9,1010.3 L821.4,1007.2 L821.9,1004.5 L822.3,1002.5 L822.8,1002.5 L823.3,1003.1 L823.8,1003.7 L824.3,1006.5 L824.7,1008.9 L825.2,1011.2 L825.7,1013.8 L826.2,1016.6 L826.7,1018.2 L827.1,1019.2 L827.6,1020.8 L828.1,1021.7 L828.6,1022.5 L829.0,1022.4 L829.5,1023.7 L830.0,1023.7 L830.5,1024.2 L831.0,1024.3 L831.4,1024.8 L831.9,1024.6 L832.4,1024.6 L832.9,1025.1 L833.3,1025.5 L833.8,1025.1 L834.3,1025.6 L834.8,1025.4 L835.3,1025.2 L835.7,1025.9 L836.2,1025.3 L836.7,1025.8 L837.2,1025.5 L837.7,1025.8 L838.1,1025.3 L838.6,1025.5 L839.1,1026.0 L839.6,1025.8 L840.0,1025.8 L840.5,1025.7 L841.0,1026.0 L841.5,1025.5 L842.0,1025.6 L842.4,1025.9 L842.9,1025.7 L843.4,1025.8 L843.9,1026.0 L844.4,1026.0 L844.8,1026.0 L845.3,1026.5 L845.8,1026.4 L846.3,1026.5 L846.7,1026.1 L847.2,1026.0 L847.7,1025.8 L848.2,1026.1 L848.7,1025.6 L849.1,1026.1 L849.6,1026.5 L850.1,1026.7 L850.6,1026.5 L851.0,1026.0 L851.5,1026.4 L852.0,1026.1 L852.5,1026.6 L853.0,1026.3 L853.4,1026.6 L853.9,1027.1 L854.4,1026.6 L854.9,1027.1 L855.4,1026.5 L855.8,1026.3 L856.3,1026.8 L856.8,1026.9 L857.3,1026.3 L857.7,1026.5 L858.2,1026.1 L858.7,1026.4 L859.2,1026.8 L859.7,1026.5 L860.1,1026.4 L860.6,1026.1 L861.1,1026.6 L861.6,1026.8 L862.1,1026.7 L862.5,1026.6 L863.0,1026.2 L863.5,1027.0 L864.0,1026.5 L864.4,1026.5 L864.9,1026.8 L865.4,1026.0 L865.9,1026.5 L866.4,1026.5 L866.8,1026.7 L867.3,1027.0 L867.8,1026.7 L868.3,1026.1 L868.8,1026.5 L869.2,1026.6 L869.7,1026.6 L870.2,1026.2 L870.7,1026.1 L871.1,1026.8 L871.6,1026.7 L872.1,1026.6 L872.6,1026.1 L873.1,1027.1 L873.5,1025.8 L874.0,1026.5 L874.5,1027.2 L875.0,1026.6 L875.4,1026.7 L875.9,1026.3 L876.4,1027.0 L876.9,1026.3 L877.4,1026.7 L877.8,1026.7 L878.3,1026.3 L878.8,1026.9 L879.3,1026.2 L879.8,1026.4 L880.2,1026.6 L880.7,1026.5 L881.2,1026.8 L881.7,1026.9 L882.1,1026.6 L882.6,1026.5 L883.1,1026.5 L883.6,1026.5 L884.1,1026.9 L884.5,1026.6 L885.0,1026.8 L885.5,1026.6 L886.0,1026.4 L886.5,1026.9 L886.9,1026.4 L887.4,1026.6 L887.9,1027.1 L888.4,1026.3 L888.8,1026.6 L889.3,1026.2 L889.8,1026.5 L890.3,1026.2 L890.8,1026.5 L891.2,1026.5 L891.7,1026.7 L892.2,1027.1 L892.7,1026.7 L893.1,1026.8 L893.6,1026.6 L894.1,1026.6 L894.6,1026.4 L895.1,1026.1 L895.5,1026.6 L896.0,1027.1 L896.5,1026.7 L897.0,1026.5 L897.5,1027.1 L897.9,1026.5 L898.4,1026.5 L898.9,1026.3 L899.4,1026.4 L899.8,1026.6 L900.3,1027.2 L900.8,1026.6 L901.3,1026.4 L901.8,1026.5 L902.2,1026.6 L902.7,1026.2 L903.2,1026.8 L903.7,1026.9 L904.2,1026.8 L904.6,1026.9 L905.1,1026.4 L905.6,1026.3 L906.1,1027.1 L906.5,1027.1 L907.0,1026.3 L907.5,1026.8 L908.0,1026.8 L908.5,1026.9 L908.9,1026.8 L909.4,1026.6 L909.9,1026.8 L910.4,1026.8 L910.8,1026.7 L911.3,1026.2 L911.8,1025.9 L912.3,1026.5 L912.8,1026.3 L913.2,1026.8 L913.7,1026.9 L914.2,1026.7 L914.7,1026.5 L915.2,1026.6 L915.6,1026.9 L916.1,1026.3 L916.6,1026.7 L917.1,1026.6 L917.5,1026.4 L918.0,1026.7 L918.5,1026.1 L919.0,1026.5 L919.5,1025.9 L919.9,1025.9 L920.4,1025.7 L920.9,1026.0 L921.4,1025.6 L921.9,1025.8 L922.3,1025.3 L922.8,1025.8 L923.3,1025.9 L923.8,1025.3 L924.2,1025.6 L924.7,1025.1 L925.2,1025.4 L925.7,1024.6 L926.2,1023.9 L926.6,1024.6 L927.1,1023.8 L927.6,1023.2 L928.1,1023.0 L928.6,1022.2 L929.0,1022.1 L929.5,1021.2 L930.0,1021.2 L930.5,1019.9 L930.9,1018.0 L931.4,1016.2 L931.9,1014.0 L932.4,1010.3 L932.9,1006.1 L933.3,1000.0 L933.8,992.1 L934.3,983.0 L934.8,973.5 L935.2,965.2 L935.7,960.1 L936.2,959.0 L936.7,961.9 L937.2,965.5 L937.6,970.8 L938.1,976.4 L938.6,984.0 L939.1,990.9 L939.6,997.7 L940.0,1003.6 L940.5,1008.1 L941.0,1010.8 L941.5,1013.4 L941.9,1015.2 L942.4,1016.3 L942.9,1016.8 L943.4,1017.5 L943.9,1017.6 L944.3,1018.2 L944.8,1017.9 L945.3,1017.2 L945.8,1016.6 L946.3,1016.9 L946.7,1016.6 L947.2,1015.7 L947.7,1015.0 L948.2,1013.6 L948.6,1012.1 L949.1,1011.2 L949.6,1009.1 L950.1,1006.9 L950.6,1003.3 L951.0,999.8 L951.5,994.0 L952.0,986.5 L952.5,974.6 L952.9,957.7 L953.4,934.0 L953.9,902.9 L954.4,863.7 L954.9,822.2 L955.3,789.6 L955.8,777.8 L956.3,786.9 L956.8,802.1 L957.3,817.8 L957.7,833.8 L958.2,854.2 L958.7,878.1 L959.2,900.4 L959.6,915.5 L960.1,921.1 L960.6,916.0 L961.1,900.7 L961.6,874.4 L962.0,841.6 L962.5,808.6 L963.0,790.4 L963.5,791.8 L964.0,807.4 L964.4,825.9 L964.9,842.0 L965.4,861.4 L965.9,885.6 L966.3,913.6 L966.8,937.9 L967.3,957.6 L967.8,973.0 L968.3,983.8 L968.7,990.5 L969.2,995.5 L969.7,998.7 L970.2,999.7 L970.6,999.4 L971.1,997.6 L971.6,994.6 L972.1,988.7 L972.6,980.5 L973.0,971.4 L973.5,960.0 L974.0,950.5 L974.5,943.8 L975.0,943.1 L975.4,947.2 L975.9,953.3 L976.4,958.8 L976.9,965.5 L977.3,974.0 L977.8,983.2 L978.3,991.9 L978.8,999.3 L979.3,1005.5 L979.7,1010.1 L980.2,1012.4 L980.7,1016.0 L981.2,1017.1 L981.7,1018.8 L982.1,1019.3 L982.6,1020.4 L983.1,1021.1 L983.6,1021.6 L984.0,1022.3 L984.5,1022.7 L985.0,1022.6 L985.5,1023.2 L986.0,1023.7 L986.4,1023.9 L986.9,1023.9 L987.4,1024.1 L987.9,1024.3 L988.4,1024.2 L988.8,1024.3 L989.3,1025.3 L989.8,1024.9 L990.3,1025.1 L990.7,1025.0 L991.2,1025.7 L991.7,1025.9 L992.2,1025.4 L992.7,1025.7 L993.1,1025.5 L993.6,1026.2 L994.1,1026.1 L994.6,1025.6 L995.0,1026.3 L995.5,1026.1 L996.0,1026.2 L996.5,1026.2 L997.0,1026.0 L997.4,1026.1 L997.9,1026.4 L998.4,1026.3 L998.9,1026.1 L999.4,1026.9 L999.8,1026.3 L1000.3,1026.3 L1000.8,1026.3 L1001.3,1026.7 L1001.7,1026.8 L1002.2,1026.6 L1002.7,1026.8 L1003.2,1026.2 L1003.7,1026.5 L1004.1,1026.5 L1004.6,1026.7 L1005.1,1026.8 L1005.6,1026.2 L1006.1,1027.6 L1006.5,1026.5 L1007.0,1026.9 L1007.5,1027.0 L1008.0,1027.1 L1008.4,1026.9 L1008.9,1026.0 L1009.4,1026.6 L1009.9,1027.1 L1010.4,1026.6 L1010.8,1026.6 L1011.3,1026.3 L1011.8,1027.3 L1012.3,1027.1 L1012.7,1026.7 L1013.2,1026.9 L1013.7,1026.9 L1014.2,1026.7 L1014.7,1026.9 L1015.1,1027.1 L1015.6,1027.2 L1016.1,1027.4 L1016.6,1027.0 L1017.1,1026.9 L1017.5,1027.2 L1018.0,1026.9 L1018.5,1026.7 L1019.0,1027.4 L1019.4,1027.0 L1019.9,1027.1 L1020.4,1027.3 L1020.9,1026.8 L1021.4,1027.3 L1021.8,1027.2 L1022.3,1027.1 L1022.8,1027.2 L1023.3,1026.9 L1023.8,1026.5 L1024.2,1027.1 L1024.7,1026.9 L1025.2,1027.4 L1025.7,1027.2 L1026.1,1027.0 L1026.6,1027.2 L1027.1,1027.5 L1027.6,1027.5 L1028.1,1027.3 L1028.5,1027.3 L1029.0,1027.1 L1029.5,1027.1 L1030.0,1027.4 L1030.4,1027.2 L1030.9,1027.3 L1031.4,1026.9 L1031.9,1026.7 L1032.4,1026.7 L1032.8,1027.1 L1033.3,1027.6 L1033.8,1027.6 L1034.3,1027.0 L1034.8,1026.8 L1035.2,1027.5 L1035.7,1027.4 L1036.2,1026.9 L1036.7,1027.6 L1037.1,1027.4 L1037.6,1027.7 L1038.1,1027.5 L1038.6,1027.6 L1039.1,1027.5 L1039.5,1027.1 L1040.0,1027.3 L1040.5,1027.2 L1041.0,1027.7 L1041.5,1027.2 L1041.9,1027.0 L1042.4,1027.7 L1042.9,1027.8 L1043.4,1027.9 L1043.8,1027.8 L1044.3,1027.1 L1044.8,1027.4 L1045.3,1027.4 L1045.8,1027.6 L1046.2,1027.0 L1046.7,1027.6 L1047.2,1027.7 L1047.7,1027.4 L1048.2,1027.7 L1048.6,1028.0 L1049.1,1027.7 L1049.6,1028.0 L1050.1,1028.0 L1050.5,1027.8 L1051.0,1027.8 L1051.5,1027.6 L1052.0,1028.1 L1052.5,1027.6 L1052.9,1027.6 L1053.4,1028.0 L1053.9,1027.6 L1054.4,1027.9 L1054.8,1028.1 L1055.3,1027.8 L1055.8,1027.8 L1056.3,1028.1 L1056.8,1028.0 L1057.2,1027.4 L1057.7,1027.5 L1058.2,1028.2 L1058.7,1028.0 L1059.2,1027.3 L1059.6,1027.5 L1060.1,1027.9 L1060.6,1027.6 L1061.1,1028.1 L1061.5,1028.0 L1062.0,1028.1 L1062.5,1027.6 L1063.0,1028.1 L1063.5,1028.5 L1063.9,1027.8 L1064.4,1028.3 L1064.9,1028.3 L1065.4,1028.2 L1065.9,1028.0 L1066.3,1027.7 L1066.8,1027.8 L1067.3,1028.2 L1067.8,1028.3 L1068.2,1028.4 L1068.7,1028.3 L1069.2,1028.3 L1069.7,1027.9 L1070.2,1027.7 L1070.6,1028.1 L1071.1,1028.2 L1071.6,1028.1 L1072.1,1027.6 L1072.5,1027.9 L1073.0,1027.7 L1073.5,1028.1 L1074.0,1027.8 L1074.5,1028.0 L1074.9,1028.2 L1075.4,1028.1 L1075.9,1028.4 L1076.4,1027.8 L1076.9,1027.4 L1077.3,1028.3 L1077.8,1028.4 L1078.3,1028.4 L1078.8,1028.1 L1079.2,1028.2 L1079.7,1028.1 L1080.2,1027.7 L1080.7,1027.9 L1081.2,1028.1 L1081.6,1027.8 L1082.1,1028.5 L1082.6,1027.5 L1083.1,1027.8 L1083.6,1028.2 L1084.0,1027.7 L1084.5,1027.6 L1085.0,1027.5 L1085.5,1027.6 L1085.9,1028.2 L1086.4,1027.9 L1086.9,1027.9 L1087.4,1027.6 L1087.9,1027.9 L1088.3,1027.7 L1088.8,1027.4 L1089.3,1027.4 L1089.8,1027.6 L1090.2,1027.8 L1090.7,1027.4 L1091.2,1027.5 L1091.7,1027.8 L1092.2,1027.0 L1092.6,1026.8 L1093.1,1027.3 L1093.6,1027.1 L1094.1,1026.8 L1094.6,1026.8 L1095.0,1026.5 L1095.5,1026.6 L1096.0,1026.2 L1096.5,1026.4 L1096.9,1025.7 L1097.4,1025.6 L1097.9,1025.6 L1098.4,1025.2 L1098.9,1025.3 L1099.3,1024.8 L1099.8,1024.3 L1100.3,1024.1 L1100.8,1023.5 L1101.3,1022.7 L1101.7,1022.3 L1102.2,1021.7 L1102.7,1020.9 L1103.2,1020.1 L1103.6,1019.2 L1104.1,1017.7 L1104.6,1016.3 L1105.1,1014.1 L1105.6,1011.2 L1106.0,1008.7 L1106.5,1005.1 L1107.0,1000.5 L1107.5,996.1 L1108.0,991.0 L1108.4,985.0 L1108.9,979.0 L1109.4,972.6 L1109.9,966.7 L1110.3,961.2 L1110.8,957.4 L1111.3,954.8 L1111.8,954.4 L1112.3,954.6 L1112.7,957.3 L1113.2,960.8 L1113.7,964.8 L1114.2,969.5 L1114.6,975.1 L1115.1,980.3 L1115.6,986.0 L1116.1,991.5 L1116.6,996.6 L1117.0,1001.4 L1117.5,1004.9 L1118.0,1008.8 L1118.5,1011.0 L1119.0,1013.7 L1119.4,1016.0 L1119.9,1018.1 L1120.4,1019.1 L1120.9,1019.8 L1121.3,1021.6 L1121.8,1022.3 L1122.3,1022.7 L1122.8,1023.4 L1123.3,1024.0 L1123.7,1024.7 L1124.2,1025.2 L1124.7,1025.0 L1125.2,1026.4 L1125.7,1026.0 L1126.1,1026.2 L1126.6,1026.7 L1127.1,1026.7 L1127.6,1027.6 L1128.0,1027.4 L1128.5,1027.2 L1129.0,1027.3 L1129.5,1027.4 L1130.0,1027.6 L1130.4,1028.0 L1130.9,1027.7 L1131.4,1028.5 L1131.9,1028.1 L1132.3,1028.2 L1132.8,1028.6 L1133.3,1027.8 L1133.8,1028.2 L1134.3,1028.7 L1134.7,1028.6 L1135.2,1028.7 L1135.7,1028.8 L1136.2,1028.6 L1136.7,1028.8 L1137.1,1028.5 L1137.6,1028.4 L1138.1,1029.3 L1138.6,1028.8 L1139.0,1028.8 L1139.5,1029.5 L1140.0,1029.4 L1140.5,1029.0 L1141.0,1029.0 L1141.4,1029.1 L1141.9,1028.9 L1142.4,1029.3 L1142.9,1029.2 L1143.4,1029.2 L1143.8,1029.4 L1144.3,1029.4 L1144.8,1029.7 L1145.3,1029.6 L1145.7,1028.7 L1146.2,1029.4 L1146.7,1028.8 L1147.2,1028.7 L1147.7,1029.3 L1148.1,1028.8 L1148.6,1028.9 L1149.1,1029.2 L1149.6,1028.6 L1150.0,1028.4 L1150.5,1028.7 L1151.0,1028.7 L1151.5,1028.3 L1152.0,1027.4 L1152.4,1027.3 L1152.9,1026.9 L1153.4,1026.8 L1153.9,1025.7 L1154.4,1024.7 L1154.8,1023.6 L1155.3,1021.8 L1155.8,1020.7 L1156.3,1019.4 L1156.7,1017.9 L1157.2,1017.7 L1157.7,1017.8 L1158.2,1017.6 L1158.7,1018.7 L1159.1,1019.4 L1159.6,1020.2 L1160.1,1020.6 L1160.6,1021.9 L1161.1,1023.4 L1161.5,1024.3 L1162.0,1024.8 L1162.5,1026.0 L1163.0,1027.0 L1163.4,1027.2 L1163.9,1027.8 L1164.4,1028.8 L1164.9,1028.4 L1165.4,1028.6 L1165.8,1028.5 L1166.3,1028.7 L1166.8,1029.4 L1167.3,1029.1 L1167.8,1028.9 L1168.2,1029.0 L1168.7,1029.3 L1169.2,1029.6 L1169.7,1029.2 L1170.1,1029.6 L1170.6,1029.3 L1171.1,1029.6 L1171.6,1029.6 L1172.1,1029.7 L1172.5,1029.4 L1173.0,1029.4 L1173.5,1029.6 L1174.0,1029.1 L1174.4,1029.5 L1174.9,1029.6 L1175.4,1029.7 L1175.9,1029.4 L1176.4,1029.3 L1176.8,1029.4 L1177.3,1029.1 L1177.8,1029.3 L1178.3,1029.4 L1178.8,1029.3 L1179.2,1028.9 L1179.7,1029.0 L1180.2,1028.5 L1180.7,1029.2 L1181.1,1028.8 L1181.6,1029.0 L1182.1,1028.5 L1182.6,1028.7 L1183.1,1028.7 L1183.5,1028.8 L1184.0,1028.0 L1184.5,1028.5 L1185.0,1028.1 L1185.5,1027.8 L1185.9,1028.0 L1186.4,1027.6 L1186.9,1027.4 L1187.4,1027.0 L1187.8,1027.0 L1188.3,1026.7 L1188.8,1026.3 L1189.3,1025.8 L1189.8,1025.5 L1190.2,1025.3 L1190.7,1025.0 L1191.2,1024.1 L1191.7,1023.8 L1192.1,1022.6 L1192.6,1021.4 L1193.1,1020.8 L1193.6,1019.0 L1194.1,1017.9 L1194.5,1016.2 L1195.0,1013.4 L1195.5,1010.6 L1196.0,1007.5 L1196.5,1001.8 L1196.9,994.5 L1197.4,983.7 L1197.9,966.5 L1198.4,940.6 L1198.8,902.9 L1199.3,851.1 L1199.8,791.8 L1200.3,736.5 L1200.8,713.6 L1201.2,733.3 L1201.7,772.3 L1202.2,805.3 L1202.7,822.8 L1203.2,827.0 L1203.6,833.6 L1204.1,855.0 L1204.6,889.2 L1205.1,924.1 L1205.5,952.7 L1206.0,974.0 L1206.5,988.9 L1207.0,998.6 L1207.5,1005.0 L1207.9,1009.8 L1208.4,1013.6 L1208.9,1015.7 L1209.4,1017.9 L1209.8,1019.4 L1210.3,1020.8 L1210.8,1022.0 L1211.3,1022.9 L1211.8,1023.7 L1212.2,1024.2 L1212.7,1024.8 L1213.2,1025.7 L1213.7,1026.2 L1214.2,1026.7 L1214.6,1026.8 L1215.1,1026.9 L1215.6,1027.6 L1216.1,1027.9 L1216.5,1027.6 L1217.0,1028.4 L1217.5,1028.6 L1218.0,1029.0 L1218.5,1028.4 L1218.9,1028.5 L1219.4,1029.3 L1219.9,1028.7 L1220.4,1029.1 L1220.9,1029.1 L1221.3,1029.2 L1221.8,1029.1 L1222.3,1029.6 L1222.8,1030.1 L1223.2,1030.0 L1223.7,1030.1 L1224.2,1029.9 L1224.7,1030.5 L1225.2,1030.3 L1225.6,1030.5 L1226.1,1029.9 L1226.6,1030.4 L1227.1,1030.1 L1227.6,1030.5 L1228.0,1030.5 L1228.5,1030.2 L1229.0,1030.6 L1229.5,1030.9 L1229.9,1030.8 L1230.4,1030.9 L1230.9,1030.5 L1231.4,1030.6 L1231.9,1030.5 L1232.3,1030.9 L1232.8,1031.2 L1233.3,1031.0 L1233.8,1030.9 L1234.2,1030.6 L1234.7,1031.1 L1235.2,1030.9 L1235.7,1030.5 L1236.2,1030.6 L1236.6,1031.0 L1237.1,1030.8 L1237.6,1031.6 L1238.1,1031.2 L1238.6,1030.9 L1239.0,1031.0 L1239.5,1031.6 L1240.0,1031.0 L1240.5,1031.5 L1240.9,1031.4 L1241.4,1031.7 L1241.9,1031.4 L1242.4,1031.2 L1242.9,1031.5 L1243.3,1031.4 L1243.8,1031.6 L1244.3,1031.4 L1244.8,1031.9 L1245.3,1031.4 L1245.7,1031.5 L1246.2,1031.3 L1246.7,1031.5 L1247.2,1031.5 L1247.6,1031.5 L1248.1,1031.7 L1248.6,1031.4 L1249.1,1031.3 L1249.6,1031.8 L1250.0,1031.5 L1250.5,1031.4 L1251.0,1031.9 L1251.5,1031.8 L1251.9,1030.9 L1252.4,1031.5 L1252.9,1031.8 L1253.4,1031.9 L1253.9,1031.5 L1254.3,1032.1 L1254.8,1031.4 L1255.3,1031.6 L1255.8,1031.7 L1256.3,1031.7 L1256.7,1031.9 L1257.2,1032.0 L1257.7,1031.7 L1258.2,1032.1 L1258.6,1031.6 L1259.1,1031.7 L1259.6,1032.2 L1260.1,1031.8 L1260.6,1032.1 L1261.0,1031.7 L1261.5,1031.7 L1262.0,1031.8 L1262.5,1031.9 L1263.0,1031.7 L1263.4,1031.8 L1263.9,1032.0 L1264.4,1032.2 L1264.9,1031.9 L1265.3,1032.1 L1265.8,1032.1 L1266.3,1031.6 L1266.8,1031.5 L1267.3,1032.4 L1267.7,1032.3 L1268.2,1031.9 L1268.7,1032.0 L1269.2,1031.7 L1269.6,1031.6 L1270.1,1032.0 L1270.6,1031.5 L1271.1,1032.2 L1271.6,1031.8 L1272.0,1032.1 L1272.5,1032.5 L1273.0,1032.5 L1273.5,1031.9 L1274.0,1032.3 L1274.4,1031.7 L1274.9,1031.9 L1275.4,1032.1 L1275.9,1032.4 L1276.3,1031.9 L1276.8,1032.2 L1277.3,1032.1 L1277.8,1031.7 L1278.3,1032.0 L1278.7,1032.5 L1279.2,1032.1 L1279.7,1032.2 L1280.2,1032.3 L1280.7,1031.9 L1281.1,1032.4 L1281.6,1032.5 L1282.1,1032.6 L1282.6,1032.5 L1283.0,1032.0 L1283.5,1032.0 L1284.0,1031.9 L1284.5,1031.9 L1285.0,1031.9 L1285.4,1032.4 L1285.9,1032.6 L1286.4,1032.0 L1286.9,1032.4 L1287.4,1031.8 L1287.8,1032.1 L1288.3,1031.9 L1288.8,1031.7 L1289.3,1032.2 L1289.7,1032.2 L1290.2,1032.1 L1290.7,1032.0 L1291.2,1031.9 L1291.7,1032.2 L1292.1,1032.0 L1292.6,1032.3 L1293.1,1031.9 L1293.6,1032.3 L1294.0,1032.3 L1294.5,1032.5 L1295.0,1032.5 L1295.5,1032.3 L1296.0,1032.0 L1296.4,1031.7 L1296.9,1032.2 L1297.4,1032.6 L1297.9,1032.7 L1298.4,1031.5 L1298.8,1032.0 L1299.3,1032.1 L1299.8,1031.9 L1300.3,1032.2 L1300.7,1032.2 L1301.2,1032.0 L1301.7,1032.1 L1302.2,1031.7 L1302.7,1031.9 L1303.1,1031.9 L1303.6,1032.4 L1304.1,1031.7 L1304.6,1032.1 L1305.1,1032.3 L1305.5,1032.1 L1306.0,1032.3 L1306.5,1031.9 L1307.0,1032.2 L1307.4,1032.3 L1307.9,1032.7 L1308.4,1032.2 L1308.9,1032.4 L1309.4,1032.0 L1309.8,1032.0 L1310.3,1032.4 L1310.8,1032.1 L1311.3,1032.3 L1311.7,1032.1 L1312.2,1032.5 L1312.7,1032.6 L1313.2,1031.6 L1313.7,1032.4 L1314.1,1031.9 L1314.6,1031.9 L1315.1,1031.7 L1315.6,1031.9 L1316.1,1031.4 L1316.5,1031.5 L1317.0,1031.4 L1317.5,1031.7 L1318.0,1031.8 L1318.4,1031.7 L1318.9,1031.6 L1319.4,1031.2 L1319.9,1030.9 L1320.4,1031.4 L1320.8,1031.3 L1321.3,1031.3 L1321.8,1031.5 L1322.3,1031.0 L1322.8,1030.9 L1323.2,1030.2 L1323.7,1030.9 L1324.2,1030.6 L1324.7,1030.3 L1325.1,1030.5 L1325.6,1030.0 L1326.1,1030.0 L1326.6,1030.5 L1327.1,1030.0 L1327.5,1029.8 L1328.0,1029.6 L1328.5,1029.3 L1329.0,1028.9 L1329.4,1029.2 L1329.9,1028.2 L1330.4,1028.0 L1330.9,1027.3 L1331.4,1026.7 L1331.8,1025.5 L1332.3,1025.0 L1332.8,1025.1 L1333.3,1024.1 L1333.8,1022.4 L1334.2,1021.1 L1334.7,1019.5 L1335.2,1016.9 L1335.7,1014.7 L1336.1,1009.8 L1336.6,1004.1 L1337.1,995.0 L1337.6,983.9 L1338.1,966.2 L1338.5,943.6 L1339.0,914.5 L1339.5,884.0 L1340.0,858.1 L1340.5,847.7 L1340.9,856.4 L1341.4,875.3 L1341.9,893.7 L1342.4,905.6 L1342.8,911.5 L1343.3,913.5 L1343.8,918.0 L1344.3,929.6 L1344.8,946.7 L1345.2,964.1 L1345.7,980.1 L1346.2,992.9 L1346.7,1001.5 L1347.2,1008.5 L1347.6,1013.4 L1348.1,1016.1 L1348.6,1018.8 L1349.1,1020.1 L1349.5,1021.8 L1350.0,1022.7 L1350.5,1023.7 L1351.0,1024.5 L1351.5,1025.2 L1351.9,1025.7 L1352.4,1025.5 L1352.9,1026.9 L1353.4,1026.7 L1353.8,1026.6 L1354.3,1026.9 L1354.8,1027.3 L1355.3,1027.0 L1355.8,1027.2 L1356.2,1027.2 L1356.7,1027.4 L1357.2,1026.9 L1357.7,1027.1 L1358.2,1026.9 L1358.6,1026.5 L1359.1,1026.6 L1359.6,1025.9 L1360.1,1025.1 L1360.5,1024.9 L1361.0,1024.2 L1361.5,1023.3 L1362.0,1022.4 L1362.5,1021.8 L1362.9,1019.7 L1363.4,1017.9 L1363.9,1015.2 L1364.4,1012.3 L1364.9,1007.2 L1365.3,1000.1 L1365.8,990.0 L1366.3,976.1 L1366.8,956.2 L1367.2,929.7 L1367.7,899.4 L1368.2,869.2 L1368.7,848.3 L1369.2,845.2 L1369.6,860.2 L1370.1,881.4 L1370.6,898.5 L1371.1,908.7 L1371.5,912.1 L1372.0,913.0 L1372.5,918.9 L1373.0,932.0 L1373.5,949.3 L1373.9,967.6 L1374.4,983.2 L1374.9,994.9 L1375.4,1004.0 L1375.9,1010.0 L1376.3,1015.0 L1376.8,1017.6 L1377.3,1020.7 L1377.8,1021.8 L1378.2,1023.1 L1378.7,1024.2 L1379.2,1025.3 L1379.7,1026.0 L1380.2,1026.7 L1380.6,1027.3 L1381.1,1028.1 L1381.6,1028.6 L1382.1,1028.7 L1382.6,1029.5 L1383.0,1029.1 L1383.5,1029.4 L1384.0,1029.6 L1384.5,1030.3 L1384.9,1029.9 L1385.4,1030.1 L1385.9,1031.1 L1386.4,1031.3 L1386.9,1031.4 L1387.3,1030.7 L1387.8,1031.2 L1388.3,1031.6 L1388.8,1031.5 L1389.2,1031.1 L1389.7,1031.5 L1390.2,1031.2 L1390.7,1031.4 L1391.2,1032.5 L1391.6,1032.1 L1392.1,1031.6 L1392.6,1031.6 L1393.1,1032.2 L1393.6,1032.0 L1394.0,1032.4 L1394.5,1032.1 L1395.0,1032.2 L1395.5,1032.4 L1395.9,1032.1 L1396.4,1031.9 L1396.9,1032.1 L1397.4,1032.3 L1397.9,1032.5 L1398.3,1032.5 L1398.8,1032.6 L1399.3,1032.7 L1399.8,1032.4 L1400.3,1033.0 L1400.7,1033.2 L1401.2,1032.8 L1401.7,1032.8 L1402.2,1033.1 L1402.6,1033.0 L1403.1,1032.8 L1403.6,1032.8 L1404.1,1032.6 L1404.6,1032.5 L1405.0,1033.0 L1405.5,1033.2 L1406.0,1032.6 L1406.5,1032.9 L1407.0,1033.0 L1407.4,1032.8 L1407.9,1032.7 L1408.4,1032.8 L1408.9,1032.4 L1409.3,1032.9 L1409.8,1032.9 L1410.3,1033.6 L1410.8,1033.2 L1411.3,1032.9 L1411.7,1033.0 L1412.2,1033.5 L1412.7,1033.4 L1413.2,1033.0 L1413.6,1033.0 L1414.1,1032.6 L1414.6,1032.9 L1415.1,1032.9 L1415.6,1032.7 L1416.0,1033.4 L1416.5,1032.4 L1417.0,1032.8 L1417.5,1033.0 L1418.0,1032.9 L1418.4,1033.2 L1418.9,1032.3 L1419.4,1032.4 L1419.9,1032.6 L1420.3,1032.6 L1420.8,1032.3 L1421.3,1032.1 L1421.8,1032.6 L1422.3,1031.9 L1422.7,1031.9 L1423.2,1032.3 L1423.7,1032.3 L1424.2,1032.0 L1424.7,1031.4 L1425.1,1031.3 L1425.6,1031.2 L1426.1,1031.1 L1426.6,1031.3 L1427.0,1031.8 L1427.5,1031.5 L1428.0,1031.2 L1428.5,1031.3 L1429.0,1031.2 L1429.4,1032.0 L1429.9,1031.2 L1430.4,1031.9 L1430.9,1031.5 L1431.3,1031.8 L1431.8,1031.7 L1432.3,1032.5 L1432.8,1032.4 L1433.3,1033.3 L1433.7,1032.3 L1434.2,1032.4 L1434.7,1033.0 L1435.2,1033.0 L1435.7,1032.9 L1436.1,1032.5 L1436.6,1033.5 L1437.1,1033.3 L1437.6,1033.3 L1438.0,1033.1 L1438.5,1033.4 L1439.0,1033.1 L1439.5,1033.3 L1440.0,1033.3 L1440.4,1033.7 L1440.9,1033.3 L1441.4,1033.3 L1441.9,1033.7 L1442.4,1033.5 L1442.8,1033.5 L1443.3,1033.4 L1443.8,1033.8 L1444.3,1033.3 L1444.7,1033.6 L1445.2,1034.1 L1445.7,1033.6 L1446.2,1033.3 L1446.7,1033.2 L1447.1,1033.6 L1447.6,1033.2 L1448.1,1033.1 L1448.6,1033.3 L1449.0,1033.3 L1449.5,1033.8 L1450.0,1033.2 L1450.5,1034.0 L1451.0,1033.4 L1451.4,1033.6 L1451.9,1033.8 L1452.4,1033.6 L1452.9,1033.8 L1453.4,1033.3 L1453.8,1033.0 L1454.3,1033.5 L1454.8,1033.1 L1455.3,1033.4 L1455.7,1033.9 L1456.2,1033.5 L1456.7,1033.4 L1457.2,1033.3 L1457.7,1033.5 L1458.1,1033.6 L1458.6,1033.2 L1459.1,1033.7 L1459.6,1033.3 L1460.1,1033.7 L1460.5,1033.5 L1461.0,1033.9 L1461.5,1033.9 L1462.0,1033.6 L1462.4,1033.6 L1462.9,1033.7 L1463.4,1034.0 L1463.9,1033.9 L1464.4,1033.7 L1464.8,1033.7 L1465.3,1034.1 L1465.8,1033.2 L1466.3,1033.8 L1466.8,1033.4 L1467.2,1034.0 L1467.7,1033.5 L1468.2,1033.6 L1468.7,1033.3 L1469.1,1033.6 L1469.6,1033.9 L1470.1,1034.1 L1470.6,1033.3 L1471.1,1033.5 L1471.5,1034.7 L1472.0,1033.9 L1472.5,1033.6 L1473.0,1033.8 L1473.4,1032.9 L1473.9,1034.1 L1474.4,1033.7 L1474.9,1033.2 L1475.4,1034.0 L1475.8,1033.5 L1476.3,1033.3 L1476.8,1033.8 L1477.3,1033.7 L1477.8,1033.5 L1478.2,1033.6 L1478.7,1033.3 L1479.2,1033.2 L1479.7,1033.9 L1480.1,1034.0 L1480.6,1033.7 L1481.1,1033.7 L1481.6,1033.5 L1482.1,1033.6 L1482.5,1033.4 L1483.0,1034.1 L1483.5,1033.5 L1484.0,1033.7 L1484.5,1033.6 L1484.9,1033.2 L1485.4,1034.2 L1485.9,1033.5 L1486.4,1033.4 L1486.8,1033.6 L1487.3,1033.4 L1487.8,1033.6 L1488.3,1033.3 L1488.8,1033.8 L1489.2,1033.6 L1489.7,1033.2 L1490.2,1033.9 L1490.7,1033.6 L1491.1,1033.3 L1491.6,1033.7 L1492.1,1033.7 L1492.6,1034.1 L1493.1,1033.3 L1493.5,1033.8 L1494.0,1033.5 L1494.5,1033.7 L1495.0,1033.5 L1495.5,1033.5 L1495.9,1033.7 L1496.4,1033.2 L1496.9,1033.0 L1497.4,1033.5 L1497.8,1033.4 L1498.3,1033.6 L1498.8,1033.7 L1499.3,1033.5 L1499.8,1033.9 L1500.2,1033.5 L1500.7,1033.6 L1501.2,1033.8 L1501.7,1033.7 L1502.2,1033.5 L1502.6,1033.5 L1503.1,1033.3 L1503.6,1033.3 L1504.1,1033.5 L1504.5,1033.7 L1505.0,1033.4 L1505.5,1033.7 L1506.0,1034.0 L1506.5,1034.1 L1506.9,1033.5 L1507.4,1033.7 L1507.9,1033.6 L1508.4,1033.6 L1508.8,1033.6 L1509.3,1033.6 L1509.8,1033.6 L1510.3,1033.4 L1510.8,1033.3 L1511.2,1033.4 L1511.7,1033.5 L1512.2,1033.7 L1512.7,1033.4 L1513.2,1033.5 L1513.6,1033.7 L1514.1,1033.0 L1514.6,1033.2 L1515.1,1033.4 L1515.5,1033.2 L1516.0,1032.9 L1516.5,1033.5 L1517.0,1033.2 L1517.5,1032.9 L1517.9,1033.7 L1518.4,1032.7 L1518.9,1033.1 L1519.4,1032.9 L1519.9,1033.1 L1520.3,1033.1 L1520.8,1032.7 L1521.3,1032.9 L1521.8,1032.8 L1522.2,1032.6 L1522.7,1033.1 L1523.2,1032.8 L1523.7,1032.6 L1524.2,1032.4 L1524.6,1032.5 L1525.1,1032.5 L1525.6,1032.3 L1526.1,1032.7 L1526.6,1031.5 L1527.0,1031.6 L1527.5,1032.0 L1528.0,1031.4 L1528.5,1031.8 L1528.9,1031.4 L1529.4,1031.6 L1529.9,1031.3 L1530.4,1031.3 L1530.9,1030.9 L1531.3,1030.6 L1531.8,1030.0 L1532.3,1029.5 L1532.8,1028.5 L1533.2,1027.1 L1533.7,1025.3 L1534.2,1023.2 L1534.7,1020.9 L1535.2,1016.6 L1535.6,1013.2 L1536.1,1008.7 L1536.6,1005.5 L1537.1,1003.5 L1537.6,1003.7 L1538.0,1006.1 L1538.5,1008.2 L1539.0,1011.1 L1539.5,1012.4 L1539.9,1012.2 L1540.4,1012.8 L1540.9,1012.4 L1541.4,1013.1 L1541.9,1014.1 L1542.3,1016.5 L1542.8,1018.4 L1543.3,1019.7 L1543.8,1020.4 L1544.3,1021.3 L1544.7,1021.4 L1545.2,1020.5 L1545.7,1019.5 L1546.2,1017.1 L1546.6,1014.3 L1547.1,1009.8 L1547.6,1003.0 L1548.1,993.9 L1548.6,979.4 L1549.0,960.9 L1549.5,939.5 L1550.0,916.7 L1550.5,901.0 L1550.9,898.4 L1551.4,909.2 L1551.9,926.6 L1552.4,942.5 L1552.9,953.5 L1553.3,957.8 L1553.8,957.7 L1554.3,954.3 L1554.8,953.5 L1555.3,958.7 L1555.7,970.6 L1556.2,983.0 L1556.7,994.3 L1557.2,1003.6 L1557.6,1010.7 L1558.1,1015.7 L1558.6,1020.0 L1559.1,1022.0 L1559.6,1023.4 L1560.0,1025.0 L1560.5,1025.5 L1561.0,1027.2 L1561.5,1028.0 L1562.0,1028.8 L1562.4,1029.4 L1562.9,1029.0 L1563.4,1029.7 L1563.9,1030.2 L1564.3,1030.4 L1564.8,1030.2 L1565.3,1030.8 L1565.8,1030.9 L1566.3,1031.3 L1566.7,1031.0 L1567.2,1031.1 L1567.7,1031.1 L1568.2,1031.2 L1568.6,1031.2 L1569.1,1031.4 L1569.6,1031.7 L1570.1,1031.7 L1570.6,1032.0 L1571.0,1032.0 L1571.5,1031.9 L1572.0,1031.4 L1572.5,1031.9 L1573.0,1032.1 L1573.4,1031.4 L1573.9,1031.4 L1574.4,1031.5 L1574.9,1031.4 L1575.3,1031.6 L1575.8,1031.4 L1576.3,1031.7 L1576.8,1031.2 L1577.3,1031.5 L1577.7,1031.3 L1578.2,1031.1 L1578.7,1031.6 L1579.2,1031.2 L1579.7,1031.2 L1580.1,1030.8 L1580.6,1031.0 L1581.1,1030.8 L1581.6,1030.4 L1582.0,1029.7 L1582.5,1030.2 L1583.0,1029.8 L1583.5,1029.4 L1584.0,1029.0 L1584.4,1028.4 L1584.9,1027.9 L1585.4,1026.8 L1585.9,1026.2 L1586.4,1025.2 L1586.8,1023.7 L1587.3,1022.1 L1587.8,1021.0 L1588.3,1018.6 L1588.7,1015.9 L1589.2,1013.0 L1589.7,1009.3 L1590.2,1006.4 L1590.7,1003.2 L1591.1,1000.2 L1591.6,996.1 L1592.1,993.9 L1592.6,992.9 L1593.0,991.8 L1593.5,991.8 L1594.0,992.9 L1594.5,993.7 L1595.0,995.2 L1595.4,997.0 L1595.9,998.7 L1596.4,999.9 L1596.9,1002.7 L1597.4,1004.0 L1597.8,1006.8 L1598.3,1010.5 L1598.8,1012.1 L1599.3,1015.0 L1599.7,1016.9 L1600.2,1019.2 L1600.7,1021.0 L1601.2,1022.7 L1601.7,1024.4 L1602.1,1026.0 L1602.6,1026.8 L1603.1,1027.8 L1603.6,1028.0 L1604.1,1029.2 L1604.5,1029.4 L1605.0,1030.1 L1605.5,1030.0 L1606.0,1030.3 L1606.4,1031.0 L1606.9,1031.1 L1607.4,1031.1 L1607.9,1031.1 L1608.4,1031.4 L1608.8,1031.8 L1609.3,1032.0 L1609.8,1031.7 L1610.3,1031.9 L1610.7,1032.2 L1611.2,1031.9 L1611.7,1032.5 L1612.2,1032.3 L1612.7,1032.4 L1613.1,1031.8 L1613.6,1032.1 L1614.1,1032.3 L1614.6,1032.5 L1615.1,1032.4 L1615.5,1032.9 L1616.0,1032.8 L1616.5,1032.8 L1617.0,1032.3 L1617.4,1033.3 L1617.9,1032.9 L1618.4,1033.2 L1618.9,1032.8 L1619.4,1033.1 L1619.8,1033.3 L1620.3,1033.2 L1620.8,1033.4 L1621.3,1033.1 L1621.8,1033.7 L1622.2,1032.7 L1622.7,1033.1 L1623.2,1033.5 L1623.7,1033.2 L1624.1,1033.2 L1624.6,1032.8 L1625.1,1033.7 L1625.6,1032.8 L1626.1,1033.5 L1626.5,1033.4 L1627.0,1033.6 L1627.5,1033.8 L1628.0,1033.2 L1628.4,1033.2 L1628.9,1033.3 L1629.4,1032.9 L1629.9,1033.7 L1630.4,1033.3 L1630.8,1033.5 L1631.3,1033.2 L1631.8,1033.5 L1632.3,1033.3 L1632.8,1033.5 L1633.2,1033.2 L1633.7,1033.8 L1634.2,1033.3 L1634.7,1032.8 L1635.1,1033.7 L1635.6,1033.4 L1636.1,1033.3 L1636.6,1034.2 L1637.1,1033.5 L1637.5,1033.2 L1638.0,1033.4 L1638.5,1033.7 L1639.0,1033.5 L1639.5,1033.9 L1639.9,1033.9 L1640.4,1033.4 L1640.9,1033.6 L1641.4,1033.8 L1641.8,1033.5 L1642.3,1033.5 L1642.8,1033.9 L1643.3,1033.7 L1643.8,1033.2 L1644.2,1033.5 L1644.7,1033.5 L1645.2,1033.6 L1645.7,1033.4 L1646.2,1034.0 L1646.6,1033.4 L1647.1,1033.4 L1647.6,1033.7 L1648.1,1033.0 L1648.5,1033.4 L1649.0,1033.9 L1649.5,1033.3 L1650.0,1033.5 L1650.5,1034.0 L1650.9,1033.8 L1651.4,1033.7 L1651.9,1033.8 L1652.4,1033.5 L1652.8,1033.8 L1653.3,1033.7 L1653.8,1034.4 L1654.3,1033.9 L1654.8,1033.6 L1655.2,1033.7 L1655.7,1033.8 L1656.2,1033.4 L1656.7,1033.5 L1657.2,1034.2 L1657.6,1033.4 L1658.1,1033.6 L1658.6,1034.0 L1659.1,1034.2 L1659.5,1033.5 L1660.0,1034.2 L1660.5,1033.7 L1661.0,1034.2 L1661.5,1033.9 L1661.9,1033.7 L1662.4,1034.0 L1662.9,1033.9 L1663.4,1033.5 L1663.9,1034.4 L1664.3,1033.7 L1664.8,1034.1 L1665.3,1033.6 L1665.8,1033.2 L1666.2,1033.4 L1666.7,1033.7 L1667.2,1033.9 L1667.7,1034.2 L1668.2,1033.8 L1668.6,1033.7 L1669.1,1033.4 L1669.6,1033.7 L1670.1,1033.8 L1670.5,1033.1 L1671.0,1034.1 L1671.5,1034.0 L1672.0,1034.3 L1672.5,1033.4 L1672.9,1033.7 L1673.4,1033.7 L1673.9,1033.3 L1674.4,1033.4 L1674.9,1033.4 L1675.3,1033.8 L1675.8,1033.7 L1676.3,1034.0 L1676.8,1033.5 L1677.2,1033.2 L1677.7,1033.7 L1678.2,1033.6 L1678.7,1033.7 L1679.2,1033.8 L1679.6,1033.3 L1680.1,1033.6 L1680.6,1033.1 L1681.1,1033.4 L1681.6,1033.5 L1682.0,1033.2 L1682.5,1033.2 L1683.0,1032.7 L1683.5,1032.9 L1683.9,1033.0 L1684.4,1032.6 L1684.9,1032.6 L1685.4,1033.4 L1685.9,1032.7 L1686.3,1032.3 L1686.8,1032.0 L1687.3,1032.6 L1687.8,1031.2 L1688.2,1031.6 L1688.7,1031.6 L1689.2,1031.0 L1689.7,1030.9 L1690.2,1030.0 L1690.6,1029.8 L1691.1,1029.0 L1691.6,1028.1 L1692.1,1026.8 L1692.6,1024.9 L1693.0,1022.5 L1693.5,1018.4 L1694.0,1013.1 L1694.5,1006.5 L1694.9,998.3 L1695.4,989.1 L1695.9,981.3 L1696.4,977.8 L1696.9,980.1 L1697.3,985.7 L1697.8,992.9 L1698.3,999.9 L1698.8,1003.5 L1699.3,1004.8 L1699.7,1004.4 L1700.2,1003.4 L1700.7,1001.5 L1701.2,1002.5 L1701.6,1005.2 L1702.1,1010.0 L1702.6,1014.2 L1703.1,1019.0 L1703.6,1021.7 L1704.0,1024.8 L1704.5,1027.2 L1705.0,1028.5 L1705.5,1028.8 L1706.0,1030.2 L1706.4,1030.7 L1706.9,1031.0 L1707.4,1031.1 L1707.9,1031.5 L1708.3,1031.7 L1708.8,1032.3 L1709.3,1032.3 L1709.8,1032.7 L1710.3,1032.7 L1710.7,1032.2 L1711.2,1032.7 L1711.7,1033.3 L1712.2,1032.5 L1712.6,1032.9 L1713.1,1032.7 L1713.6,1032.7 L1714.1,1033.0 L1714.6,1033.3 L1715.0,1033.2 L1715.5,1033.2 L1716.0,1033.3 L1716.5,1032.6 L1717.0,1033.3 L1717.4,1033.1 L1717.9,1032.9 L1718.4,1033.0 L1718.9,1032.7 L1719.3,1033.2 L1719.8,1032.6 L1720.3,1032.4 L1720.8,1032.7 L1721.3,1032.5 L1721.7,1032.5 L1722.2,1032.9 L1722.7,1032.3 L1723.2,1032.2 L1723.7,1032.6 L1724.1,1031.4 L1724.6,1031.7 L1725.1,1031.6 L1725.6,1031.4 L1726.0,1031.2 L1726.5,1029.9 L1727.0,1029.7 L1727.5,1028.7 L1728.0,1027.6 L1728.4,1026.1 L1728.9,1023.9 L1729.4,1021.6 L1729.9,1017.7 L1730.3,1011.6 L1730.8,1004.8 L1731.3,995.5 L1731.8,985.5 L1732.3,976.2 L1732.7,972.5 L1733.2,973.7 L1733.7,979.7 L1734.2,987.8 L1734.7,994.8 L1735.1,1000.4 L1735.6,1002.8 L1736.1,1003.0 L1736.6,1001.3 L1737.0,998.8 L1737.5,998.1 L1738.0,1000.7 L1738.5,1004.6 L1739.0,1010.5 L1739.4,1015.8 L1739.9,1019.4 L1740.4,1023.4 L1740.9,1025.7 L1741.4,1027.6 L1741.8,1028.6 L1742.3,1029.7 L1742.8,1030.5 L1743.3,1031.5 L1743.7,1031.6 L1744.2,1031.9 L1744.7,1031.7 L1745.2,1032.4 L1745.7,1032.3 L1746.1,1032.7 L1746.6,1032.9 L1747.1,1033.2 L1747.6,1033.3 L1748.0,1033.3 L1748.5,1033.3 L1749.0,1033.8 L1749.5,1033.2 L1750.0,1033.6 L1750.4,1034.0 L1750.9,1033.6 L1751.4,1034.0 L1751.9,1034.0 L1752.4,1034.4 L1752.8,1034.2 L1753.3,1033.5 L1753.8,1034.0 L1754.3,1034.1 L1754.7,1034.3 L1755.2,1034.2 L1755.7,1034.6 L1756.2,1034.4 L1756.7,1033.8 L1757.1,1034.0 L1757.6,1033.6 L1758.1,1034.7 L1758.6,1034.2 L1759.1,1034.2 L1759.5,1033.8 L1760.0,1034.1 L1760.5,1034.4 L1761.0,1034.2 L1761.4,1034.2 L1761.9,1034.1 L1762.4,1034.9 L1762.9,1034.2 L1763.4,1033.9 L1763.8,1034.2 L1764.3,1034.3 L1764.8,1034.4 L1765.3,1034.3 L1765.8,1034.1 L1766.2,1034.4 L1766.7,1034.5 L1767.2,1034.0 L1767.7,1035.0 L1768.1,1034.9 L1768.6,1033.9 L1769.1,1034.4 L1769.6,1034.8 L1770.1,1034.9 L1770.5,1035.0 L1771.0,1034.0 L1771.5,1034.2 L1772.0,1034.4 L1772.4,1034.7 L1772.9,1034.2 L1773.4,1034.7 L1773.9,1034.7 L1774.4,1034.7 L1774.8,1034.2 L1775.3,1034.6 L1775.8,1034.6 L1776.3,1034.4 L1776.8,1034.9 L1777.2,1034.5 L1777.7,1035.0 L1778.2,1034.4 L1778.7,1035.1 L1779.1,1035.1 L1779.6,1034.4 L1780.1,1034.7 L1780.6,1034.7 L1781.1,1034.3 L1781.5,1034.8 L1782.0,1034.8 L1782.5,1034.4 L1783.0,1034.7 L1783.5,1034.9 L1783.9,1034.6 L1784.4,1034.4 L1784.9,1035.1 L1785.4,1034.4 L1785.8,1034.7 L1786.3,1035.0 L1786.8,1034.9 L1787.3,1034.1 L1787.8,1034.6 L1788.2,1034.6 L1788.7,1034.6 L1789.2,1034.8 L1789.7,1034.8 L1790.1,1034.7 L1790.6,1034.7 L1791.1,1035.0 L1791.6,1035.0 L1792.1,1034.1 L1792.5,1035.3 L1793.0,1034.5 L1793.5,1034.9 L1794.0,1034.2 L1794.5,1034.5 L1794.9,1034.3 L1795.4,1035.0 L1795.9,1034.9 L1796.4,1034.7 L1796.8,1034.6 L1797.3,1034.8 L1797.8,1034.4 L1798.3,1034.5 L1798.8,1034.4 L1799.2,1034.9 L1799.7,1034.7 L1800.2,1034.3 L1800.7,1034.7 L1801.2,1034.8 L1801.6,1035.0 L1802.1,1034.5 L1802.6,1034.7 L1803.1,1035.2 L1803.5,1034.5 L1804.0,1034.5 L1804.5,1034.8 L1805.0,1034.5 L1805.5,1034.6 L1805.9,1034.4 L1806.4,1034.4 L1806.9,1034.8 L1807.4,1034.4 L1807.8,1034.3 L1808.3,1034.4 L1808.8,1034.5 L1809.3,1034.6 L1809.8,1034.8 L1810.2,1035.0 L1810.7,1034.1 L1811.2,1034.4 L1811.7,1033.9 L1812.2,1034.4 L1812.6,1034.5 L1813.1,1034.1 L1813.6,1034.0 L1814.1,1033.9 L1814.5,1033.7 L1815.0,1034.3 L1815.5,1034.5 L1816.0,1033.6 L1816.5,1034.3 L1816.9,1033.6 L1817.4,1033.1 L1817.9,1033.5 L1818.4,1033.3 L1818.9,1033.0 L1819.3,1032.5 L1819.8,1032.8 L1820.3,1031.9 L1820.8,1031.9 L1821.2,1031.6 L1821.7,1030.9 L1822.2,1030.5 L1822.7,1030.4 L1823.2,1030.8 L1823.6,1031.0 L1824.1,1030.5 L1824.6,1030.9 L1825.1,1031.7 L1825.6,1030.8 L1826.0,1031.6 L1826.5,1031.6 L1827.0,1031.8 L1827.5,1031.2 L1827.9,1031.9 L1828.4,1031.5 L1828.9,1032.4 L1829.4,1032.0 L1829.9,1032.5 L1830.3,1032.3 L1830.8,1032.6 L1831.3,1032.2 L1831.8,1032.8 L1832.2,1032.9 L1832.7,1032.8 L1833.2,1033.2 L1833.7,1032.8 L1834.2,1032.9 L1834.6,1032.7 L1835.1,1033.0 L1835.6,1032.2 L1836.1,1032.1 L1836.6,1031.9 L1837.0,1032.0 L1837.5,1031.6 L1838.0,1031.4 L1838.5,1030.9 L1838.9,1030.3 L1839.4,1029.9 L1839.9,1029.4 L1840.4,1027.9 L1840.9,1028.0 L1841.3,1026.3 L1841.8,1024.8 L1842.3,1022.8 L1842.8,1019.6 L1843.3,1014.8 L1843.7,1009.0 L1844.2,1000.9 L1844.7,989.7 L1845.2,976.2 L1845.6,961.0 L1846.1,948.3 L1846.6,942.5 L1847.1,945.8 L1847.6,955.8 L1848.0,968.2 L1848.5,979.3 L1849.0,988.5 L1849.5,992.2 L1849.9,993.6 L1850.4,991.6 L1850.9,988.2 L1851.4,983.6 L1851.9,982.7 L1852.3,986.4 L1852.8,993.2 L1853.3,1001.3 L1853.8,1008.4 L1854.3,1014.0 L1854.7,1018.3 L1855.2,1022.4 L1855.7,1024.6 L1856.2,1026.9 L1856.6,1027.4 L1857.1,1028.8 L1857.6,1029.2 L1858.1,1029.7 L1858.6,1030.8 L1859.0,1030.7 L1859.5,1030.9 L1860.0,1031.4 L1860.5,1031.1 L1861.0,1031.4 L1861.4,1031.4 L1861.9,1032.1 L1862.4,1031.7 L1862.9,1031.7 L1863.3,1031.7 L1863.8,1031.2 L1864.3,1030.9 L1864.8,1030.1 L1865.3,1030.1 L1865.7,1029.2 L1866.2,1027.7 L1866.7,1026.5 L1867.2,1023.3 L1867.6,1021.0 L1868.1,1016.9 L1868.6,1013.2 L1869.1,1010.2 L1869.6,1009.0 L1870.0,1008.8 L1870.5,1011.3 L1871.0,1014.5 L1871.5,1018.4 L1872.0,1020.3 L1872.4,1021.7 L1872.9,1022.7 L1873.4,1021.8 L1873.9,1020.3 L1874.3,1019.9 L1874.8,1019.3 L1875.3,1020.9 L1875.8,1021.4 L1876.3,1023.9 L1876.7,1025.7 L1877.2,1027.5 L1877.7,1029.0 L1878.2,1030.0 L1878.7,1030.7 L1879.1,1031.1 L1879.6,1031.7 L1880.1,1031.8 L1880.6,1032.1 L1881.0,1032.5 L1881.5,1032.6 L1882.0,1032.9 L1882.5,1032.7 L1883.0,1033.4 L1883.4,1032.6 L1883.9,1032.6 L1884.4,1033.2 L1884.9,1032.6 L1885.4,1032.9 L1885.8,1033.1 L1886.3,1032.7 L1886.8,1032.6 L1887.3,1032.9 L1887.7,1032.6 L1888.2,1032.2 L1888.7,1031.9 L1889.2,1032.0 L1889.7,1031.5 L1890.1,1031.6 L1890.6,1031.3 L1891.1,1031.5 L1891.6,1031.3 L1892.0,1030.6 L1892.5,1030.3 L1893.0,1029.6 L1893.5,1029.0 L1894.0,1028.7 L1894.4,1028.3 L1894.9,1027.4 L1895.4,1026.5 L1895.9,1025.1 L1896.4,1023.1 L1896.8,1022.6 L1897.3,1021.0 L1897.8,1019.0 L1898.3,1016.9 L1898.7,1014.6 L1899.2,1012.6 L1899.7,1009.3 L1900.2,1006.9 L1900.7,1004.1 L1901.1,1001.7 L1901.6,999.4 L1902.1,997.8 L1902.6,996.6 L1903.1,996.8 L1903.5,996.7 L1904.0,997.1 L1904.5,998.2 L1905.0,999.2 L1905.4,1001.2 L1905.9,1001.8 L1906.4,1003.1 L1906.9,1004.0 L1907.4,1005.3 L1907.8,1007.4 L1908.3,1008.6 L1908.8,1010.6 L1909.3,1012.9 L1909.7,1015.0 L1910.2,1016.5 L1910.7,1018.4 L1911.2,1020.1 L1911.7,1021.6 L1912.1,1023.7 L1912.6,1024.1 L1913.1,1025.7 L1913.6,1026.2 L1914.1,1027.3 L1914.5,1028.7 L1915.0,1029.4 L1915.5,1030.0 L1916.0,1030.3 L1916.4,1030.7 L1916.9,1031.1 L1917.4,1031.5 L1917.9,1032.2 L1918.4,1032.6 L1918.8,1032.6 L1919.3,1032.5 L1919.8,1032.6 L1920.3,1033.1 L1920.8,1033.1 L1921.2,1032.8 L1921.7,1033.8 L1922.2,1033.5 L1922.7,1033.5 L1923.1,1033.5 L1923.6,1033.6 L1924.1,1034.2 L1924.6,1033.7 L1925.1,1034.1 L1925.5,1034.3 L1926.0,1034.7 L1926.5,1034.4 L1927.0,1034.3 L1927.4,1034.2 L1927.9,1034.7 L1928.4,1034.8 L1928.9,1034.4 L1929.4,1034.7 L1929.8,1034.5 L1930.3,1034.2 L1930.8,1034.4 L1931.3,1034.9 L1931.8,1035.2 L1932.2,1035.0 L1932.7,1034.7 L1933.2,1034.6 L1933.7,1035.0 L1934.1,1035.0 L1934.6,1034.4 L1935.1,1035.1 L1935.6,1034.7 L1936.1,1035.2 L1936.5,1035.2 L1937.0,1035.2 L1937.5,1035.3 L1938.0,1035.3 L1938.5,1034.8 L1938.9,1034.8 L1939.4,1035.4 L1939.9,1035.3 L1940.4,1034.7 L1940.8,1034.6 L1941.3,1035.4 L1941.8,1035.8 L1942.3,1035.4 L1942.8,1035.1 L1943.2,1035.3 L1943.7,1034.4 L1944.2,1034.9 L1944.7,1035.5 L1945.2,1035.5 L1945.6,1034.6 L1946.1,1035.6 L1946.6,1035.4 L1947.1,1035.5 L1947.5,1035.2 L1948.0,1035.3 L1948.5,1035.0 L1949.0,1035.4 L1949.5,1035.5 L1949.9,1035.0 L1950.4,1035.4 L1950.9,1035.1 L1951.4,1035.6 L1951.8,1035.6 L1952.3,1034.6 L1952.8,1035.4 L1953.3,1035.6 L1953.8,1035.1 L1954.2,1035.2 L1954.7,1035.3 L1955.2,1035.0 L1955.7,1035.3 L1956.2,1035.8 L1956.6,1035.4 L1957.1,1035.8 L1957.6,1035.6 L1958.1,1035.7 L1958.5,1035.3 L1959.0,1035.5 L1959.5,1035.9 L1960.0,1035.7 L1960.5,1035.4 L1960.9,1035.1 L1961.4,1035.0 L1961.9,1035.4 L1962.4,1035.4 L1962.9,1034.8 L1963.3,1035.4 L1963.8,1035.4 L1964.3,1035.4 L1964.8,1035.1 L1965.2,1036.0 L1965.7,1035.6 L1966.2,1034.9"/>
</g>
<g fill="#000" shape-rendering="crispEdges">
<rect x="408.55" y="94" width="6.5" height="1363.4"/>
<rect x="397.7" y="1441.2" width="1688.3" height="6.2"/>
<rect x="385" y="1361.7" width="26.8" height="6.2"/>
<rect x="398" y="1282.3" width="13.8" height="6.2"/>
<rect x="385" y="1202.9" width="26.8" height="6.2"/>
<rect x="398" y="1123.4" width="13.8" height="6.2"/>
<rect x="385" y="1044.0" width="26.8" height="6.2"/>
<rect x="398" y="964.6" width="13.8" height="6.2"/>
<rect x="385" y="885.1" width="26.8" height="6.2"/>
<rect x="398" y="805.7" width="13.8" height="6.2"/>
<rect x="385" y="726.3" width="26.8" height="6.2"/>
<rect x="398" y="646.9" width="13.8" height="6.2"/>
<rect x="385" y="567.4" width="26.8" height="6.2"/>
<rect x="398" y="488.0" width="13.8" height="6.2"/>
<rect x="385" y="408.6" width="26.8" height="6.2"/>
<rect x="398" y="329.2" width="13.8" height="6.2"/>
<rect x="385" y="249.7" width="26.8" height="6.2"/>
<rect x="398" y="170.3" width="13.8" height="6.2"/>
<rect x="385" y="90.9" width="26.8" height="6.2"/>
<rect x="408.4" y="1444.3" width="6" height="13.1"/>
<rect x="528.0" y="1444.3" width="6" height="26.3"/>
<rect x="647.6" y="1444.3" width="6" height="13.1"/>
<rect x="767.2" y="1444.3" width="6" height="26.3"/>
<rect x="886.8" y="1444.3" width="6" height="13.1"/>
<rect x="1006.4" y="1444.3" width="6" height="26.3"/>
<rect x="1126.0" y="1444.3" width="6" height="13.1"/>
<rect x="1245.6" y="1444.3" width="6" height="26.3"/>
<rect x="1365.2" y="1444.3" width="6" height="13.1"/>
<rect x="1484.8" y="1444.3" width="6" height="26.3"/>
<rect x="1604.4" y="1444.3" width="6" height="13.1"/>
<rect x="1724.0" y="1444.3" width="6" height="26.3"/>
<rect x="1843.6" y="1444.3" width="6" height="13.1"/>
<rect x="1963.2" y="1444.3" width="6" height="26.3"/>
<rect x="2082.8" y="1444.3" width="6" height="13.1"/>
</g>
<g font-family="'Liberation Sans', sans-serif" font-size="57" fill="#000">
<text x="366.3" y="1382.2" text-anchor="end">0</text>
<text x="366.3" y="1223.4" text-anchor="end">20000</text>
<text x="366.3" y="1064.5" text-anchor="end">40000</text>
<text x="366.3" y="905.6" text-anchor="end">60000</text>
<text x="366.3" y="746.8" text-anchor="end">80000</text>
<text x="366.3" y="587.9" text-anchor="end">100000</text>
<text x="366.3" y="429.1" text-anchor="end">120000</text>
<text x="366.3" y="270.2" text-anchor="end">140000</text>
<text x="366.3" y="111.4" text-anchor="end">160000</text>
<text x="530.7" y="1533.8" text-anchor="middle">20</text>
<text x="769.9" y="1533.8" text-anchor="middle">30</text>
<text x="1009.1" y="1533.8" text-anchor="middle">40</text>
<text x="1248.3" y="1533.8" text-anchor="middle">50</text>
<text x="1487.5" y="1533.8" text-anchor="middle">60</text>
<text x="1726.7" y="1533.8" text-anchor="middle">70</text>
<text x="1965.9" y="1533.8" text-anchor="middle">80</text>
</g>
<text font-family="'Liberation Sans', sans-serif" font-size="70" x="1248.5" y="1641.7" text-anchor="middle">2Theta</text>
<text font-family="'Liberation Sans', sans-serif" font-size="69.3" transform="translate(97.8 861.3) rotate(-90)">Intensity</text>
<g shape-rendering="crispEdges">
<rect x="1301" y="98.7" width="159" height="3" fill="#000000"/>
<rect x="1301" y="184.9" width="159" height="3" fill="#0000ff"/>
<rect x="1301" y="270.9" width="159" height="3" fill="#ff0080"/>
</g>
<g font-family="'Liberation Sans', sans-serif" font-size="70.5" fill="#000">
<text x="1478" y="125">3%Ag-TiO2</text>
<text x="1478" y="211.3">0.5%Au/3%Ag-TiO2</text>
<text x="1478" y="296.8">2%Au/3%Ag/TiO2</text>
</g>
<g font-family="'Liberation Sans', sans-serif" font-size="58.7" fill="#000">
<text x="1826.6" y="442">Anatase</text>
<text x="1830.2" y="515.8">Ag</text>
<text x="1826.6" y="588.6">Au</text>
</g>
<rect x="1770.1" y="417.1" width="37" height="36.8" fill="#000" shape-rendering="crispEdges"/>
<ellipse cx="1794.0" cy="501.3" rx="15.5" ry="17.0" fill="#d3d3d3" stroke="#000" stroke-width="3" shape-rendering="crispEdges"/>
<path d="M1791.1,548.9 L1808.2,592.6 L1767.8,592.6 Z" fill="#008000" stroke="#000" stroke-width="3" stroke-linejoin="miter" shape-rendering="crispEdges"/>
<rect x="639.9" y="41.1" width="34.2" height="37.8" fill="#000" shape-rendering="crispEdges"/>
<rect x="1188.9" y="662.0" width="34.2" height="37.8" fill="#000" shape-rendering="crispEdges"/>
<rect x="1318.9" y="799.0" width="34.2" height="37.8" fill="#000" shape-rendering="crispEdges"/>
<rect x="1363.9" y="799.0" width="34.2" height="37.8" fill="#000" shape-rendering="crispEdges"/>
<rect x="1532.9" y="851.1" width="34.2" height="37.8" fill="#000" shape-rendering="crispEdges"/>
<rect x="1679.9" y="920.0" width="34.2" height="37.8" fill="#000" shape-rendering="crispEdges"/>
<rect x="1731.9" y="916.9" width="34.2" height="37.8" fill="#000" shape-rendering="crispEdges"/>
<rect x="1826.8" y="891.9" width="34.2" height="37.8" fill="#000" shape-rendering="crispEdges"/>
<ellipse cx="959.5" cy="740.8" rx="15.7" ry="17.0" fill="#d3d3d3" stroke="#000" stroke-width="3" shape-rendering="crispEdges"/>
<ellipse cx="1115.0" cy="910.0" rx="15.7" ry="17.0" fill="#d3d3d3" stroke="#000" stroke-width="3" shape-rendering="crispEdges"/>
<ellipse cx="1597.5" cy="966.9" rx="15.7" ry="17.0" fill="#d3d3d3" stroke="#000" stroke-width="3" shape-rendering="crispEdges"/>
<ellipse cx="1906.5" cy="951.4" rx="15.7" ry="17.0" fill="#d3d3d3" stroke="#000" stroke-width="3" shape-rendering="crispEdges"/>
<path d="M821.6,940.0 L838.9,983.0 L799.1,983.0 Z" fill="#008000" stroke="#000" stroke-width="3" stroke-linejoin="miter" shape-rendering="crispEdges"/>
<path d="M957.0,658.4 L974.8,701.2 L934.3,701.2 Z" fill="#008000" stroke="#000" stroke-width="3" stroke-linejoin="miter" shape-rendering="crispEdges"/>
<path d="M1112.8,827.1 L1130.1,870.1 L1089.5,870.1 Z" fill="#008000" stroke="#000" stroke-width="3" stroke-linejoin="miter" shape-rendering="crispEdges"/>
<path d="M1595.3,884.8 L1612.5,927.4 L1573.0,927.4 Z" fill="#008000" stroke="#000" stroke-width="3" stroke-linejoin="miter" shape-rendering="crispEdges"/>
<path d="M1903.9,868.3 L1920.9,910.9 L1881.1,910.9 Z" fill="#008000" stroke="#000" stroke-width="3" stroke-linejoin="miter" shape-rendering="crispEdges"/>
</svg>
</body>
</html>
